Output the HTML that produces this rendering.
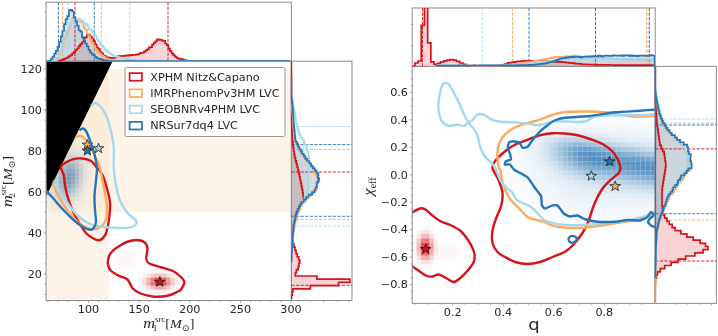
<!DOCTYPE html>
<html><head><meta charset="utf-8"><title>posterior comparison</title>
<style>
html,body{margin:0;padding:0;background:#fff;}
body{width:718px;height:336px;overflow:hidden;}
svg{display:block}
.t{font-family:"DejaVu Sans","Liberation Sans",sans-serif;fill:#262626}
.m{font-family:"Liberation Serif","DejaVu Serif",serif;fill:#262626}
</style></head><body>
<svg width="718" height="336" viewBox="0 0 718 336">
<g id="left">
<clipPath id="cl"><rect x="46.10" y="61.20" width="245.30" height="239.30"/></clipPath>
<clipPath id="clt"><rect x="46.10" y="2.20" width="245.30" height="59.10"/></clipPath>
<clipPath id="clr"><rect x="290.60" y="61.20" width="61.40" height="239.30"/></clipPath>
<g clip-path="url(#cl)">
<rect x="46.10" y="69.00" width="245.30" height="143.50" fill="#fbe3c4" fill-opacity="0.38"/>
<rect x="46.10" y="61.20" width="62.65" height="239.30" fill="#fbe3c4" fill-opacity="0.38"/>
<rect x="46.40" y="139.50" width="4.10" height="4.10" fill="#fff" fill-opacity="0.033"/>
<rect x="46.40" y="143.60" width="4.10" height="4.10" fill="#fff" fill-opacity="0.044"/>
<rect x="46.40" y="147.70" width="4.10" height="4.10" fill="#fff" fill-opacity="0.056"/>
<rect x="46.40" y="151.80" width="4.10" height="4.10" fill="#fff" fill-opacity="0.070"/>
<rect x="46.40" y="155.90" width="4.10" height="4.10" fill="#fff" fill-opacity="0.084"/>
<rect x="46.40" y="160.00" width="4.10" height="4.10" fill="#fff" fill-opacity="0.100"/>
<rect x="46.40" y="164.10" width="4.10" height="4.10" fill="#fff" fill-opacity="0.114"/>
<rect x="46.40" y="164.10" width="4.10" height="4.10" fill="#41739f" fill-opacity="0.026"/>
<rect x="46.40" y="168.20" width="4.10" height="4.10" fill="#fff" fill-opacity="0.128"/>
<rect x="46.40" y="168.20" width="4.10" height="4.10" fill="#41739f" fill-opacity="0.037"/>
<rect x="46.40" y="172.30" width="4.10" height="4.10" fill="#fff" fill-opacity="0.140"/>
<rect x="46.40" y="172.30" width="4.10" height="4.10" fill="#41739f" fill-opacity="0.049"/>
<rect x="46.40" y="176.40" width="4.10" height="4.10" fill="#fff" fill-opacity="0.148"/>
<rect x="46.40" y="176.40" width="4.10" height="4.10" fill="#41739f" fill-opacity="0.060"/>
<rect x="46.40" y="180.50" width="4.10" height="4.10" fill="#fff" fill-opacity="0.153"/>
<rect x="46.40" y="180.50" width="4.10" height="4.10" fill="#41739f" fill-opacity="0.066"/>
<rect x="46.40" y="184.60" width="4.10" height="4.10" fill="#fff" fill-opacity="0.154"/>
<rect x="46.40" y="184.60" width="4.10" height="4.10" fill="#41739f" fill-opacity="0.068"/>
<rect x="46.40" y="188.70" width="4.10" height="4.10" fill="#fff" fill-opacity="0.151"/>
<rect x="46.40" y="188.70" width="4.10" height="4.10" fill="#41739f" fill-opacity="0.063"/>
<rect x="46.40" y="192.80" width="4.10" height="4.10" fill="#fff" fill-opacity="0.144"/>
<rect x="46.40" y="192.80" width="4.10" height="4.10" fill="#41739f" fill-opacity="0.055"/>
<rect x="46.40" y="196.90" width="4.10" height="4.10" fill="#fff" fill-opacity="0.134"/>
<rect x="46.40" y="196.90" width="4.10" height="4.10" fill="#41739f" fill-opacity="0.043"/>
<rect x="46.40" y="201.00" width="4.10" height="4.10" fill="#fff" fill-opacity="0.121"/>
<rect x="46.40" y="201.00" width="4.10" height="4.10" fill="#41739f" fill-opacity="0.031"/>
<rect x="46.40" y="205.10" width="4.10" height="4.10" fill="#fff" fill-opacity="0.107"/>
<rect x="46.40" y="205.10" width="4.10" height="4.10" fill="#41739f" fill-opacity="0.021"/>
<rect x="46.40" y="209.20" width="4.10" height="4.10" fill="#fff" fill-opacity="0.092"/>
<rect x="46.40" y="213.30" width="4.10" height="4.10" fill="#fff" fill-opacity="0.077"/>
<rect x="46.40" y="217.40" width="4.10" height="4.10" fill="#fff" fill-opacity="0.062"/>
<rect x="46.40" y="221.50" width="4.10" height="4.10" fill="#fff" fill-opacity="0.049"/>
<rect x="46.40" y="225.60" width="4.10" height="4.10" fill="#fff" fill-opacity="0.038"/>
<rect x="50.50" y="135.40" width="4.10" height="4.10" fill="#fff" fill-opacity="0.036"/>
<rect x="50.50" y="139.50" width="4.10" height="4.10" fill="#fff" fill-opacity="0.048"/>
<rect x="50.50" y="143.60" width="4.10" height="4.10" fill="#fff" fill-opacity="0.063"/>
<rect x="50.50" y="147.70" width="4.10" height="4.10" fill="#fff" fill-opacity="0.080"/>
<rect x="50.50" y="151.80" width="4.10" height="4.10" fill="#fff" fill-opacity="0.098"/>
<rect x="50.50" y="155.90" width="4.10" height="4.10" fill="#fff" fill-opacity="0.118"/>
<rect x="50.50" y="155.90" width="4.10" height="4.10" fill="#41739f" fill-opacity="0.029"/>
<rect x="50.50" y="160.00" width="4.10" height="4.10" fill="#fff" fill-opacity="0.138"/>
<rect x="50.50" y="160.00" width="4.10" height="4.10" fill="#41739f" fill-opacity="0.047"/>
<rect x="50.50" y="164.10" width="4.10" height="4.10" fill="#fff" fill-opacity="0.157"/>
<rect x="50.50" y="164.10" width="4.10" height="4.10" fill="#41739f" fill-opacity="0.071"/>
<rect x="50.50" y="168.20" width="4.10" height="4.10" fill="#fff" fill-opacity="0.173"/>
<rect x="50.50" y="168.20" width="4.10" height="4.10" fill="#41739f" fill-opacity="0.099"/>
<rect x="50.50" y="172.30" width="4.10" height="4.10" fill="#fff" fill-opacity="0.187"/>
<rect x="50.50" y="172.30" width="4.10" height="4.10" fill="#41739f" fill-opacity="0.126"/>
<rect x="50.50" y="176.40" width="4.10" height="4.10" fill="#fff" fill-opacity="0.197"/>
<rect x="50.50" y="176.40" width="4.10" height="4.10" fill="#41739f" fill-opacity="0.148"/>
<rect x="50.50" y="180.50" width="4.10" height="4.10" fill="#fff" fill-opacity="0.201"/>
<rect x="50.50" y="180.50" width="4.10" height="4.10" fill="#41739f" fill-opacity="0.159"/>
<rect x="50.50" y="184.60" width="4.10" height="4.10" fill="#fff" fill-opacity="0.201"/>
<rect x="50.50" y="184.60" width="4.10" height="4.10" fill="#41739f" fill-opacity="0.157"/>
<rect x="50.50" y="188.70" width="4.10" height="4.10" fill="#fff" fill-opacity="0.195"/>
<rect x="50.50" y="188.70" width="4.10" height="4.10" fill="#41739f" fill-opacity="0.143"/>
<rect x="50.50" y="192.80" width="4.10" height="4.10" fill="#fff" fill-opacity="0.184"/>
<rect x="50.50" y="192.80" width="4.10" height="4.10" fill="#41739f" fill-opacity="0.119"/>
<rect x="50.50" y="196.90" width="4.10" height="4.10" fill="#fff" fill-opacity="0.169"/>
<rect x="50.50" y="196.90" width="4.10" height="4.10" fill="#41739f" fill-opacity="0.091"/>
<rect x="50.50" y="201.00" width="4.10" height="4.10" fill="#fff" fill-opacity="0.152"/>
<rect x="50.50" y="201.00" width="4.10" height="4.10" fill="#41739f" fill-opacity="0.064"/>
<rect x="50.50" y="205.10" width="4.10" height="4.10" fill="#fff" fill-opacity="0.132"/>
<rect x="50.50" y="205.10" width="4.10" height="4.10" fill="#41739f" fill-opacity="0.041"/>
<rect x="50.50" y="209.20" width="4.10" height="4.10" fill="#fff" fill-opacity="0.112"/>
<rect x="50.50" y="209.20" width="4.10" height="4.10" fill="#41739f" fill-opacity="0.025"/>
<rect x="50.50" y="213.30" width="4.10" height="4.10" fill="#fff" fill-opacity="0.093"/>
<rect x="50.50" y="217.40" width="4.10" height="4.10" fill="#fff" fill-opacity="0.075"/>
<rect x="50.50" y="221.50" width="4.10" height="4.10" fill="#fff" fill-opacity="0.059"/>
<rect x="50.50" y="225.60" width="4.10" height="4.10" fill="#fff" fill-opacity="0.045"/>
<rect x="50.50" y="229.70" width="4.10" height="4.10" fill="#fff" fill-opacity="0.033"/>
<rect x="54.60" y="131.30" width="4.10" height="4.10" fill="#fff" fill-opacity="0.037"/>
<rect x="54.60" y="135.40" width="4.10" height="4.10" fill="#fff" fill-opacity="0.050"/>
<rect x="54.60" y="139.50" width="4.10" height="4.10" fill="#fff" fill-opacity="0.066"/>
<rect x="54.60" y="143.60" width="4.10" height="4.10" fill="#fff" fill-opacity="0.085"/>
<rect x="54.60" y="147.70" width="4.10" height="4.10" fill="#fff" fill-opacity="0.106"/>
<rect x="54.60" y="147.70" width="4.10" height="4.10" fill="#41739f" fill-opacity="0.021"/>
<rect x="54.60" y="151.80" width="4.10" height="4.10" fill="#fff" fill-opacity="0.130"/>
<rect x="54.60" y="151.80" width="4.10" height="4.10" fill="#41739f" fill-opacity="0.039"/>
<rect x="54.60" y="155.90" width="4.10" height="4.10" fill="#fff" fill-opacity="0.154"/>
<rect x="54.60" y="155.90" width="4.10" height="4.10" fill="#41739f" fill-opacity="0.068"/>
<rect x="54.60" y="160.00" width="4.10" height="4.10" fill="#fff" fill-opacity="0.178"/>
<rect x="54.60" y="160.00" width="4.10" height="4.10" fill="#41739f" fill-opacity="0.108"/>
<rect x="54.60" y="164.10" width="4.10" height="4.10" fill="#fff" fill-opacity="0.201"/>
<rect x="54.60" y="164.10" width="4.10" height="4.10" fill="#41739f" fill-opacity="0.158"/>
<rect x="54.60" y="168.20" width="4.10" height="4.10" fill="#fff" fill-opacity="0.220"/>
<rect x="54.60" y="168.20" width="4.10" height="4.10" fill="#41739f" fill-opacity="0.212"/>
<rect x="54.60" y="172.30" width="4.10" height="4.10" fill="#fff" fill-opacity="0.235"/>
<rect x="54.60" y="172.30" width="4.10" height="4.10" fill="#41739f" fill-opacity="0.262"/>
<rect x="54.60" y="176.40" width="4.10" height="4.10" fill="#fff" fill-opacity="0.245"/>
<rect x="54.60" y="176.40" width="4.10" height="4.10" fill="#41739f" fill-opacity="0.297"/>
<rect x="54.60" y="180.50" width="4.10" height="4.10" fill="#fff" fill-opacity="0.248"/>
<rect x="54.60" y="180.50" width="4.10" height="4.10" fill="#41739f" fill-opacity="0.310"/>
<rect x="54.60" y="184.60" width="4.10" height="4.10" fill="#fff" fill-opacity="0.245"/>
<rect x="54.60" y="184.60" width="4.10" height="4.10" fill="#41739f" fill-opacity="0.296"/>
<rect x="54.60" y="188.70" width="4.10" height="4.10" fill="#fff" fill-opacity="0.235"/>
<rect x="54.60" y="188.70" width="4.10" height="4.10" fill="#41739f" fill-opacity="0.261"/>
<rect x="54.60" y="192.80" width="4.10" height="4.10" fill="#fff" fill-opacity="0.220"/>
<rect x="54.60" y="192.80" width="4.10" height="4.10" fill="#41739f" fill-opacity="0.210"/>
<rect x="54.60" y="196.90" width="4.10" height="4.10" fill="#fff" fill-opacity="0.200"/>
<rect x="54.60" y="196.90" width="4.10" height="4.10" fill="#41739f" fill-opacity="0.156"/>
<rect x="54.60" y="201.00" width="4.10" height="4.10" fill="#fff" fill-opacity="0.178"/>
<rect x="54.60" y="201.00" width="4.10" height="4.10" fill="#41739f" fill-opacity="0.106"/>
<rect x="54.60" y="205.10" width="4.10" height="4.10" fill="#fff" fill-opacity="0.153"/>
<rect x="54.60" y="205.10" width="4.10" height="4.10" fill="#41739f" fill-opacity="0.067"/>
<rect x="54.60" y="209.20" width="4.10" height="4.10" fill="#fff" fill-opacity="0.129"/>
<rect x="54.60" y="209.20" width="4.10" height="4.10" fill="#41739f" fill-opacity="0.038"/>
<rect x="54.60" y="213.30" width="4.10" height="4.10" fill="#fff" fill-opacity="0.106"/>
<rect x="54.60" y="213.30" width="4.10" height="4.10" fill="#41739f" fill-opacity="0.020"/>
<rect x="54.60" y="217.40" width="4.10" height="4.10" fill="#fff" fill-opacity="0.084"/>
<rect x="54.60" y="221.50" width="4.10" height="4.10" fill="#fff" fill-opacity="0.066"/>
<rect x="54.60" y="225.60" width="4.10" height="4.10" fill="#fff" fill-opacity="0.050"/>
<rect x="54.60" y="229.70" width="4.10" height="4.10" fill="#fff" fill-opacity="0.037"/>
<rect x="58.70" y="127.20" width="4.10" height="4.10" fill="#fff" fill-opacity="0.035"/>
<rect x="58.70" y="131.30" width="4.10" height="4.10" fill="#fff" fill-opacity="0.048"/>
<rect x="58.70" y="135.40" width="4.10" height="4.10" fill="#fff" fill-opacity="0.064"/>
<rect x="58.70" y="139.50" width="4.10" height="4.10" fill="#fff" fill-opacity="0.084"/>
<rect x="58.70" y="143.60" width="4.10" height="4.10" fill="#fff" fill-opacity="0.107"/>
<rect x="58.70" y="143.60" width="4.10" height="4.10" fill="#41739f" fill-opacity="0.021"/>
<rect x="58.70" y="147.70" width="4.10" height="4.10" fill="#fff" fill-opacity="0.133"/>
<rect x="58.70" y="147.70" width="4.10" height="4.10" fill="#41739f" fill-opacity="0.042"/>
<rect x="58.70" y="151.80" width="4.10" height="4.10" fill="#fff" fill-opacity="0.161"/>
<rect x="58.70" y="151.80" width="4.10" height="4.10" fill="#41739f" fill-opacity="0.077"/>
<rect x="58.70" y="155.90" width="4.10" height="4.10" fill="#fff" fill-opacity="0.189"/>
<rect x="58.70" y="155.90" width="4.10" height="4.10" fill="#41739f" fill-opacity="0.130"/>
<rect x="58.70" y="160.00" width="4.10" height="4.10" fill="#fff" fill-opacity="0.216"/>
<rect x="58.70" y="160.00" width="4.10" height="4.10" fill="#41739f" fill-opacity="0.200"/>
<rect x="58.70" y="164.10" width="4.10" height="4.10" fill="#fff" fill-opacity="0.241"/>
<rect x="58.70" y="164.10" width="4.10" height="4.10" fill="#41739f" fill-opacity="0.284"/>
<rect x="58.70" y="168.20" width="4.10" height="4.10" fill="#fff" fill-opacity="0.262"/>
<rect x="58.70" y="168.20" width="4.10" height="4.10" fill="#41739f" fill-opacity="0.370"/>
<rect x="58.70" y="172.30" width="4.10" height="4.10" fill="#fff" fill-opacity="0.277"/>
<rect x="58.70" y="172.30" width="4.10" height="4.10" fill="#41739f" fill-opacity="0.443"/>
<rect x="58.70" y="176.40" width="4.10" height="4.10" fill="#fff" fill-opacity="0.286"/>
<rect x="58.70" y="176.40" width="4.10" height="4.10" fill="#41739f" fill-opacity="0.486"/>
<rect x="58.70" y="180.50" width="4.10" height="4.10" fill="#fff" fill-opacity="0.286"/>
<rect x="58.70" y="180.50" width="4.10" height="4.10" fill="#41739f" fill-opacity="0.491"/>
<rect x="58.70" y="184.60" width="4.10" height="4.10" fill="#fff" fill-opacity="0.280"/>
<rect x="58.70" y="184.60" width="4.10" height="4.10" fill="#41739f" fill-opacity="0.455"/>
<rect x="58.70" y="188.70" width="4.10" height="4.10" fill="#fff" fill-opacity="0.266"/>
<rect x="58.70" y="188.70" width="4.10" height="4.10" fill="#41739f" fill-opacity="0.387"/>
<rect x="58.70" y="192.80" width="4.10" height="4.10" fill="#fff" fill-opacity="0.246"/>
<rect x="58.70" y="192.80" width="4.10" height="4.10" fill="#41739f" fill-opacity="0.303"/>
<rect x="58.70" y="196.90" width="4.10" height="4.10" fill="#fff" fill-opacity="0.222"/>
<rect x="58.70" y="196.90" width="4.10" height="4.10" fill="#41739f" fill-opacity="0.218"/>
<rect x="58.70" y="201.00" width="4.10" height="4.10" fill="#fff" fill-opacity="0.195"/>
<rect x="58.70" y="201.00" width="4.10" height="4.10" fill="#41739f" fill-opacity="0.144"/>
<rect x="58.70" y="205.10" width="4.10" height="4.10" fill="#fff" fill-opacity="0.167"/>
<rect x="58.70" y="205.10" width="4.10" height="4.10" fill="#41739f" fill-opacity="0.087"/>
<rect x="58.70" y="209.20" width="4.10" height="4.10" fill="#fff" fill-opacity="0.139"/>
<rect x="58.70" y="209.20" width="4.10" height="4.10" fill="#41739f" fill-opacity="0.048"/>
<rect x="58.70" y="213.30" width="4.10" height="4.10" fill="#fff" fill-opacity="0.113"/>
<rect x="58.70" y="213.30" width="4.10" height="4.10" fill="#41739f" fill-opacity="0.025"/>
<rect x="58.70" y="217.40" width="4.10" height="4.10" fill="#fff" fill-opacity="0.089"/>
<rect x="58.70" y="221.50" width="4.10" height="4.10" fill="#fff" fill-opacity="0.068"/>
<rect x="58.70" y="225.60" width="4.10" height="4.10" fill="#fff" fill-opacity="0.051"/>
<rect x="58.70" y="229.70" width="4.10" height="4.10" fill="#fff" fill-opacity="0.037"/>
<rect x="62.80" y="127.20" width="4.10" height="4.10" fill="#fff" fill-opacity="0.043"/>
<rect x="62.80" y="131.30" width="4.10" height="4.10" fill="#fff" fill-opacity="0.059"/>
<rect x="62.80" y="135.40" width="4.10" height="4.10" fill="#fff" fill-opacity="0.078"/>
<rect x="62.80" y="139.50" width="4.10" height="4.10" fill="#fff" fill-opacity="0.101"/>
<rect x="62.80" y="143.60" width="4.10" height="4.10" fill="#fff" fill-opacity="0.127"/>
<rect x="62.80" y="143.60" width="4.10" height="4.10" fill="#41739f" fill-opacity="0.037"/>
<rect x="62.80" y="147.70" width="4.10" height="4.10" fill="#fff" fill-opacity="0.156"/>
<rect x="62.80" y="147.70" width="4.10" height="4.10" fill="#41739f" fill-opacity="0.070"/>
<rect x="62.80" y="151.80" width="4.10" height="4.10" fill="#fff" fill-opacity="0.187"/>
<rect x="62.80" y="151.80" width="4.10" height="4.10" fill="#41739f" fill-opacity="0.125"/>
<rect x="62.80" y="155.90" width="4.10" height="4.10" fill="#fff" fill-opacity="0.217"/>
<rect x="62.80" y="155.90" width="4.10" height="4.10" fill="#41739f" fill-opacity="0.203"/>
<rect x="62.80" y="160.00" width="4.10" height="4.10" fill="#fff" fill-opacity="0.246"/>
<rect x="62.80" y="160.00" width="4.10" height="4.10" fill="#41739f" fill-opacity="0.303"/>
<rect x="62.80" y="164.10" width="4.10" height="4.10" fill="#fff" fill-opacity="0.272"/>
<rect x="62.80" y="164.10" width="4.10" height="4.10" fill="#41739f" fill-opacity="0.416"/>
<rect x="62.80" y="168.20" width="4.10" height="4.10" fill="#fff" fill-opacity="0.292"/>
<rect x="62.80" y="168.20" width="4.10" height="4.10" fill="#41739f" fill-opacity="0.525"/>
<rect x="62.80" y="172.30" width="4.10" height="4.10" fill="#fff" fill-opacity="0.306"/>
<rect x="62.80" y="172.30" width="4.10" height="4.10" fill="#41739f" fill-opacity="0.608"/>
<rect x="62.80" y="176.40" width="4.10" height="4.10" fill="#fff" fill-opacity="0.312"/>
<rect x="62.80" y="176.40" width="4.10" height="4.10" fill="#41739f" fill-opacity="0.646"/>
<rect x="62.80" y="180.50" width="4.10" height="4.10" fill="#fff" fill-opacity="0.310"/>
<rect x="62.80" y="180.50" width="4.10" height="4.10" fill="#41739f" fill-opacity="0.632"/>
<rect x="62.80" y="184.60" width="4.10" height="4.10" fill="#fff" fill-opacity="0.300"/>
<rect x="62.80" y="184.60" width="4.10" height="4.10" fill="#41739f" fill-opacity="0.567"/>
<rect x="62.80" y="188.70" width="4.10" height="4.10" fill="#fff" fill-opacity="0.282"/>
<rect x="62.80" y="188.70" width="4.10" height="4.10" fill="#41739f" fill-opacity="0.467"/>
<rect x="62.80" y="192.80" width="4.10" height="4.10" fill="#fff" fill-opacity="0.259"/>
<rect x="62.80" y="192.80" width="4.10" height="4.10" fill="#41739f" fill-opacity="0.354"/>
<rect x="62.80" y="196.90" width="4.10" height="4.10" fill="#fff" fill-opacity="0.231"/>
<rect x="62.80" y="196.90" width="4.10" height="4.10" fill="#41739f" fill-opacity="0.246"/>
<rect x="62.80" y="201.00" width="4.10" height="4.10" fill="#fff" fill-opacity="0.201"/>
<rect x="62.80" y="201.00" width="4.10" height="4.10" fill="#41739f" fill-opacity="0.157"/>
<rect x="62.80" y="205.10" width="4.10" height="4.10" fill="#fff" fill-opacity="0.170"/>
<rect x="62.80" y="205.10" width="4.10" height="4.10" fill="#41739f" fill-opacity="0.092"/>
<rect x="62.80" y="209.20" width="4.10" height="4.10" fill="#fff" fill-opacity="0.140"/>
<rect x="62.80" y="209.20" width="4.10" height="4.10" fill="#41739f" fill-opacity="0.050"/>
<rect x="62.80" y="213.30" width="4.10" height="4.10" fill="#fff" fill-opacity="0.112"/>
<rect x="62.80" y="213.30" width="4.10" height="4.10" fill="#41739f" fill-opacity="0.025"/>
<rect x="62.80" y="217.40" width="4.10" height="4.10" fill="#fff" fill-opacity="0.088"/>
<rect x="62.80" y="221.50" width="4.10" height="4.10" fill="#fff" fill-opacity="0.067"/>
<rect x="62.80" y="225.60" width="4.10" height="4.10" fill="#fff" fill-opacity="0.050"/>
<rect x="62.80" y="229.70" width="4.10" height="4.10" fill="#fff" fill-opacity="0.036"/>
<rect x="66.90" y="127.20" width="4.10" height="4.10" fill="#fff" fill-opacity="0.050"/>
<rect x="66.90" y="131.30" width="4.10" height="4.10" fill="#fff" fill-opacity="0.067"/>
<rect x="66.90" y="135.40" width="4.10" height="4.10" fill="#fff" fill-opacity="0.088"/>
<rect x="66.90" y="139.50" width="4.10" height="4.10" fill="#fff" fill-opacity="0.113"/>
<rect x="66.90" y="139.50" width="4.10" height="4.10" fill="#41739f" fill-opacity="0.025"/>
<rect x="66.90" y="143.60" width="4.10" height="4.10" fill="#fff" fill-opacity="0.141"/>
<rect x="66.90" y="143.60" width="4.10" height="4.10" fill="#41739f" fill-opacity="0.051"/>
<rect x="66.90" y="147.70" width="4.10" height="4.10" fill="#fff" fill-opacity="0.172"/>
<rect x="66.90" y="147.70" width="4.10" height="4.10" fill="#41739f" fill-opacity="0.095"/>
<rect x="66.90" y="151.80" width="4.10" height="4.10" fill="#fff" fill-opacity="0.203"/>
<rect x="66.90" y="151.80" width="4.10" height="4.10" fill="#41739f" fill-opacity="0.164"/>
<rect x="66.90" y="155.90" width="4.10" height="4.10" fill="#fff" fill-opacity="0.234"/>
<rect x="66.90" y="155.90" width="4.10" height="4.10" fill="#41739f" fill-opacity="0.258"/>
<rect x="66.90" y="160.00" width="4.10" height="4.10" fill="#fff" fill-opacity="0.263"/>
<rect x="66.90" y="160.00" width="4.10" height="4.10" fill="#41739f" fill-opacity="0.373"/>
<rect x="66.90" y="164.10" width="4.10" height="4.10" fill="#fff" fill-opacity="0.287"/>
<rect x="66.90" y="164.10" width="4.10" height="4.10" fill="#41739f" fill-opacity="0.495"/>
<rect x="66.90" y="168.20" width="4.10" height="4.10" fill="#fff" fill-opacity="0.306"/>
<rect x="66.90" y="168.20" width="4.10" height="4.10" fill="#41739f" fill-opacity="0.605"/>
<rect x="66.90" y="172.30" width="4.10" height="4.10" fill="#fff" fill-opacity="0.317"/>
<rect x="66.90" y="172.30" width="4.10" height="4.10" fill="#41739f" fill-opacity="0.678"/>
<rect x="66.90" y="176.40" width="4.10" height="4.10" fill="#fff" fill-opacity="0.320"/>
<rect x="66.90" y="176.40" width="4.10" height="4.10" fill="#41739f" fill-opacity="0.698"/>
<rect x="66.90" y="180.50" width="4.10" height="4.10" fill="#fff" fill-opacity="0.314"/>
<rect x="66.90" y="180.50" width="4.10" height="4.10" fill="#41739f" fill-opacity="0.661"/>
<rect x="66.90" y="184.60" width="4.10" height="4.10" fill="#fff" fill-opacity="0.301"/>
<rect x="66.90" y="184.60" width="4.10" height="4.10" fill="#41739f" fill-opacity="0.574"/>
<rect x="66.90" y="188.70" width="4.10" height="4.10" fill="#fff" fill-opacity="0.280"/>
<rect x="66.90" y="188.70" width="4.10" height="4.10" fill="#41739f" fill-opacity="0.459"/>
<rect x="66.90" y="192.80" width="4.10" height="4.10" fill="#fff" fill-opacity="0.254"/>
<rect x="66.90" y="192.80" width="4.10" height="4.10" fill="#41739f" fill-opacity="0.336"/>
<rect x="66.90" y="196.90" width="4.10" height="4.10" fill="#fff" fill-opacity="0.225"/>
<rect x="66.90" y="196.90" width="4.10" height="4.10" fill="#41739f" fill-opacity="0.227"/>
<rect x="66.90" y="201.00" width="4.10" height="4.10" fill="#fff" fill-opacity="0.194"/>
<rect x="66.90" y="201.00" width="4.10" height="4.10" fill="#41739f" fill-opacity="0.140"/>
<rect x="66.90" y="205.10" width="4.10" height="4.10" fill="#fff" fill-opacity="0.162"/>
<rect x="66.90" y="205.10" width="4.10" height="4.10" fill="#41739f" fill-opacity="0.080"/>
<rect x="66.90" y="209.20" width="4.10" height="4.10" fill="#fff" fill-opacity="0.132"/>
<rect x="66.90" y="209.20" width="4.10" height="4.10" fill="#41739f" fill-opacity="0.042"/>
<rect x="66.90" y="213.30" width="4.10" height="4.10" fill="#fff" fill-opacity="0.105"/>
<rect x="66.90" y="217.40" width="4.10" height="4.10" fill="#fff" fill-opacity="0.081"/>
<rect x="66.90" y="221.50" width="4.10" height="4.10" fill="#fff" fill-opacity="0.061"/>
<rect x="66.90" y="225.60" width="4.10" height="4.10" fill="#fff" fill-opacity="0.045"/>
<rect x="66.90" y="229.70" width="4.10" height="4.10" fill="#fff" fill-opacity="0.032"/>
<rect x="71.00" y="127.20" width="4.10" height="4.10" fill="#fff" fill-opacity="0.054"/>
<rect x="71.00" y="131.30" width="4.10" height="4.10" fill="#fff" fill-opacity="0.072"/>
<rect x="71.00" y="135.40" width="4.10" height="4.10" fill="#fff" fill-opacity="0.094"/>
<rect x="71.00" y="139.50" width="4.10" height="4.10" fill="#fff" fill-opacity="0.119"/>
<rect x="71.00" y="139.50" width="4.10" height="4.10" fill="#41739f" fill-opacity="0.029"/>
<rect x="71.00" y="143.60" width="4.10" height="4.10" fill="#fff" fill-opacity="0.147"/>
<rect x="71.00" y="143.60" width="4.10" height="4.10" fill="#41739f" fill-opacity="0.058"/>
<rect x="71.00" y="147.70" width="4.10" height="4.10" fill="#fff" fill-opacity="0.177"/>
<rect x="71.00" y="147.70" width="4.10" height="4.10" fill="#41739f" fill-opacity="0.105"/>
<rect x="71.00" y="151.80" width="4.10" height="4.10" fill="#fff" fill-opacity="0.207"/>
<rect x="71.00" y="151.80" width="4.10" height="4.10" fill="#41739f" fill-opacity="0.174"/>
<rect x="71.00" y="155.90" width="4.10" height="4.10" fill="#fff" fill-opacity="0.236"/>
<rect x="71.00" y="155.90" width="4.10" height="4.10" fill="#41739f" fill-opacity="0.266"/>
<rect x="71.00" y="160.00" width="4.10" height="4.10" fill="#fff" fill-opacity="0.263"/>
<rect x="71.00" y="160.00" width="4.10" height="4.10" fill="#41739f" fill-opacity="0.372"/>
<rect x="71.00" y="164.10" width="4.10" height="4.10" fill="#fff" fill-opacity="0.284"/>
<rect x="71.00" y="164.10" width="4.10" height="4.10" fill="#41739f" fill-opacity="0.479"/>
<rect x="71.00" y="168.20" width="4.10" height="4.10" fill="#fff" fill-opacity="0.299"/>
<rect x="71.00" y="168.20" width="4.10" height="4.10" fill="#41739f" fill-opacity="0.566"/>
<rect x="71.00" y="172.30" width="4.10" height="4.10" fill="#fff" fill-opacity="0.307"/>
<rect x="71.00" y="172.30" width="4.10" height="4.10" fill="#41739f" fill-opacity="0.615"/>
<rect x="71.00" y="176.40" width="4.10" height="4.10" fill="#fff" fill-opacity="0.307"/>
<rect x="71.00" y="176.40" width="4.10" height="4.10" fill="#41739f" fill-opacity="0.613"/>
<rect x="71.00" y="180.50" width="4.10" height="4.10" fill="#fff" fill-opacity="0.299"/>
<rect x="71.00" y="180.50" width="4.10" height="4.10" fill="#41739f" fill-opacity="0.562"/>
<rect x="71.00" y="184.60" width="4.10" height="4.10" fill="#fff" fill-opacity="0.283"/>
<rect x="71.00" y="184.60" width="4.10" height="4.10" fill="#41739f" fill-opacity="0.473"/>
<rect x="71.00" y="188.70" width="4.10" height="4.10" fill="#fff" fill-opacity="0.261"/>
<rect x="71.00" y="188.70" width="4.10" height="4.10" fill="#41739f" fill-opacity="0.366"/>
<rect x="71.00" y="192.80" width="4.10" height="4.10" fill="#fff" fill-opacity="0.235"/>
<rect x="71.00" y="192.80" width="4.10" height="4.10" fill="#41739f" fill-opacity="0.260"/>
<rect x="71.00" y="196.90" width="4.10" height="4.10" fill="#fff" fill-opacity="0.205"/>
<rect x="71.00" y="196.90" width="4.10" height="4.10" fill="#41739f" fill-opacity="0.169"/>
<rect x="71.00" y="201.00" width="4.10" height="4.10" fill="#fff" fill-opacity="0.175"/>
<rect x="71.00" y="201.00" width="4.10" height="4.10" fill="#41739f" fill-opacity="0.101"/>
<rect x="71.00" y="205.10" width="4.10" height="4.10" fill="#fff" fill-opacity="0.145"/>
<rect x="71.00" y="205.10" width="4.10" height="4.10" fill="#41739f" fill-opacity="0.056"/>
<rect x="71.00" y="209.20" width="4.10" height="4.10" fill="#fff" fill-opacity="0.117"/>
<rect x="71.00" y="209.20" width="4.10" height="4.10" fill="#41739f" fill-opacity="0.028"/>
<rect x="71.00" y="213.30" width="4.10" height="4.10" fill="#fff" fill-opacity="0.092"/>
<rect x="71.00" y="217.40" width="4.10" height="4.10" fill="#fff" fill-opacity="0.071"/>
<rect x="71.00" y="221.50" width="4.10" height="4.10" fill="#fff" fill-opacity="0.053"/>
<rect x="71.00" y="225.60" width="4.10" height="4.10" fill="#fff" fill-opacity="0.038"/>
<rect x="75.10" y="127.20" width="4.10" height="4.10" fill="#fff" fill-opacity="0.055"/>
<rect x="75.10" y="131.30" width="4.10" height="4.10" fill="#fff" fill-opacity="0.072"/>
<rect x="75.10" y="135.40" width="4.10" height="4.10" fill="#fff" fill-opacity="0.093"/>
<rect x="75.10" y="139.50" width="4.10" height="4.10" fill="#fff" fill-opacity="0.117"/>
<rect x="75.10" y="139.50" width="4.10" height="4.10" fill="#41739f" fill-opacity="0.028"/>
<rect x="75.10" y="143.60" width="4.10" height="4.10" fill="#fff" fill-opacity="0.143"/>
<rect x="75.10" y="143.60" width="4.10" height="4.10" fill="#41739f" fill-opacity="0.054"/>
<rect x="75.10" y="147.70" width="4.10" height="4.10" fill="#fff" fill-opacity="0.171"/>
<rect x="75.10" y="147.70" width="4.10" height="4.10" fill="#41739f" fill-opacity="0.094"/>
<rect x="75.10" y="151.80" width="4.10" height="4.10" fill="#fff" fill-opacity="0.198"/>
<rect x="75.10" y="151.80" width="4.10" height="4.10" fill="#41739f" fill-opacity="0.151"/>
<rect x="75.10" y="155.90" width="4.10" height="4.10" fill="#fff" fill-opacity="0.224"/>
<rect x="75.10" y="155.90" width="4.10" height="4.10" fill="#41739f" fill-opacity="0.223"/>
<rect x="75.10" y="160.00" width="4.10" height="4.10" fill="#fff" fill-opacity="0.246"/>
<rect x="75.10" y="160.00" width="4.10" height="4.10" fill="#41739f" fill-opacity="0.302"/>
<rect x="75.10" y="164.10" width="4.10" height="4.10" fill="#fff" fill-opacity="0.264"/>
<rect x="75.10" y="164.10" width="4.10" height="4.10" fill="#41739f" fill-opacity="0.376"/>
<rect x="75.10" y="168.20" width="4.10" height="4.10" fill="#fff" fill-opacity="0.275"/>
<rect x="75.10" y="168.20" width="4.10" height="4.10" fill="#41739f" fill-opacity="0.431"/>
<rect x="75.10" y="172.30" width="4.10" height="4.10" fill="#fff" fill-opacity="0.279"/>
<rect x="75.10" y="172.30" width="4.10" height="4.10" fill="#41739f" fill-opacity="0.453"/>
<rect x="75.10" y="176.40" width="4.10" height="4.10" fill="#fff" fill-opacity="0.276"/>
<rect x="75.10" y="176.40" width="4.10" height="4.10" fill="#41739f" fill-opacity="0.438"/>
<rect x="75.10" y="180.50" width="4.10" height="4.10" fill="#fff" fill-opacity="0.266"/>
<rect x="75.10" y="180.50" width="4.10" height="4.10" fill="#41739f" fill-opacity="0.388"/>
<rect x="75.10" y="184.60" width="4.10" height="4.10" fill="#fff" fill-opacity="0.250"/>
<rect x="75.10" y="184.60" width="4.10" height="4.10" fill="#41739f" fill-opacity="0.316"/>
<rect x="75.10" y="188.70" width="4.10" height="4.10" fill="#fff" fill-opacity="0.228"/>
<rect x="75.10" y="188.70" width="4.10" height="4.10" fill="#41739f" fill-opacity="0.237"/>
<rect x="75.10" y="192.80" width="4.10" height="4.10" fill="#fff" fill-opacity="0.203"/>
<rect x="75.10" y="192.80" width="4.10" height="4.10" fill="#41739f" fill-opacity="0.163"/>
<rect x="75.10" y="196.90" width="4.10" height="4.10" fill="#fff" fill-opacity="0.176"/>
<rect x="75.10" y="196.90" width="4.10" height="4.10" fill="#41739f" fill-opacity="0.103"/>
<rect x="75.10" y="201.00" width="4.10" height="4.10" fill="#fff" fill-opacity="0.148"/>
<rect x="75.10" y="201.00" width="4.10" height="4.10" fill="#41739f" fill-opacity="0.060"/>
<rect x="75.10" y="205.10" width="4.10" height="4.10" fill="#fff" fill-opacity="0.122"/>
<rect x="75.10" y="205.10" width="4.10" height="4.10" fill="#41739f" fill-opacity="0.032"/>
<rect x="75.10" y="209.20" width="4.10" height="4.10" fill="#fff" fill-opacity="0.097"/>
<rect x="75.10" y="213.30" width="4.10" height="4.10" fill="#fff" fill-opacity="0.076"/>
<rect x="75.10" y="217.40" width="4.10" height="4.10" fill="#fff" fill-opacity="0.058"/>
<rect x="75.10" y="221.50" width="4.10" height="4.10" fill="#fff" fill-opacity="0.043"/>
<rect x="75.10" y="225.60" width="4.10" height="4.10" fill="#fff" fill-opacity="0.031"/>
<rect x="79.20" y="127.20" width="4.10" height="4.10" fill="#fff" fill-opacity="0.052"/>
<rect x="79.20" y="131.30" width="4.10" height="4.10" fill="#fff" fill-opacity="0.068"/>
<rect x="79.20" y="135.40" width="4.10" height="4.10" fill="#fff" fill-opacity="0.087"/>
<rect x="79.20" y="139.50" width="4.10" height="4.10" fill="#fff" fill-opacity="0.108"/>
<rect x="79.20" y="139.50" width="4.10" height="4.10" fill="#41739f" fill-opacity="0.022"/>
<rect x="79.20" y="143.60" width="4.10" height="4.10" fill="#fff" fill-opacity="0.131"/>
<rect x="79.20" y="143.60" width="4.10" height="4.10" fill="#41739f" fill-opacity="0.040"/>
<rect x="79.20" y="147.70" width="4.10" height="4.10" fill="#fff" fill-opacity="0.155"/>
<rect x="79.20" y="147.70" width="4.10" height="4.10" fill="#41739f" fill-opacity="0.068"/>
<rect x="79.20" y="151.80" width="4.10" height="4.10" fill="#fff" fill-opacity="0.177"/>
<rect x="79.20" y="151.80" width="4.10" height="4.10" fill="#41739f" fill-opacity="0.106"/>
<rect x="79.20" y="155.90" width="4.10" height="4.10" fill="#fff" fill-opacity="0.198"/>
<rect x="79.20" y="155.90" width="4.10" height="4.10" fill="#41739f" fill-opacity="0.152"/>
<rect x="79.20" y="160.00" width="4.10" height="4.10" fill="#fff" fill-opacity="0.216"/>
<rect x="79.20" y="160.00" width="4.10" height="4.10" fill="#41739f" fill-opacity="0.199"/>
<rect x="79.20" y="164.10" width="4.10" height="4.10" fill="#fff" fill-opacity="0.229"/>
<rect x="79.20" y="164.10" width="4.10" height="4.10" fill="#41739f" fill-opacity="0.240"/>
<rect x="79.20" y="168.20" width="4.10" height="4.10" fill="#fff" fill-opacity="0.237"/>
<rect x="79.20" y="168.20" width="4.10" height="4.10" fill="#41739f" fill-opacity="0.266"/>
<rect x="79.20" y="172.30" width="4.10" height="4.10" fill="#fff" fill-opacity="0.238"/>
<rect x="79.20" y="172.30" width="4.10" height="4.10" fill="#41739f" fill-opacity="0.271"/>
<rect x="79.20" y="176.40" width="4.10" height="4.10" fill="#fff" fill-opacity="0.233"/>
<rect x="79.20" y="176.40" width="4.10" height="4.10" fill="#41739f" fill-opacity="0.254"/>
<rect x="79.20" y="180.50" width="4.10" height="4.10" fill="#fff" fill-opacity="0.222"/>
<rect x="79.20" y="180.50" width="4.10" height="4.10" fill="#41739f" fill-opacity="0.218"/>
<rect x="79.20" y="184.60" width="4.10" height="4.10" fill="#fff" fill-opacity="0.206"/>
<rect x="79.20" y="184.60" width="4.10" height="4.10" fill="#41739f" fill-opacity="0.172"/>
<rect x="79.20" y="188.70" width="4.10" height="4.10" fill="#fff" fill-opacity="0.187"/>
<rect x="79.20" y="188.70" width="4.10" height="4.10" fill="#41739f" fill-opacity="0.125"/>
<rect x="79.20" y="192.80" width="4.10" height="4.10" fill="#fff" fill-opacity="0.164"/>
<rect x="79.20" y="192.80" width="4.10" height="4.10" fill="#41739f" fill-opacity="0.083"/>
<rect x="79.20" y="196.90" width="4.10" height="4.10" fill="#fff" fill-opacity="0.141"/>
<rect x="79.20" y="196.90" width="4.10" height="4.10" fill="#41739f" fill-opacity="0.051"/>
<rect x="79.20" y="201.00" width="4.10" height="4.10" fill="#fff" fill-opacity="0.118"/>
<rect x="79.20" y="201.00" width="4.10" height="4.10" fill="#41739f" fill-opacity="0.029"/>
<rect x="79.20" y="205.10" width="4.10" height="4.10" fill="#fff" fill-opacity="0.096"/>
<rect x="79.20" y="209.20" width="4.10" height="4.10" fill="#fff" fill-opacity="0.076"/>
<rect x="79.20" y="213.30" width="4.10" height="4.10" fill="#fff" fill-opacity="0.058"/>
<rect x="79.20" y="217.40" width="4.10" height="4.10" fill="#fff" fill-opacity="0.044"/>
<rect x="79.20" y="221.50" width="4.10" height="4.10" fill="#fff" fill-opacity="0.032"/>
<rect x="83.30" y="127.20" width="4.10" height="4.10" fill="#fff" fill-opacity="0.046"/>
<rect x="83.30" y="131.30" width="4.10" height="4.10" fill="#fff" fill-opacity="0.060"/>
<rect x="83.30" y="135.40" width="4.10" height="4.10" fill="#fff" fill-opacity="0.076"/>
<rect x="83.30" y="139.50" width="4.10" height="4.10" fill="#fff" fill-opacity="0.094"/>
<rect x="83.30" y="143.60" width="4.10" height="4.10" fill="#fff" fill-opacity="0.112"/>
<rect x="83.30" y="143.60" width="4.10" height="4.10" fill="#41739f" fill-opacity="0.024"/>
<rect x="83.30" y="147.70" width="4.10" height="4.10" fill="#fff" fill-opacity="0.131"/>
<rect x="83.30" y="147.70" width="4.10" height="4.10" fill="#41739f" fill-opacity="0.040"/>
<rect x="83.30" y="151.80" width="4.10" height="4.10" fill="#fff" fill-opacity="0.149"/>
<rect x="83.30" y="151.80" width="4.10" height="4.10" fill="#41739f" fill-opacity="0.061"/>
<rect x="83.30" y="155.90" width="4.10" height="4.10" fill="#fff" fill-opacity="0.165"/>
<rect x="83.30" y="155.90" width="4.10" height="4.10" fill="#41739f" fill-opacity="0.084"/>
<rect x="83.30" y="160.00" width="4.10" height="4.10" fill="#fff" fill-opacity="0.178"/>
<rect x="83.30" y="160.00" width="4.10" height="4.10" fill="#41739f" fill-opacity="0.107"/>
<rect x="83.30" y="164.10" width="4.10" height="4.10" fill="#fff" fill-opacity="0.187"/>
<rect x="83.30" y="164.10" width="4.10" height="4.10" fill="#41739f" fill-opacity="0.125"/>
<rect x="83.30" y="168.20" width="4.10" height="4.10" fill="#fff" fill-opacity="0.191"/>
<rect x="83.30" y="168.20" width="4.10" height="4.10" fill="#41739f" fill-opacity="0.134"/>
<rect x="83.30" y="172.30" width="4.10" height="4.10" fill="#fff" fill-opacity="0.190"/>
<rect x="83.30" y="172.30" width="4.10" height="4.10" fill="#41739f" fill-opacity="0.132"/>
<rect x="83.30" y="176.40" width="4.10" height="4.10" fill="#fff" fill-opacity="0.184"/>
<rect x="83.30" y="176.40" width="4.10" height="4.10" fill="#41739f" fill-opacity="0.120"/>
<rect x="83.30" y="180.50" width="4.10" height="4.10" fill="#fff" fill-opacity="0.174"/>
<rect x="83.30" y="180.50" width="4.10" height="4.10" fill="#41739f" fill-opacity="0.099"/>
<rect x="83.30" y="184.60" width="4.10" height="4.10" fill="#fff" fill-opacity="0.160"/>
<rect x="83.30" y="184.60" width="4.10" height="4.10" fill="#41739f" fill-opacity="0.076"/>
<rect x="83.30" y="188.70" width="4.10" height="4.10" fill="#fff" fill-opacity="0.143"/>
<rect x="83.30" y="188.70" width="4.10" height="4.10" fill="#41739f" fill-opacity="0.053"/>
<rect x="83.30" y="192.80" width="4.10" height="4.10" fill="#fff" fill-opacity="0.125"/>
<rect x="83.30" y="192.80" width="4.10" height="4.10" fill="#41739f" fill-opacity="0.034"/>
<rect x="83.30" y="196.90" width="4.10" height="4.10" fill="#fff" fill-opacity="0.106"/>
<rect x="83.30" y="196.90" width="4.10" height="4.10" fill="#41739f" fill-opacity="0.020"/>
<rect x="83.30" y="201.00" width="4.10" height="4.10" fill="#fff" fill-opacity="0.088"/>
<rect x="83.30" y="205.10" width="4.10" height="4.10" fill="#fff" fill-opacity="0.071"/>
<rect x="83.30" y="209.20" width="4.10" height="4.10" fill="#fff" fill-opacity="0.055"/>
<rect x="83.30" y="213.30" width="4.10" height="4.10" fill="#fff" fill-opacity="0.042"/>
<rect x="83.30" y="217.40" width="4.10" height="4.10" fill="#fff" fill-opacity="0.031"/>
<rect x="87.40" y="127.20" width="4.10" height="4.10" fill="#fff" fill-opacity="0.039"/>
<rect x="87.40" y="131.30" width="4.10" height="4.10" fill="#fff" fill-opacity="0.050"/>
<rect x="87.40" y="135.40" width="4.10" height="4.10" fill="#fff" fill-opacity="0.062"/>
<rect x="87.40" y="139.50" width="4.10" height="4.10" fill="#fff" fill-opacity="0.076"/>
<rect x="87.40" y="143.60" width="4.10" height="4.10" fill="#fff" fill-opacity="0.090"/>
<rect x="87.40" y="147.70" width="4.10" height="4.10" fill="#fff" fill-opacity="0.104"/>
<rect x="87.40" y="151.80" width="4.10" height="4.10" fill="#fff" fill-opacity="0.117"/>
<rect x="87.40" y="151.80" width="4.10" height="4.10" fill="#41739f" fill-opacity="0.028"/>
<rect x="87.40" y="155.90" width="4.10" height="4.10" fill="#fff" fill-opacity="0.128"/>
<rect x="87.40" y="155.90" width="4.10" height="4.10" fill="#41739f" fill-opacity="0.038"/>
<rect x="87.40" y="160.00" width="4.10" height="4.10" fill="#fff" fill-opacity="0.137"/>
<rect x="87.40" y="160.00" width="4.10" height="4.10" fill="#41739f" fill-opacity="0.046"/>
<rect x="87.40" y="164.10" width="4.10" height="4.10" fill="#fff" fill-opacity="0.143"/>
<rect x="87.40" y="164.10" width="4.10" height="4.10" fill="#41739f" fill-opacity="0.053"/>
<rect x="87.40" y="168.20" width="4.10" height="4.10" fill="#fff" fill-opacity="0.144"/>
<rect x="87.40" y="168.20" width="4.10" height="4.10" fill="#41739f" fill-opacity="0.055"/>
<rect x="87.40" y="172.30" width="4.10" height="4.10" fill="#fff" fill-opacity="0.142"/>
<rect x="87.40" y="172.30" width="4.10" height="4.10" fill="#41739f" fill-opacity="0.052"/>
<rect x="87.40" y="176.40" width="4.10" height="4.10" fill="#fff" fill-opacity="0.136"/>
<rect x="87.40" y="176.40" width="4.10" height="4.10" fill="#41739f" fill-opacity="0.046"/>
<rect x="87.40" y="180.50" width="4.10" height="4.10" fill="#fff" fill-opacity="0.128"/>
<rect x="87.40" y="180.50" width="4.10" height="4.10" fill="#41739f" fill-opacity="0.037"/>
<rect x="87.40" y="184.60" width="4.10" height="4.10" fill="#fff" fill-opacity="0.116"/>
<rect x="87.40" y="184.60" width="4.10" height="4.10" fill="#41739f" fill-opacity="0.027"/>
<rect x="87.40" y="188.70" width="4.10" height="4.10" fill="#fff" fill-opacity="0.103"/>
<rect x="87.40" y="192.80" width="4.10" height="4.10" fill="#fff" fill-opacity="0.089"/>
<rect x="87.40" y="196.90" width="4.10" height="4.10" fill="#fff" fill-opacity="0.075"/>
<rect x="87.40" y="201.00" width="4.10" height="4.10" fill="#fff" fill-opacity="0.061"/>
<rect x="87.40" y="205.10" width="4.10" height="4.10" fill="#fff" fill-opacity="0.049"/>
<rect x="87.40" y="209.20" width="4.10" height="4.10" fill="#fff" fill-opacity="0.038"/>
<rect x="91.50" y="127.20" width="4.10" height="4.10" fill="#fff" fill-opacity="0.030"/>
<rect x="91.50" y="131.30" width="4.10" height="4.10" fill="#fff" fill-opacity="0.039"/>
<rect x="91.50" y="135.40" width="4.10" height="4.10" fill="#fff" fill-opacity="0.048"/>
<rect x="91.50" y="139.50" width="4.10" height="4.10" fill="#fff" fill-opacity="0.058"/>
<rect x="91.50" y="143.60" width="4.10" height="4.10" fill="#fff" fill-opacity="0.068"/>
<rect x="91.50" y="147.70" width="4.10" height="4.10" fill="#fff" fill-opacity="0.078"/>
<rect x="91.50" y="151.80" width="4.10" height="4.10" fill="#fff" fill-opacity="0.086"/>
<rect x="91.50" y="155.90" width="4.10" height="4.10" fill="#fff" fill-opacity="0.094"/>
<rect x="91.50" y="160.00" width="4.10" height="4.10" fill="#fff" fill-opacity="0.099"/>
<rect x="91.50" y="164.10" width="4.10" height="4.10" fill="#fff" fill-opacity="0.102"/>
<rect x="91.50" y="168.20" width="4.10" height="4.10" fill="#fff" fill-opacity="0.102"/>
<rect x="91.50" y="172.30" width="4.10" height="4.10" fill="#fff" fill-opacity="0.100"/>
<rect x="91.50" y="176.40" width="4.10" height="4.10" fill="#fff" fill-opacity="0.095"/>
<rect x="91.50" y="180.50" width="4.10" height="4.10" fill="#fff" fill-opacity="0.088"/>
<rect x="91.50" y="184.60" width="4.10" height="4.10" fill="#fff" fill-opacity="0.079"/>
<rect x="91.50" y="188.70" width="4.10" height="4.10" fill="#fff" fill-opacity="0.069"/>
<rect x="91.50" y="192.80" width="4.10" height="4.10" fill="#fff" fill-opacity="0.059"/>
<rect x="91.50" y="196.90" width="4.10" height="4.10" fill="#fff" fill-opacity="0.049"/>
<rect x="91.50" y="201.00" width="4.10" height="4.10" fill="#fff" fill-opacity="0.040"/>
<rect x="91.50" y="205.10" width="4.10" height="4.10" fill="#fff" fill-opacity="0.031"/>
<rect x="95.60" y="135.40" width="4.10" height="4.10" fill="#fff" fill-opacity="0.034"/>
<rect x="95.60" y="139.50" width="4.10" height="4.10" fill="#fff" fill-opacity="0.041"/>
<rect x="95.60" y="143.60" width="4.10" height="4.10" fill="#fff" fill-opacity="0.048"/>
<rect x="95.60" y="147.70" width="4.10" height="4.10" fill="#fff" fill-opacity="0.054"/>
<rect x="95.60" y="151.80" width="4.10" height="4.10" fill="#fff" fill-opacity="0.060"/>
<rect x="95.60" y="155.90" width="4.10" height="4.10" fill="#fff" fill-opacity="0.064"/>
<rect x="95.60" y="160.00" width="4.10" height="4.10" fill="#fff" fill-opacity="0.067"/>
<rect x="95.60" y="164.10" width="4.10" height="4.10" fill="#fff" fill-opacity="0.068"/>
<rect x="95.60" y="168.20" width="4.10" height="4.10" fill="#fff" fill-opacity="0.068"/>
<rect x="95.60" y="172.30" width="4.10" height="4.10" fill="#fff" fill-opacity="0.066"/>
<rect x="95.60" y="176.40" width="4.10" height="4.10" fill="#fff" fill-opacity="0.062"/>
<rect x="95.60" y="180.50" width="4.10" height="4.10" fill="#fff" fill-opacity="0.056"/>
<rect x="95.60" y="184.60" width="4.10" height="4.10" fill="#fff" fill-opacity="0.050"/>
<rect x="95.60" y="188.70" width="4.10" height="4.10" fill="#fff" fill-opacity="0.044"/>
<rect x="95.60" y="192.80" width="4.10" height="4.10" fill="#fff" fill-opacity="0.037"/>
<rect x="95.60" y="196.90" width="4.10" height="4.10" fill="#fff" fill-opacity="0.030"/>
<rect x="99.70" y="143.60" width="4.10" height="4.10" fill="#fff" fill-opacity="0.032"/>
<rect x="99.70" y="147.70" width="4.10" height="4.10" fill="#fff" fill-opacity="0.035"/>
<rect x="99.70" y="151.80" width="4.10" height="4.10" fill="#fff" fill-opacity="0.039"/>
<rect x="99.70" y="155.90" width="4.10" height="4.10" fill="#fff" fill-opacity="0.041"/>
<rect x="99.70" y="160.00" width="4.10" height="4.10" fill="#fff" fill-opacity="0.043"/>
<rect x="99.70" y="164.10" width="4.10" height="4.10" fill="#fff" fill-opacity="0.043"/>
<rect x="99.70" y="168.20" width="4.10" height="4.10" fill="#fff" fill-opacity="0.042"/>
<rect x="99.70" y="172.30" width="4.10" height="4.10" fill="#fff" fill-opacity="0.040"/>
<rect x="99.70" y="176.40" width="4.10" height="4.10" fill="#fff" fill-opacity="0.038"/>
<rect x="99.70" y="180.50" width="4.10" height="4.10" fill="#fff" fill-opacity="0.034"/>
<rect x="99.70" y="184.60" width="4.10" height="4.10" fill="#fff" fill-opacity="0.030"/>
<rect x="114.40" y="253.60" width="4.00" height="4.00" fill="#d7191c" fill-opacity="0.019"/>
<rect x="114.40" y="257.60" width="4.00" height="4.00" fill="#d7191c" fill-opacity="0.025"/>
<rect x="114.40" y="261.60" width="4.00" height="4.00" fill="#d7191c" fill-opacity="0.021"/>
<rect x="118.40" y="253.60" width="4.00" height="4.00" fill="#d7191c" fill-opacity="0.029"/>
<rect x="118.40" y="257.60" width="4.00" height="4.00" fill="#d7191c" fill-opacity="0.038"/>
<rect x="118.40" y="261.60" width="4.00" height="4.00" fill="#d7191c" fill-opacity="0.032"/>
<rect x="118.40" y="265.60" width="4.00" height="4.00" fill="#d7191c" fill-opacity="0.017"/>
<rect x="122.40" y="249.60" width="4.00" height="4.00" fill="#d7191c" fill-opacity="0.018"/>
<rect x="122.40" y="253.60" width="4.00" height="4.00" fill="#d7191c" fill-opacity="0.037"/>
<rect x="122.40" y="257.60" width="4.00" height="4.00" fill="#d7191c" fill-opacity="0.048"/>
<rect x="122.40" y="261.60" width="4.00" height="4.00" fill="#d7191c" fill-opacity="0.040"/>
<rect x="122.40" y="265.60" width="4.00" height="4.00" fill="#d7191c" fill-opacity="0.022"/>
<rect x="126.40" y="249.60" width="4.00" height="4.00" fill="#d7191c" fill-opacity="0.019"/>
<rect x="126.40" y="253.60" width="4.00" height="4.00" fill="#d7191c" fill-opacity="0.038"/>
<rect x="126.40" y="257.60" width="4.00" height="4.00" fill="#d7191c" fill-opacity="0.049"/>
<rect x="126.40" y="261.60" width="4.00" height="4.00" fill="#d7191c" fill-opacity="0.041"/>
<rect x="126.40" y="265.60" width="4.00" height="4.00" fill="#d7191c" fill-opacity="0.022"/>
<rect x="130.40" y="249.60" width="4.00" height="4.00" fill="#d7191c" fill-opacity="0.016"/>
<rect x="130.40" y="253.60" width="4.00" height="4.00" fill="#d7191c" fill-opacity="0.032"/>
<rect x="130.40" y="257.60" width="4.00" height="4.00" fill="#d7191c" fill-opacity="0.042"/>
<rect x="130.40" y="261.60" width="4.00" height="4.00" fill="#d7191c" fill-opacity="0.035"/>
<rect x="130.40" y="265.60" width="4.00" height="4.00" fill="#d7191c" fill-opacity="0.019"/>
<rect x="134.40" y="253.60" width="4.00" height="4.00" fill="#d7191c" fill-opacity="0.022"/>
<rect x="134.40" y="257.60" width="4.00" height="4.00" fill="#d7191c" fill-opacity="0.029"/>
<rect x="134.40" y="261.60" width="4.00" height="4.00" fill="#d7191c" fill-opacity="0.024"/>
<rect x="138.40" y="257.60" width="4.00" height="4.00" fill="#d7191c" fill-opacity="0.016"/>
<rect x="138.40" y="273.60" width="4.00" height="4.00" fill="#d7191c" fill-opacity="0.018"/>
<rect x="138.40" y="277.60" width="4.00" height="4.00" fill="#d7191c" fill-opacity="0.047"/>
<rect x="138.40" y="281.60" width="4.00" height="4.00" fill="#d7191c" fill-opacity="0.051"/>
<rect x="138.40" y="285.60" width="4.00" height="4.00" fill="#d7191c" fill-opacity="0.023"/>
<rect x="142.40" y="273.60" width="4.00" height="4.00" fill="#d7191c" fill-opacity="0.050"/>
<rect x="142.40" y="277.60" width="4.00" height="4.00" fill="#d7191c" fill-opacity="0.136"/>
<rect x="142.40" y="281.60" width="4.00" height="4.00" fill="#d7191c" fill-opacity="0.149"/>
<rect x="142.40" y="285.60" width="4.00" height="4.00" fill="#d7191c" fill-opacity="0.066"/>
<rect x="146.40" y="269.60" width="4.00" height="4.00" fill="#d7191c" fill-opacity="0.017"/>
<rect x="146.40" y="273.60" width="4.00" height="4.00" fill="#d7191c" fill-opacity="0.114"/>
<rect x="146.40" y="277.60" width="4.00" height="4.00" fill="#d7191c" fill-opacity="0.308"/>
<rect x="146.40" y="281.60" width="4.00" height="4.00" fill="#d7191c" fill-opacity="0.337"/>
<rect x="146.40" y="285.60" width="4.00" height="4.00" fill="#d7191c" fill-opacity="0.149"/>
<rect x="146.40" y="289.60" width="4.00" height="4.00" fill="#d7191c" fill-opacity="0.027"/>
<rect x="150.40" y="269.60" width="4.00" height="4.00" fill="#d7191c" fill-opacity="0.030"/>
<rect x="150.40" y="273.60" width="4.00" height="4.00" fill="#d7191c" fill-opacity="0.201"/>
<rect x="150.40" y="277.60" width="4.00" height="4.00" fill="#d7191c" fill-opacity="0.544"/>
<rect x="150.40" y="281.60" width="4.00" height="4.00" fill="#d7191c" fill-opacity="0.596"/>
<rect x="150.40" y="285.60" width="4.00" height="4.00" fill="#d7191c" fill-opacity="0.263"/>
<rect x="150.40" y="289.60" width="4.00" height="4.00" fill="#d7191c" fill-opacity="0.047"/>
<rect x="154.40" y="269.60" width="4.00" height="4.00" fill="#d7191c" fill-opacity="0.041"/>
<rect x="154.40" y="273.60" width="4.00" height="4.00" fill="#d7191c" fill-opacity="0.276"/>
<rect x="154.40" y="277.60" width="4.00" height="4.00" fill="#d7191c" fill-opacity="0.749"/>
<rect x="154.40" y="281.60" width="4.00" height="4.00" fill="#d7191c" fill-opacity="0.820"/>
<rect x="154.40" y="285.60" width="4.00" height="4.00" fill="#d7191c" fill-opacity="0.362"/>
<rect x="154.40" y="289.60" width="4.00" height="4.00" fill="#d7191c" fill-opacity="0.065"/>
<rect x="158.40" y="269.60" width="4.00" height="4.00" fill="#d7191c" fill-opacity="0.044"/>
<rect x="158.40" y="273.60" width="4.00" height="4.00" fill="#d7191c" fill-opacity="0.296"/>
<rect x="158.40" y="277.60" width="4.00" height="4.00" fill="#d7191c" fill-opacity="0.802"/>
<rect x="158.40" y="281.60" width="4.00" height="4.00" fill="#d7191c" fill-opacity="0.878"/>
<rect x="158.40" y="285.60" width="4.00" height="4.00" fill="#d7191c" fill-opacity="0.388"/>
<rect x="158.40" y="289.60" width="4.00" height="4.00" fill="#d7191c" fill-opacity="0.069"/>
<rect x="162.40" y="269.60" width="4.00" height="4.00" fill="#d7191c" fill-opacity="0.037"/>
<rect x="162.40" y="273.60" width="4.00" height="4.00" fill="#d7191c" fill-opacity="0.247"/>
<rect x="162.40" y="277.60" width="4.00" height="4.00" fill="#d7191c" fill-opacity="0.669"/>
<rect x="162.40" y="281.60" width="4.00" height="4.00" fill="#d7191c" fill-opacity="0.732"/>
<rect x="162.40" y="285.60" width="4.00" height="4.00" fill="#d7191c" fill-opacity="0.324"/>
<rect x="162.40" y="289.60" width="4.00" height="4.00" fill="#d7191c" fill-opacity="0.058"/>
<rect x="166.40" y="269.60" width="4.00" height="4.00" fill="#d7191c" fill-opacity="0.024"/>
<rect x="166.40" y="273.60" width="4.00" height="4.00" fill="#d7191c" fill-opacity="0.160"/>
<rect x="166.40" y="277.60" width="4.00" height="4.00" fill="#d7191c" fill-opacity="0.435"/>
<rect x="166.40" y="281.60" width="4.00" height="4.00" fill="#d7191c" fill-opacity="0.476"/>
<rect x="166.40" y="285.60" width="4.00" height="4.00" fill="#d7191c" fill-opacity="0.210"/>
<rect x="166.40" y="289.60" width="4.00" height="4.00" fill="#d7191c" fill-opacity="0.038"/>
<rect x="170.40" y="273.60" width="4.00" height="4.00" fill="#d7191c" fill-opacity="0.081"/>
<rect x="170.40" y="277.60" width="4.00" height="4.00" fill="#d7191c" fill-opacity="0.220"/>
<rect x="170.40" y="281.60" width="4.00" height="4.00" fill="#d7191c" fill-opacity="0.241"/>
<rect x="170.40" y="285.60" width="4.00" height="4.00" fill="#d7191c" fill-opacity="0.106"/>
<rect x="170.40" y="289.60" width="4.00" height="4.00" fill="#d7191c" fill-opacity="0.019"/>
<rect x="174.40" y="273.60" width="4.00" height="4.00" fill="#d7191c" fill-opacity="0.032"/>
<rect x="174.40" y="277.60" width="4.00" height="4.00" fill="#d7191c" fill-opacity="0.087"/>
<rect x="174.40" y="281.60" width="4.00" height="4.00" fill="#d7191c" fill-opacity="0.095"/>
<rect x="174.40" y="285.60" width="4.00" height="4.00" fill="#d7191c" fill-opacity="0.042"/>
<rect x="178.40" y="277.60" width="4.00" height="4.00" fill="#d7191c" fill-opacity="0.027"/>
<rect x="178.40" y="281.60" width="4.00" height="4.00" fill="#d7191c" fill-opacity="0.029"/>
<polygon points="46.10,61.20 112.60,61.20 46.10,196.60" fill="#000"/>
<path d="M61.00 167.00 C61.38 164.83 64.08 163.78 66.00 162.50 C67.92 161.22 69.75 159.97 72.50 159.30 C75.25 158.63 79.42 158.22 82.50 158.50 C85.58 158.78 88.75 159.67 91.00 161.00 C93.25 162.33 94.50 164.83 96.00 166.50 C97.50 168.17 98.71 169.08 100.00 171.00 C101.29 172.92 102.50 174.75 103.75 178.00 C105.00 181.25 106.46 186.33 107.50 190.50 C108.54 194.67 109.67 198.83 110.00 203.00 C110.33 207.17 109.92 211.33 109.50 215.50 C109.08 219.67 108.25 224.67 107.50 228.00 C106.75 231.33 106.25 233.50 105.00 235.50 C103.75 237.50 101.88 239.46 100.00 240.00 C98.12 240.54 96.08 239.92 93.75 238.75 C91.42 237.58 88.29 235.46 86.00 233.00 C83.71 230.54 82.04 227.33 80.00 224.00 C77.96 220.67 75.62 216.92 73.75 213.00 C71.88 209.08 70.12 204.67 68.75 200.50 C67.38 196.33 66.33 192.17 65.50 188.00 C64.67 183.83 64.50 179.00 63.75 175.50 C63.00 172.00 60.62 169.17 61.00 167.00Z" fill="none" stroke="#d6121a" stroke-width="2.40" stroke-linejoin="round" stroke-linecap="butt"/>
<path d="M112.50 251.00 C114.38 249.08 117.50 247.04 120.00 245.50 C122.50 243.96 124.83 242.67 127.50 241.75 C130.17 240.83 133.29 240.00 136.00 240.00 C138.71 240.00 141.83 240.42 143.75 241.75 C145.67 243.08 147.08 245.25 147.50 248.00 C147.92 250.75 146.04 255.71 146.25 258.25 C146.46 260.79 146.46 261.79 148.75 263.25 C151.04 264.71 156.04 265.75 160.00 267.00 C163.96 268.25 169.25 269.29 172.50 270.75 C175.75 272.21 177.53 273.88 179.50 275.75 C181.47 277.62 184.05 279.71 184.30 282.00 C184.55 284.29 182.05 287.92 181.00 289.50 C179.95 291.08 180.25 290.46 178.00 291.50 C175.75 292.54 171.75 294.92 167.50 295.75 C163.25 296.58 157.08 296.92 152.50 296.50 C147.92 296.08 143.33 294.62 140.00 293.25 C136.67 291.88 134.58 290.54 132.50 288.25 C130.42 285.96 129.79 281.58 127.50 279.50 C125.21 277.42 121.50 277.21 118.75 275.75 C116.00 274.29 112.79 272.62 111.00 270.75 C109.21 268.88 108.38 266.79 108.00 264.50 C107.62 262.21 108.00 259.25 108.75 257.00 C109.50 254.75 110.62 252.92 112.50 251.00Z" fill="none" stroke="#d6121a" stroke-width="2.40" stroke-linejoin="round" stroke-linecap="butt"/>
<polygon points="159.80,276.70 161.12,280.28 165.13,280.36 161.93,282.66 163.09,286.29 159.80,284.12 156.51,286.29 157.67,282.66 154.47,280.36 158.48,280.28" fill="#d6121a" stroke="#1a1a1a" stroke-width="0.80" stroke-linejoin="miter"/>
<path d="M52.50 183.00 C53.54 185.29 56.25 192.17 58.75 196.75 C61.25 201.33 64.38 206.33 67.50 210.50 C70.62 214.67 74.17 218.83 77.50 221.75 C80.83 224.67 84.42 226.83 87.50 228.00 C90.58 229.17 93.50 229.17 96.00 228.75 C98.50 228.33 100.83 227.12 102.50 225.50 C104.17 223.88 105.25 221.92 106.00 219.00 C106.75 216.08 107.17 212.33 107.00 208.00 C106.83 203.67 105.75 197.58 105.00 193.00 C104.25 188.42 103.33 184.67 102.50 180.50 C101.67 176.33 101.04 171.58 100.00 168.00 C98.96 164.42 97.58 162.00 96.25 159.00 C94.92 156.00 93.25 152.33 92.00 150.00 C90.75 147.67 89.92 146.83 88.75 145.00 C87.58 143.17 86.46 140.54 85.00 139.00 C83.54 137.46 81.58 136.08 80.00 135.75 C78.42 135.42 76.25 136.79 75.50 137.00" fill="none" stroke="#fcaa5c" stroke-width="2.40" stroke-linejoin="round" stroke-linecap="butt"/>
<polygon points="87.40,139.50 88.72,143.08 92.73,143.16 89.53,145.46 90.69,149.09 87.40,146.92 84.11,149.09 85.27,145.46 82.07,143.16 86.08,143.08" fill="#fcaa5c" stroke="#1a1a1a" stroke-width="0.80" stroke-linejoin="miter"/>
<path d="M53.50 180.50 C54.38 182.17 56.42 186.75 58.75 190.50 C61.08 194.25 64.38 198.83 67.50 203.00 C70.62 207.17 73.75 212.00 77.50 215.50 C81.25 219.00 85.42 222.08 90.00 224.00 C94.58 225.92 100.00 226.33 105.00 227.00 C110.00 227.67 115.42 228.04 120.00 228.00 C124.58 227.96 129.78 227.92 132.50 226.75 C135.22 225.58 137.13 223.29 136.30 221.00 C135.47 218.71 130.22 216.42 127.50 213.00 C124.78 209.58 121.92 205.08 120.00 200.50 C118.08 195.92 117.04 190.96 116.00 185.50 C114.96 180.04 114.12 174.25 113.75 167.75 C113.38 161.25 114.21 152.54 113.75 146.50 C113.29 140.46 112.04 136.08 111.00 131.50 C109.96 126.92 108.92 122.75 107.50 119.00 C106.08 115.25 104.17 111.50 102.50 109.00 C100.83 106.50 98.92 104.95 97.50 104.00 C96.08 103.05 95.08 102.97 94.00 103.30 C92.92 103.63 91.50 105.55 91.00 106.00" fill="none" stroke="#a6d8ec" stroke-width="2.40" stroke-linejoin="round" stroke-linecap="butt"/>
<polygon points="98.50,143.10 99.82,146.68 103.83,146.76 100.63,149.06 101.79,152.69 98.50,150.52 95.21,152.69 96.37,149.06 93.17,146.76 97.18,146.68" fill="#a6d8ec" stroke="#1a1a1a" stroke-width="0.80" stroke-linejoin="miter"/>
<path d="M45.50 190.00 C46.88 191.50 50.92 195.83 53.75 199.00 C56.58 202.17 59.38 205.67 62.50 209.00 C65.62 212.33 69.17 216.04 72.50 219.00 C75.83 221.96 79.58 224.96 82.50 226.75 C85.42 228.54 88.12 229.54 90.00 229.75 C91.88 229.96 92.75 229.33 93.75 228.00 C94.75 226.67 95.79 224.67 96.00 221.75 C96.21 218.83 95.25 214.88 95.00 210.50 C94.75 206.12 94.33 200.50 94.50 195.50 C94.67 190.50 95.58 185.08 96.00 180.50 C96.42 175.92 97.17 172.00 97.00 168.00 C96.83 164.00 95.62 159.50 95.00 156.50 C94.38 153.50 93.90 151.92 93.30 150.00 C92.70 148.08 91.95 146.58 91.40 145.00 C90.85 143.42 90.90 142.83 90.00 140.50 C89.10 138.17 87.25 133.00 86.00 131.00 C84.75 129.00 83.58 128.58 82.50 128.50 C81.42 128.42 80.00 130.17 79.50 130.50" fill="none" stroke="#2575b7" stroke-width="2.40" stroke-linejoin="round" stroke-linecap="butt"/>
<polygon points="87.40,145.50 88.72,149.08 92.73,149.16 89.53,151.46 90.69,155.09 87.40,152.92 84.11,155.09 85.27,151.46 82.07,149.16 86.08,149.08" fill="#2575b7" stroke="#1a1a1a" stroke-width="0.80" stroke-linejoin="miter"/>
</g>
<rect x="46.10" y="2.20" width="245.30" height="59.00" fill="none" stroke="#8c8c8c" stroke-width="1.00"/>
<rect x="291.40" y="61.20" width="60.60" height="239.30" fill="none" stroke="#8c8c8c" stroke-width="1.00"/>
<rect x="46.10" y="61.20" width="245.30" height="239.30" fill="none" stroke="#8c8c8c" stroke-width="1.00"/>
<g clip-path="url(#clt)">
<path d="M46.10 61.20 L46.10 61.20 L47.73 61.20 L47.73 61.20 L49.36 61.20 L49.36 61.20 L50.99 61.20 L50.99 61.20 L52.62 61.20 L52.62 61.20 L54.25 61.20 L54.25 61.20 L55.88 61.20 L55.88 61.20 L57.51 61.20 L57.51 61.20 L59.14 61.20 L59.14 60.77 L60.77 60.77 L60.77 60.16 L62.40 60.16 L62.40 59.64 L64.03 59.64 L64.03 58.96 L65.66 58.96 L65.66 58.10 L67.29 58.10 L67.29 57.28 L68.92 57.28 L68.92 56.21 L70.55 56.21 L70.55 54.98 L72.18 54.98 L72.18 53.38 L73.81 53.38 L73.81 52.15 L75.44 52.15 L75.44 49.99 L77.07 49.99 L77.07 48.27 L78.70 48.27 L78.70 46.09 L80.33 46.09 L80.33 44.16 L81.96 44.16 L81.96 42.24 L83.59 42.24 L83.59 38.49 L85.22 38.49 L85.22 37.45 L86.85 37.45 L86.85 34.75 L88.48 34.75 L88.48 35.01 L90.11 35.01 L90.11 36.62 L91.74 36.62 L91.74 38.50 L93.37 38.50 L93.37 41.04 L95.00 41.04 L95.00 44.25 L96.63 44.25 L96.63 47.70 L98.26 47.70 L98.26 49.16 L99.89 49.16 L99.89 52.05 L101.52 52.05 L101.52 53.41 L103.15 53.41 L103.15 55.61 L104.78 55.61 L104.78 56.40 L106.41 56.40 L106.41 57.27 L108.04 57.27 L108.04 57.65 L109.67 57.65 L109.67 58.00 L111.30 58.00 L111.30 57.94 L112.93 57.94 L112.93 57.84 L114.56 57.84 L114.56 57.34 L116.19 57.34 L116.19 56.73 L117.82 56.73 L117.82 56.18 L119.45 56.18 L119.45 56.15 L121.08 56.15 L121.08 56.14 L122.71 56.14 L122.71 55.79 L124.34 55.79 L124.34 55.93 L125.97 55.93 L125.97 55.47 L127.60 55.47 L127.60 55.61 L129.23 55.61 L129.23 55.20 L130.86 55.20 L130.86 55.11 L132.49 55.11 L132.49 54.83 L134.12 54.83 L134.12 54.93 L135.75 54.93 L135.75 54.53 L137.38 54.53 L137.38 54.44 L139.01 54.44 L139.01 53.50 L140.64 53.50 L140.64 52.79 L142.27 52.79 L142.27 52.77 L143.90 52.77 L143.90 51.56 L145.53 51.56 L145.53 50.36 L147.16 50.36 L147.16 49.35 L148.79 49.35 L148.79 47.69 L150.42 47.69 L150.42 47.11 L152.05 47.11 L152.05 44.56 L153.68 44.56 L153.68 42.93 L155.31 42.93 L155.31 41.40 L156.94 41.40 L156.94 39.34 L158.57 39.34 L158.57 39.97 L160.20 39.97 L160.20 39.50 L161.83 39.50 L161.83 40.66 L163.46 40.66 L163.46 40.88 L165.09 40.88 L165.09 43.48 L166.72 43.48 L166.72 45.08 L168.35 45.08 L168.35 48.64 L169.98 48.64 L169.98 51.06 L171.61 51.06 L171.61 53.38 L173.24 53.38 L173.24 55.06 L174.87 55.06 L174.87 56.62 L176.50 56.62 L176.50 57.91 L178.13 57.91 L178.13 58.59 L179.76 58.59 L179.76 58.97 L181.39 58.97 L181.39 59.45 L183.02 59.45 L183.02 59.92 L184.65 59.92 L184.65 60.25 L186.28 60.25 L186.28 60.48 L187.91 60.48 L187.91 60.74 L189.54 60.74 L189.54 60.97 L191.17 60.97 L191.17 61.20 L192.80 61.20 L192.80 61.20 L194.43 61.20 L194.43 61.20 L196.06 61.20 L196.06 61.20 L197.69 61.20 L197.69 61.20 L199.32 61.20 L199.32 61.20 L200.95 61.20 L200.95 61.20 L202.58 61.20 L202.58 61.20 L204.21 61.20 L204.21 61.20 L205.84 61.20 L205.84 61.20 L207.47 61.20 L207.47 61.20 L209.10 61.20 L209.10 61.20 L210.73 61.20 L210.73 61.20 L212.36 61.20 L212.36 61.20 L213.99 61.20 L213.99 61.20 L215.62 61.20 L215.62 61.20 L217.25 61.20 L217.25 61.20 L218.88 61.20 L218.88 61.20 L220.51 61.20 L220.51 61.20 L222.14 61.20 L222.14 61.20 L223.77 61.20 L223.77 61.20 L225.40 61.20 L225.40 61.20 L227.03 61.20 L227.03 61.20 L228.66 61.20 L228.66 61.20 L230.29 61.20 L230.29 61.20 L231.92 61.20 L231.92 61.20 L233.55 61.20 L233.55 61.20 L235.18 61.20 L235.18 61.20 L236.81 61.20 L236.81 61.20 L238.44 61.20 L238.44 61.20 L240.07 61.20 L240.07 61.20 L241.70 61.20 L241.70 61.20 L243.33 61.20 L243.33 61.20 L244.96 61.20 L244.96 61.20 L246.59 61.20 L246.59 61.20 L248.22 61.20 L248.22 61.20 L249.85 61.20 L249.85 61.20 L251.48 61.20 L251.48 61.20 L253.11 61.20 L253.11 61.20 L254.74 61.20 L254.74 61.20 L256.37 61.20 L256.37 61.20 L258.00 61.20 L258.00 61.20 L259.63 61.20 L259.63 61.20 L261.26 61.20 L261.26 61.20 L262.89 61.20 L262.89 61.20 L264.52 61.20 L264.52 61.20 L266.15 61.20 L266.15 61.20 L267.78 61.20 L267.78 61.20 L269.41 61.20 L269.41 61.20 L271.04 61.20 L271.04 61.20 L272.67 61.20 L272.67 61.20 L274.30 61.20 L274.30 61.20 L275.93 61.20 L275.93 61.20 L277.56 61.20 L277.56 61.20 L279.19 61.20 L279.19 61.20 L280.82 61.20 L280.82 61.20 L282.45 61.20 L282.45 61.20 L284.08 61.20 L284.08 61.20 L285.71 61.20 L285.71 61.20 L287.34 61.20 L287.34 61.20 L288.97 61.20 L288.97 61.20 L290.60 61.20 L290.60 61.20Z" fill="#d6121a" fill-opacity="0.18" stroke="none"/>
<path d="M46.10 61.20 L46.10 61.20 L47.73 61.20 L47.73 61.20 L49.36 61.20 L49.36 61.20 L50.99 61.20 L50.99 61.20 L52.62 61.20 L52.62 61.20 L54.25 61.20 L54.25 60.28 L55.88 60.28 L55.88 59.12 L57.51 59.12 L57.51 57.64 L59.14 57.64 L59.14 53.00 L60.77 53.00 L60.77 49.74 L62.40 49.74 L62.40 44.09 L64.03 44.09 L64.03 37.87 L65.66 37.87 L65.66 34.79 L67.29 34.79 L67.29 30.43 L68.92 30.43 L68.92 26.95 L70.55 26.95 L70.55 22.54 L72.18 22.54 L72.18 18.13 L73.81 18.13 L73.81 19.87 L75.44 19.87 L75.44 21.21 L77.07 21.21 L77.07 19.32 L78.70 19.32 L78.70 20.89 L80.33 20.89 L80.33 21.75 L81.96 21.75 L81.96 22.59 L83.59 22.59 L83.59 27.29 L85.22 27.29 L85.22 29.76 L86.85 29.76 L86.85 33.77 L88.48 33.77 L88.48 36.41 L90.11 36.41 L90.11 39.38 L91.74 39.38 L91.74 43.10 L93.37 43.10 L93.37 45.64 L95.00 45.64 L95.00 48.51 L96.63 48.51 L96.63 50.72 L98.26 50.72 L98.26 52.62 L99.89 52.62 L99.89 54.40 L101.52 54.40 L101.52 55.51 L103.15 55.51 L103.15 56.69 L104.78 56.69 L104.78 57.60 L106.41 57.60 L106.41 59.16 L108.04 59.16 L108.04 59.47 L109.67 59.47 L109.67 59.78 L111.30 59.78 L111.30 60.08 L112.93 60.08 L112.93 60.44 L114.56 60.44 L114.56 60.74 L116.19 60.74 L116.19 60.84 L117.82 60.84 L117.82 60.96 L119.45 60.96 L119.45 61.08 L121.08 61.08 L121.08 61.19 L122.71 61.19 L122.71 61.20 L124.34 61.20 L124.34 61.20 L125.97 61.20 L125.97 61.20 L127.60 61.20 L127.60 61.20 L129.23 61.20 L129.23 61.20 L130.86 61.20 L130.86 61.20 L132.49 61.20 L132.49 61.20 L134.12 61.20 L134.12 61.20 L135.75 61.20 L135.75 61.20 L137.38 61.20 L137.38 61.20 L139.01 61.20 L139.01 61.20 L140.64 61.20 L140.64 61.20 L142.27 61.20 L142.27 61.20 L143.90 61.20 L143.90 61.20 L145.53 61.20 L145.53 61.20 L147.16 61.20 L147.16 61.20 L148.79 61.20 L148.79 61.20 L150.42 61.20 L150.42 61.20 L152.05 61.20 L152.05 61.20 L153.68 61.20 L153.68 61.20 L155.31 61.20 L155.31 61.20 L156.94 61.20 L156.94 61.20 L158.57 61.20 L158.57 61.20 L160.20 61.20 L160.20 61.20 L161.83 61.20 L161.83 61.20 L163.46 61.20 L163.46 61.20 L165.09 61.20 L165.09 61.20 L166.72 61.20 L166.72 61.20 L168.35 61.20 L168.35 61.20 L169.98 61.20 L169.98 61.20 L171.61 61.20 L171.61 61.20 L173.24 61.20 L173.24 61.20 L174.87 61.20 L174.87 61.20 L176.50 61.20 L176.50 61.20 L178.13 61.20 L178.13 61.20 L179.76 61.20 L179.76 61.20 L181.39 61.20 L181.39 61.20 L183.02 61.20 L183.02 61.20 L184.65 61.20 L184.65 61.20 L186.28 61.20 L186.28 61.20 L187.91 61.20 L187.91 61.20 L189.54 61.20 L189.54 61.20 L191.17 61.20 L191.17 61.20 L192.80 61.20 L192.80 61.20 L194.43 61.20 L194.43 61.20 L196.06 61.20 L196.06 61.20 L197.69 61.20 L197.69 61.20 L199.32 61.20 L199.32 61.20 L200.95 61.20 L200.95 61.20 L202.58 61.20 L202.58 61.20 L204.21 61.20 L204.21 61.20 L205.84 61.20 L205.84 61.20 L207.47 61.20 L207.47 61.20 L209.10 61.20 L209.10 61.20 L210.73 61.20 L210.73 61.20 L212.36 61.20 L212.36 61.20 L213.99 61.20 L213.99 61.20 L215.62 61.20 L215.62 61.20 L217.25 61.20 L217.25 61.20 L218.88 61.20 L218.88 61.20 L220.51 61.20 L220.51 61.20 L222.14 61.20 L222.14 61.20 L223.77 61.20 L223.77 61.20 L225.40 61.20 L225.40 61.20 L227.03 61.20 L227.03 61.20 L228.66 61.20 L228.66 61.20 L230.29 61.20 L230.29 61.20 L231.92 61.20 L231.92 61.20 L233.55 61.20 L233.55 61.20 L235.18 61.20 L235.18 61.20 L236.81 61.20 L236.81 61.20 L238.44 61.20 L238.44 61.20 L240.07 61.20 L240.07 61.20 L241.70 61.20 L241.70 61.20 L243.33 61.20 L243.33 61.20 L244.96 61.20 L244.96 61.20 L246.59 61.20 L246.59 61.20 L248.22 61.20 L248.22 61.20 L249.85 61.20 L249.85 61.20 L251.48 61.20 L251.48 61.20 L253.11 61.20 L253.11 61.20 L254.74 61.20 L254.74 61.20 L256.37 61.20 L256.37 61.20 L258.00 61.20 L258.00 61.20 L259.63 61.20 L259.63 61.20 L261.26 61.20 L261.26 61.20 L262.89 61.20 L262.89 61.20 L264.52 61.20 L264.52 61.20 L266.15 61.20 L266.15 61.20 L267.78 61.20 L267.78 61.20 L269.41 61.20 L269.41 61.20 L271.04 61.20 L271.04 61.20 L272.67 61.20 L272.67 61.20 L274.30 61.20 L274.30 61.20 L275.93 61.20 L275.93 61.20 L277.56 61.20 L277.56 61.20 L279.19 61.20 L279.19 61.20 L280.82 61.20 L280.82 61.20 L282.45 61.20 L282.45 61.20 L284.08 61.20 L284.08 61.20 L285.71 61.20 L285.71 61.20 L287.34 61.20 L287.34 61.20 L288.97 61.20 L288.97 61.20 L290.60 61.20 L290.60 61.20Z" fill="#fcaa5c" fill-opacity="0.18" stroke="none"/>
<path d="M46.10 61.20 L46.10 61.20 L47.73 61.20 L47.73 61.20 L49.36 61.20 L49.36 61.20 L50.99 61.20 L50.99 61.20 L52.62 61.20 L52.62 61.20 L54.25 61.20 L54.25 61.20 L55.88 61.20 L55.88 59.92 L57.51 59.92 L57.51 57.21 L59.14 57.21 L59.14 54.39 L60.77 54.39 L60.77 49.11 L62.40 49.11 L62.40 42.58 L64.03 42.58 L64.03 39.59 L65.66 39.59 L65.66 31.74 L67.29 31.74 L67.29 29.73 L68.92 29.73 L68.92 25.39 L70.55 25.39 L70.55 22.90 L72.18 22.90 L72.18 19.55 L73.81 19.55 L73.81 22.55 L75.44 22.55 L75.44 20.18 L77.07 20.18 L77.07 20.37 L78.70 20.37 L78.70 18.60 L80.33 18.60 L80.33 21.47 L81.96 21.47 L81.96 20.70 L83.59 20.70 L83.59 23.26 L85.22 23.26 L85.22 23.92 L86.85 23.92 L86.85 25.47 L88.48 25.47 L88.48 29.35 L90.11 29.35 L90.11 29.25 L91.74 29.25 L91.74 31.48 L93.37 31.48 L93.37 33.82 L95.00 33.82 L95.00 35.75 L96.63 35.75 L96.63 39.33 L98.26 39.33 L98.26 41.39 L99.89 41.39 L99.89 44.11 L101.52 44.11 L101.52 45.86 L103.15 45.86 L103.15 47.64 L104.78 47.64 L104.78 49.92 L106.41 49.92 L106.41 51.10 L108.04 51.10 L108.04 52.47 L109.67 52.47 L109.67 53.66 L111.30 53.66 L111.30 54.48 L112.93 54.48 L112.93 55.23 L114.56 55.23 L114.56 56.28 L116.19 56.28 L116.19 56.70 L117.82 56.70 L117.82 56.98 L119.45 56.98 L119.45 57.56 L121.08 57.56 L121.08 58.11 L122.71 58.11 L122.71 58.61 L124.34 58.61 L124.34 59.02 L125.97 59.02 L125.97 59.07 L127.60 59.07 L127.60 59.37 L129.23 59.37 L129.23 59.61 L130.86 59.61 L130.86 59.78 L132.49 59.78 L132.49 59.91 L134.12 59.91 L134.12 60.19 L135.75 60.19 L135.75 60.31 L137.38 60.31 L137.38 60.45 L139.01 60.45 L139.01 60.59 L140.64 60.59 L140.64 60.73 L142.27 60.73 L142.27 60.85 L143.90 60.85 L143.90 60.98 L145.53 60.98 L145.53 61.11 L147.16 61.11 L147.16 61.20 L148.79 61.20 L148.79 61.20 L150.42 61.20 L150.42 61.20 L152.05 61.20 L152.05 61.20 L153.68 61.20 L153.68 61.20 L155.31 61.20 L155.31 61.20 L156.94 61.20 L156.94 61.20 L158.57 61.20 L158.57 61.20 L160.20 61.20 L160.20 61.20 L161.83 61.20 L161.83 61.20 L163.46 61.20 L163.46 61.20 L165.09 61.20 L165.09 61.20 L166.72 61.20 L166.72 61.20 L168.35 61.20 L168.35 61.20 L169.98 61.20 L169.98 61.20 L171.61 61.20 L171.61 61.20 L173.24 61.20 L173.24 61.20 L174.87 61.20 L174.87 61.20 L176.50 61.20 L176.50 61.20 L178.13 61.20 L178.13 61.20 L179.76 61.20 L179.76 61.20 L181.39 61.20 L181.39 61.20 L183.02 61.20 L183.02 61.20 L184.65 61.20 L184.65 61.20 L186.28 61.20 L186.28 61.20 L187.91 61.20 L187.91 61.20 L189.54 61.20 L189.54 61.20 L191.17 61.20 L191.17 61.20 L192.80 61.20 L192.80 61.20 L194.43 61.20 L194.43 61.20 L196.06 61.20 L196.06 61.20 L197.69 61.20 L197.69 61.20 L199.32 61.20 L199.32 61.20 L200.95 61.20 L200.95 61.20 L202.58 61.20 L202.58 61.20 L204.21 61.20 L204.21 61.20 L205.84 61.20 L205.84 61.20 L207.47 61.20 L207.47 61.20 L209.10 61.20 L209.10 61.20 L210.73 61.20 L210.73 61.20 L212.36 61.20 L212.36 61.20 L213.99 61.20 L213.99 61.20 L215.62 61.20 L215.62 61.20 L217.25 61.20 L217.25 61.20 L218.88 61.20 L218.88 61.20 L220.51 61.20 L220.51 61.20 L222.14 61.20 L222.14 61.20 L223.77 61.20 L223.77 61.20 L225.40 61.20 L225.40 61.20 L227.03 61.20 L227.03 61.20 L228.66 61.20 L228.66 61.20 L230.29 61.20 L230.29 61.20 L231.92 61.20 L231.92 61.20 L233.55 61.20 L233.55 61.20 L235.18 61.20 L235.18 61.20 L236.81 61.20 L236.81 61.20 L238.44 61.20 L238.44 61.20 L240.07 61.20 L240.07 61.20 L241.70 61.20 L241.70 61.20 L243.33 61.20 L243.33 61.20 L244.96 61.20 L244.96 61.20 L246.59 61.20 L246.59 61.20 L248.22 61.20 L248.22 61.20 L249.85 61.20 L249.85 61.20 L251.48 61.20 L251.48 61.20 L253.11 61.20 L253.11 61.20 L254.74 61.20 L254.74 61.20 L256.37 61.20 L256.37 61.20 L258.00 61.20 L258.00 61.20 L259.63 61.20 L259.63 61.20 L261.26 61.20 L261.26 61.20 L262.89 61.20 L262.89 61.20 L264.52 61.20 L264.52 61.20 L266.15 61.20 L266.15 61.20 L267.78 61.20 L267.78 61.20 L269.41 61.20 L269.41 61.20 L271.04 61.20 L271.04 61.20 L272.67 61.20 L272.67 61.20 L274.30 61.20 L274.30 61.20 L275.93 61.20 L275.93 61.20 L277.56 61.20 L277.56 61.20 L279.19 61.20 L279.19 61.20 L280.82 61.20 L280.82 61.20 L282.45 61.20 L282.45 61.20 L284.08 61.20 L284.08 61.20 L285.71 61.20 L285.71 61.20 L287.34 61.20 L287.34 61.20 L288.97 61.20 L288.97 61.20 L290.60 61.20 L290.60 61.20Z" fill="#a6d8ec" fill-opacity="0.18" stroke="none"/>
<path d="M46.10 61.20 L46.10 61.20 L47.73 61.20 L47.73 61.20 L49.36 61.20 L49.36 60.97 L50.99 60.97 L50.99 58.66 L52.62 58.66 L52.62 56.56 L54.25 56.56 L54.25 53.55 L55.88 53.55 L55.88 50.92 L57.51 50.92 L57.51 46.82 L59.14 46.82 L59.14 41.89 L60.77 41.89 L60.77 36.47 L62.40 36.47 L62.40 30.73 L64.03 30.73 L64.03 24.10 L65.66 24.10 L65.66 19.23 L67.29 19.23 L67.29 16.12 L68.92 16.12 L68.92 10.45 L70.55 10.45 L70.55 9.90 L72.18 9.90 L72.18 11.52 L73.81 11.52 L73.81 17.23 L75.44 17.23 L75.44 21.70 L77.07 21.70 L77.07 25.66 L78.70 25.66 L78.70 30.27 L80.33 30.27 L80.33 31.62 L81.96 31.62 L81.96 37.08 L83.59 37.08 L83.59 40.81 L85.22 40.81 L85.22 43.70 L86.85 43.70 L86.85 46.32 L88.48 46.32 L88.48 49.85 L90.11 49.85 L90.11 52.38 L91.74 52.38 L91.74 54.39 L93.37 54.39 L93.37 55.44 L95.00 55.44 L95.00 56.87 L96.63 56.87 L96.63 58.23 L98.26 58.23 L98.26 58.72 L99.89 58.72 L99.89 59.18 L101.52 59.18 L101.52 59.66 L103.15 59.66 L103.15 60.27 L104.78 60.27 L104.78 60.51 L106.41 60.51 L106.41 60.77 L108.04 60.77 L108.04 61.02 L109.67 61.02 L109.67 61.20 L111.30 61.20 L111.30 61.20 L112.93 61.20 L112.93 61.20 L114.56 61.20 L114.56 61.20 L116.19 61.20 L116.19 61.20 L117.82 61.20 L117.82 61.20 L119.45 61.20 L119.45 61.20 L121.08 61.20 L121.08 61.20 L122.71 61.20 L122.71 61.20 L124.34 61.20 L124.34 61.20 L125.97 61.20 L125.97 61.20 L127.60 61.20 L127.60 61.20 L129.23 61.20 L129.23 61.20 L130.86 61.20 L130.86 61.20 L132.49 61.20 L132.49 61.20 L134.12 61.20 L134.12 61.20 L135.75 61.20 L135.75 61.20 L137.38 61.20 L137.38 61.20 L139.01 61.20 L139.01 61.20 L140.64 61.20 L140.64 61.20 L142.27 61.20 L142.27 61.20 L143.90 61.20 L143.90 61.20 L145.53 61.20 L145.53 61.20 L147.16 61.20 L147.16 61.20 L148.79 61.20 L148.79 61.20 L150.42 61.20 L150.42 61.20 L152.05 61.20 L152.05 61.20 L153.68 61.20 L153.68 61.20 L155.31 61.20 L155.31 61.20 L156.94 61.20 L156.94 61.20 L158.57 61.20 L158.57 61.20 L160.20 61.20 L160.20 61.20 L161.83 61.20 L161.83 61.20 L163.46 61.20 L163.46 61.20 L165.09 61.20 L165.09 61.20 L166.72 61.20 L166.72 61.20 L168.35 61.20 L168.35 61.20 L169.98 61.20 L169.98 61.20 L171.61 61.20 L171.61 61.20 L173.24 61.20 L173.24 61.20 L174.87 61.20 L174.87 61.20 L176.50 61.20 L176.50 61.20 L178.13 61.20 L178.13 61.20 L179.76 61.20 L179.76 61.20 L181.39 61.20 L181.39 61.20 L183.02 61.20 L183.02 61.20 L184.65 61.20 L184.65 61.20 L186.28 61.20 L186.28 61.20 L187.91 61.20 L187.91 61.20 L189.54 61.20 L189.54 61.20 L191.17 61.20 L191.17 61.20 L192.80 61.20 L192.80 61.20 L194.43 61.20 L194.43 61.20 L196.06 61.20 L196.06 61.20 L197.69 61.20 L197.69 61.20 L199.32 61.20 L199.32 61.20 L200.95 61.20 L200.95 61.20 L202.58 61.20 L202.58 61.20 L204.21 61.20 L204.21 61.20 L205.84 61.20 L205.84 61.20 L207.47 61.20 L207.47 61.20 L209.10 61.20 L209.10 61.20 L210.73 61.20 L210.73 61.20 L212.36 61.20 L212.36 61.20 L213.99 61.20 L213.99 61.20 L215.62 61.20 L215.62 61.20 L217.25 61.20 L217.25 61.20 L218.88 61.20 L218.88 61.20 L220.51 61.20 L220.51 61.20 L222.14 61.20 L222.14 61.20 L223.77 61.20 L223.77 61.20 L225.40 61.20 L225.40 61.20 L227.03 61.20 L227.03 61.20 L228.66 61.20 L228.66 61.20 L230.29 61.20 L230.29 61.20 L231.92 61.20 L231.92 61.20 L233.55 61.20 L233.55 61.20 L235.18 61.20 L235.18 61.20 L236.81 61.20 L236.81 61.20 L238.44 61.20 L238.44 61.20 L240.07 61.20 L240.07 61.20 L241.70 61.20 L241.70 61.20 L243.33 61.20 L243.33 61.20 L244.96 61.20 L244.96 61.20 L246.59 61.20 L246.59 61.20 L248.22 61.20 L248.22 61.20 L249.85 61.20 L249.85 61.20 L251.48 61.20 L251.48 61.20 L253.11 61.20 L253.11 61.20 L254.74 61.20 L254.74 61.20 L256.37 61.20 L256.37 61.20 L258.00 61.20 L258.00 61.20 L259.63 61.20 L259.63 61.20 L261.26 61.20 L261.26 61.20 L262.89 61.20 L262.89 61.20 L264.52 61.20 L264.52 61.20 L266.15 61.20 L266.15 61.20 L267.78 61.20 L267.78 61.20 L269.41 61.20 L269.41 61.20 L271.04 61.20 L271.04 61.20 L272.67 61.20 L272.67 61.20 L274.30 61.20 L274.30 61.20 L275.93 61.20 L275.93 61.20 L277.56 61.20 L277.56 61.20 L279.19 61.20 L279.19 61.20 L280.82 61.20 L280.82 61.20 L282.45 61.20 L282.45 61.20 L284.08 61.20 L284.08 61.20 L285.71 61.20 L285.71 61.20 L287.34 61.20 L287.34 61.20 L288.97 61.20 L288.97 61.20 L290.60 61.20 L290.60 61.20Z" fill="#2575b7" fill-opacity="0.18" stroke="none"/>
<line x1="58.40" y1="2.20" x2="58.40" y2="61.20" stroke="#2575b7" stroke-width="0.90" stroke-dasharray="3.2 1.4"/>
<line x1="62.50" y1="2.20" x2="62.50" y2="61.20" stroke="#fcaa5c" stroke-width="0.90" stroke-dasharray="3.2 1.4"/>
<line x1="68.00" y1="2.20" x2="68.00" y2="61.20" stroke="#a6d8ec" stroke-width="0.90" stroke-dasharray="3.2 1.4"/>
<line x1="75.00" y1="2.20" x2="75.00" y2="61.20" stroke="#d6121a" stroke-width="0.90" stroke-dasharray="3.2 1.4"/>
<line x1="94.30" y1="2.20" x2="94.30" y2="61.20" stroke="#2575b7" stroke-width="0.90" stroke-dasharray="3.2 1.4"/>
<line x1="101.30" y1="2.20" x2="101.30" y2="61.20" stroke="#fcaa5c" stroke-width="0.90" stroke-dasharray="3.2 1.4"/>
<line x1="129.80" y1="2.20" x2="129.80" y2="61.20" stroke="#a6d8ec" stroke-width="0.90" stroke-dasharray="3.2 1.4"/>
<line x1="168.00" y1="2.20" x2="168.00" y2="61.20" stroke="#d6121a" stroke-width="0.90" stroke-dasharray="3.2 1.4"/>
<path d="M46.10 61.20 L46.10 61.20 L47.73 61.20 L47.73 61.20 L49.36 61.20 L49.36 61.20 L50.99 61.20 L50.99 61.20 L52.62 61.20 L52.62 61.20 L54.25 61.20 L54.25 61.20 L55.88 61.20 L55.88 61.20 L57.51 61.20 L57.51 61.20 L59.14 61.20 L59.14 60.77 L60.77 60.77 L60.77 60.16 L62.40 60.16 L62.40 59.64 L64.03 59.64 L64.03 58.96 L65.66 58.96 L65.66 58.10 L67.29 58.10 L67.29 57.28 L68.92 57.28 L68.92 56.21 L70.55 56.21 L70.55 54.98 L72.18 54.98 L72.18 53.38 L73.81 53.38 L73.81 52.15 L75.44 52.15 L75.44 49.99 L77.07 49.99 L77.07 48.27 L78.70 48.27 L78.70 46.09 L80.33 46.09 L80.33 44.16 L81.96 44.16 L81.96 42.24 L83.59 42.24 L83.59 38.49 L85.22 38.49 L85.22 37.45 L86.85 37.45 L86.85 34.75 L88.48 34.75 L88.48 35.01 L90.11 35.01 L90.11 36.62 L91.74 36.62 L91.74 38.50 L93.37 38.50 L93.37 41.04 L95.00 41.04 L95.00 44.25 L96.63 44.25 L96.63 47.70 L98.26 47.70 L98.26 49.16 L99.89 49.16 L99.89 52.05 L101.52 52.05 L101.52 53.41 L103.15 53.41 L103.15 55.61 L104.78 55.61 L104.78 56.40 L106.41 56.40 L106.41 57.27 L108.04 57.27 L108.04 57.65 L109.67 57.65 L109.67 58.00 L111.30 58.00 L111.30 57.94 L112.93 57.94 L112.93 57.84 L114.56 57.84 L114.56 57.34 L116.19 57.34 L116.19 56.73 L117.82 56.73 L117.82 56.18 L119.45 56.18 L119.45 56.15 L121.08 56.15 L121.08 56.14 L122.71 56.14 L122.71 55.79 L124.34 55.79 L124.34 55.93 L125.97 55.93 L125.97 55.47 L127.60 55.47 L127.60 55.61 L129.23 55.61 L129.23 55.20 L130.86 55.20 L130.86 55.11 L132.49 55.11 L132.49 54.83 L134.12 54.83 L134.12 54.93 L135.75 54.93 L135.75 54.53 L137.38 54.53 L137.38 54.44 L139.01 54.44 L139.01 53.50 L140.64 53.50 L140.64 52.79 L142.27 52.79 L142.27 52.77 L143.90 52.77 L143.90 51.56 L145.53 51.56 L145.53 50.36 L147.16 50.36 L147.16 49.35 L148.79 49.35 L148.79 47.69 L150.42 47.69 L150.42 47.11 L152.05 47.11 L152.05 44.56 L153.68 44.56 L153.68 42.93 L155.31 42.93 L155.31 41.40 L156.94 41.40 L156.94 39.34 L158.57 39.34 L158.57 39.97 L160.20 39.97 L160.20 39.50 L161.83 39.50 L161.83 40.66 L163.46 40.66 L163.46 40.88 L165.09 40.88 L165.09 43.48 L166.72 43.48 L166.72 45.08 L168.35 45.08 L168.35 48.64 L169.98 48.64 L169.98 51.06 L171.61 51.06 L171.61 53.38 L173.24 53.38 L173.24 55.06 L174.87 55.06 L174.87 56.62 L176.50 56.62 L176.50 57.91 L178.13 57.91 L178.13 58.59 L179.76 58.59 L179.76 58.97 L181.39 58.97 L181.39 59.45 L183.02 59.45 L183.02 59.92 L184.65 59.92 L184.65 60.25 L186.28 60.25 L186.28 60.48 L187.91 60.48 L187.91 60.74 L189.54 60.74 L189.54 60.97 L191.17 60.97 L191.17 61.20 L192.80 61.20 L192.80 61.20 L194.43 61.20 L194.43 61.20 L196.06 61.20 L196.06 61.20 L197.69 61.20 L197.69 61.20 L199.32 61.20 L199.32 61.20 L200.95 61.20 L200.95 61.20 L202.58 61.20 L202.58 61.20 L204.21 61.20 L204.21 61.20 L205.84 61.20 L205.84 61.20 L207.47 61.20 L207.47 61.20 L209.10 61.20 L209.10 61.20 L210.73 61.20 L210.73 61.20 L212.36 61.20 L212.36 61.20 L213.99 61.20 L213.99 61.20 L215.62 61.20 L215.62 61.20 L217.25 61.20 L217.25 61.20 L218.88 61.20 L218.88 61.20 L220.51 61.20 L220.51 61.20 L222.14 61.20 L222.14 61.20 L223.77 61.20 L223.77 61.20 L225.40 61.20 L225.40 61.20 L227.03 61.20 L227.03 61.20 L228.66 61.20 L228.66 61.20 L230.29 61.20 L230.29 61.20 L231.92 61.20 L231.92 61.20 L233.55 61.20 L233.55 61.20 L235.18 61.20 L235.18 61.20 L236.81 61.20 L236.81 61.20 L238.44 61.20 L238.44 61.20 L240.07 61.20 L240.07 61.20 L241.70 61.20 L241.70 61.20 L243.33 61.20 L243.33 61.20 L244.96 61.20 L244.96 61.20 L246.59 61.20 L246.59 61.20 L248.22 61.20 L248.22 61.20 L249.85 61.20 L249.85 61.20 L251.48 61.20 L251.48 61.20 L253.11 61.20 L253.11 61.20 L254.74 61.20 L254.74 61.20 L256.37 61.20 L256.37 61.20 L258.00 61.20 L258.00 61.20 L259.63 61.20 L259.63 61.20 L261.26 61.20 L261.26 61.20 L262.89 61.20 L262.89 61.20 L264.52 61.20 L264.52 61.20 L266.15 61.20 L266.15 61.20 L267.78 61.20 L267.78 61.20 L269.41 61.20 L269.41 61.20 L271.04 61.20 L271.04 61.20 L272.67 61.20 L272.67 61.20 L274.30 61.20 L274.30 61.20 L275.93 61.20 L275.93 61.20 L277.56 61.20 L277.56 61.20 L279.19 61.20 L279.19 61.20 L280.82 61.20 L280.82 61.20 L282.45 61.20 L282.45 61.20 L284.08 61.20 L284.08 61.20 L285.71 61.20 L285.71 61.20 L287.34 61.20 L287.34 61.20 L288.97 61.20 L288.97 61.20 L290.60 61.20 L290.60 61.20" fill="none" stroke="#d6121a" stroke-width="1.70" stroke-linejoin="miter"/>
<path d="M46.10 61.20 L46.10 61.20 L47.73 61.20 L47.73 61.20 L49.36 61.20 L49.36 61.20 L50.99 61.20 L50.99 61.20 L52.62 61.20 L52.62 61.20 L54.25 61.20 L54.25 60.28 L55.88 60.28 L55.88 59.12 L57.51 59.12 L57.51 57.64 L59.14 57.64 L59.14 53.00 L60.77 53.00 L60.77 49.74 L62.40 49.74 L62.40 44.09 L64.03 44.09 L64.03 37.87 L65.66 37.87 L65.66 34.79 L67.29 34.79 L67.29 30.43 L68.92 30.43 L68.92 26.95 L70.55 26.95 L70.55 22.54 L72.18 22.54 L72.18 18.13 L73.81 18.13 L73.81 19.87 L75.44 19.87 L75.44 21.21 L77.07 21.21 L77.07 19.32 L78.70 19.32 L78.70 20.89 L80.33 20.89 L80.33 21.75 L81.96 21.75 L81.96 22.59 L83.59 22.59 L83.59 27.29 L85.22 27.29 L85.22 29.76 L86.85 29.76 L86.85 33.77 L88.48 33.77 L88.48 36.41 L90.11 36.41 L90.11 39.38 L91.74 39.38 L91.74 43.10 L93.37 43.10 L93.37 45.64 L95.00 45.64 L95.00 48.51 L96.63 48.51 L96.63 50.72 L98.26 50.72 L98.26 52.62 L99.89 52.62 L99.89 54.40 L101.52 54.40 L101.52 55.51 L103.15 55.51 L103.15 56.69 L104.78 56.69 L104.78 57.60 L106.41 57.60 L106.41 59.16 L108.04 59.16 L108.04 59.47 L109.67 59.47 L109.67 59.78 L111.30 59.78 L111.30 60.08 L112.93 60.08 L112.93 60.44 L114.56 60.44 L114.56 60.74 L116.19 60.74 L116.19 60.84 L117.82 60.84 L117.82 60.96 L119.45 60.96 L119.45 61.08 L121.08 61.08 L121.08 61.19 L122.71 61.19 L122.71 61.20 L124.34 61.20 L124.34 61.20 L125.97 61.20 L125.97 61.20 L127.60 61.20 L127.60 61.20 L129.23 61.20 L129.23 61.20 L130.86 61.20 L130.86 61.20 L132.49 61.20 L132.49 61.20 L134.12 61.20 L134.12 61.20 L135.75 61.20 L135.75 61.20 L137.38 61.20 L137.38 61.20 L139.01 61.20 L139.01 61.20 L140.64 61.20 L140.64 61.20 L142.27 61.20 L142.27 61.20 L143.90 61.20 L143.90 61.20 L145.53 61.20 L145.53 61.20 L147.16 61.20 L147.16 61.20 L148.79 61.20 L148.79 61.20 L150.42 61.20 L150.42 61.20 L152.05 61.20 L152.05 61.20 L153.68 61.20 L153.68 61.20 L155.31 61.20 L155.31 61.20 L156.94 61.20 L156.94 61.20 L158.57 61.20 L158.57 61.20 L160.20 61.20 L160.20 61.20 L161.83 61.20 L161.83 61.20 L163.46 61.20 L163.46 61.20 L165.09 61.20 L165.09 61.20 L166.72 61.20 L166.72 61.20 L168.35 61.20 L168.35 61.20 L169.98 61.20 L169.98 61.20 L171.61 61.20 L171.61 61.20 L173.24 61.20 L173.24 61.20 L174.87 61.20 L174.87 61.20 L176.50 61.20 L176.50 61.20 L178.13 61.20 L178.13 61.20 L179.76 61.20 L179.76 61.20 L181.39 61.20 L181.39 61.20 L183.02 61.20 L183.02 61.20 L184.65 61.20 L184.65 61.20 L186.28 61.20 L186.28 61.20 L187.91 61.20 L187.91 61.20 L189.54 61.20 L189.54 61.20 L191.17 61.20 L191.17 61.20 L192.80 61.20 L192.80 61.20 L194.43 61.20 L194.43 61.20 L196.06 61.20 L196.06 61.20 L197.69 61.20 L197.69 61.20 L199.32 61.20 L199.32 61.20 L200.95 61.20 L200.95 61.20 L202.58 61.20 L202.58 61.20 L204.21 61.20 L204.21 61.20 L205.84 61.20 L205.84 61.20 L207.47 61.20 L207.47 61.20 L209.10 61.20 L209.10 61.20 L210.73 61.20 L210.73 61.20 L212.36 61.20 L212.36 61.20 L213.99 61.20 L213.99 61.20 L215.62 61.20 L215.62 61.20 L217.25 61.20 L217.25 61.20 L218.88 61.20 L218.88 61.20 L220.51 61.20 L220.51 61.20 L222.14 61.20 L222.14 61.20 L223.77 61.20 L223.77 61.20 L225.40 61.20 L225.40 61.20 L227.03 61.20 L227.03 61.20 L228.66 61.20 L228.66 61.20 L230.29 61.20 L230.29 61.20 L231.92 61.20 L231.92 61.20 L233.55 61.20 L233.55 61.20 L235.18 61.20 L235.18 61.20 L236.81 61.20 L236.81 61.20 L238.44 61.20 L238.44 61.20 L240.07 61.20 L240.07 61.20 L241.70 61.20 L241.70 61.20 L243.33 61.20 L243.33 61.20 L244.96 61.20 L244.96 61.20 L246.59 61.20 L246.59 61.20 L248.22 61.20 L248.22 61.20 L249.85 61.20 L249.85 61.20 L251.48 61.20 L251.48 61.20 L253.11 61.20 L253.11 61.20 L254.74 61.20 L254.74 61.20 L256.37 61.20 L256.37 61.20 L258.00 61.20 L258.00 61.20 L259.63 61.20 L259.63 61.20 L261.26 61.20 L261.26 61.20 L262.89 61.20 L262.89 61.20 L264.52 61.20 L264.52 61.20 L266.15 61.20 L266.15 61.20 L267.78 61.20 L267.78 61.20 L269.41 61.20 L269.41 61.20 L271.04 61.20 L271.04 61.20 L272.67 61.20 L272.67 61.20 L274.30 61.20 L274.30 61.20 L275.93 61.20 L275.93 61.20 L277.56 61.20 L277.56 61.20 L279.19 61.20 L279.19 61.20 L280.82 61.20 L280.82 61.20 L282.45 61.20 L282.45 61.20 L284.08 61.20 L284.08 61.20 L285.71 61.20 L285.71 61.20 L287.34 61.20 L287.34 61.20 L288.97 61.20 L288.97 61.20 L290.60 61.20 L290.60 61.20" fill="none" stroke="#fcaa5c" stroke-width="1.70" stroke-linejoin="miter"/>
<path d="M46.10 61.20 L46.10 61.20 L47.73 61.20 L47.73 61.20 L49.36 61.20 L49.36 61.20 L50.99 61.20 L50.99 61.20 L52.62 61.20 L52.62 61.20 L54.25 61.20 L54.25 61.20 L55.88 61.20 L55.88 59.92 L57.51 59.92 L57.51 57.21 L59.14 57.21 L59.14 54.39 L60.77 54.39 L60.77 49.11 L62.40 49.11 L62.40 42.58 L64.03 42.58 L64.03 39.59 L65.66 39.59 L65.66 31.74 L67.29 31.74 L67.29 29.73 L68.92 29.73 L68.92 25.39 L70.55 25.39 L70.55 22.90 L72.18 22.90 L72.18 19.55 L73.81 19.55 L73.81 22.55 L75.44 22.55 L75.44 20.18 L77.07 20.18 L77.07 20.37 L78.70 20.37 L78.70 18.60 L80.33 18.60 L80.33 21.47 L81.96 21.47 L81.96 20.70 L83.59 20.70 L83.59 23.26 L85.22 23.26 L85.22 23.92 L86.85 23.92 L86.85 25.47 L88.48 25.47 L88.48 29.35 L90.11 29.35 L90.11 29.25 L91.74 29.25 L91.74 31.48 L93.37 31.48 L93.37 33.82 L95.00 33.82 L95.00 35.75 L96.63 35.75 L96.63 39.33 L98.26 39.33 L98.26 41.39 L99.89 41.39 L99.89 44.11 L101.52 44.11 L101.52 45.86 L103.15 45.86 L103.15 47.64 L104.78 47.64 L104.78 49.92 L106.41 49.92 L106.41 51.10 L108.04 51.10 L108.04 52.47 L109.67 52.47 L109.67 53.66 L111.30 53.66 L111.30 54.48 L112.93 54.48 L112.93 55.23 L114.56 55.23 L114.56 56.28 L116.19 56.28 L116.19 56.70 L117.82 56.70 L117.82 56.98 L119.45 56.98 L119.45 57.56 L121.08 57.56 L121.08 58.11 L122.71 58.11 L122.71 58.61 L124.34 58.61 L124.34 59.02 L125.97 59.02 L125.97 59.07 L127.60 59.07 L127.60 59.37 L129.23 59.37 L129.23 59.61 L130.86 59.61 L130.86 59.78 L132.49 59.78 L132.49 59.91 L134.12 59.91 L134.12 60.19 L135.75 60.19 L135.75 60.31 L137.38 60.31 L137.38 60.45 L139.01 60.45 L139.01 60.59 L140.64 60.59 L140.64 60.73 L142.27 60.73 L142.27 60.85 L143.90 60.85 L143.90 60.98 L145.53 60.98 L145.53 61.11 L147.16 61.11 L147.16 61.20 L148.79 61.20 L148.79 61.20 L150.42 61.20 L150.42 61.20 L152.05 61.20 L152.05 61.20 L153.68 61.20 L153.68 61.20 L155.31 61.20 L155.31 61.20 L156.94 61.20 L156.94 61.20 L158.57 61.20 L158.57 61.20 L160.20 61.20 L160.20 61.20 L161.83 61.20 L161.83 61.20 L163.46 61.20 L163.46 61.20 L165.09 61.20 L165.09 61.20 L166.72 61.20 L166.72 61.20 L168.35 61.20 L168.35 61.20 L169.98 61.20 L169.98 61.20 L171.61 61.20 L171.61 61.20 L173.24 61.20 L173.24 61.20 L174.87 61.20 L174.87 61.20 L176.50 61.20 L176.50 61.20 L178.13 61.20 L178.13 61.20 L179.76 61.20 L179.76 61.20 L181.39 61.20 L181.39 61.20 L183.02 61.20 L183.02 61.20 L184.65 61.20 L184.65 61.20 L186.28 61.20 L186.28 61.20 L187.91 61.20 L187.91 61.20 L189.54 61.20 L189.54 61.20 L191.17 61.20 L191.17 61.20 L192.80 61.20 L192.80 61.20 L194.43 61.20 L194.43 61.20 L196.06 61.20 L196.06 61.20 L197.69 61.20 L197.69 61.20 L199.32 61.20 L199.32 61.20 L200.95 61.20 L200.95 61.20 L202.58 61.20 L202.58 61.20 L204.21 61.20 L204.21 61.20 L205.84 61.20 L205.84 61.20 L207.47 61.20 L207.47 61.20 L209.10 61.20 L209.10 61.20 L210.73 61.20 L210.73 61.20 L212.36 61.20 L212.36 61.20 L213.99 61.20 L213.99 61.20 L215.62 61.20 L215.62 61.20 L217.25 61.20 L217.25 61.20 L218.88 61.20 L218.88 61.20 L220.51 61.20 L220.51 61.20 L222.14 61.20 L222.14 61.20 L223.77 61.20 L223.77 61.20 L225.40 61.20 L225.40 61.20 L227.03 61.20 L227.03 61.20 L228.66 61.20 L228.66 61.20 L230.29 61.20 L230.29 61.20 L231.92 61.20 L231.92 61.20 L233.55 61.20 L233.55 61.20 L235.18 61.20 L235.18 61.20 L236.81 61.20 L236.81 61.20 L238.44 61.20 L238.44 61.20 L240.07 61.20 L240.07 61.20 L241.70 61.20 L241.70 61.20 L243.33 61.20 L243.33 61.20 L244.96 61.20 L244.96 61.20 L246.59 61.20 L246.59 61.20 L248.22 61.20 L248.22 61.20 L249.85 61.20 L249.85 61.20 L251.48 61.20 L251.48 61.20 L253.11 61.20 L253.11 61.20 L254.74 61.20 L254.74 61.20 L256.37 61.20 L256.37 61.20 L258.00 61.20 L258.00 61.20 L259.63 61.20 L259.63 61.20 L261.26 61.20 L261.26 61.20 L262.89 61.20 L262.89 61.20 L264.52 61.20 L264.52 61.20 L266.15 61.20 L266.15 61.20 L267.78 61.20 L267.78 61.20 L269.41 61.20 L269.41 61.20 L271.04 61.20 L271.04 61.20 L272.67 61.20 L272.67 61.20 L274.30 61.20 L274.30 61.20 L275.93 61.20 L275.93 61.20 L277.56 61.20 L277.56 61.20 L279.19 61.20 L279.19 61.20 L280.82 61.20 L280.82 61.20 L282.45 61.20 L282.45 61.20 L284.08 61.20 L284.08 61.20 L285.71 61.20 L285.71 61.20 L287.34 61.20 L287.34 61.20 L288.97 61.20 L288.97 61.20 L290.60 61.20 L290.60 61.20" fill="none" stroke="#a6d8ec" stroke-width="1.70" stroke-linejoin="miter"/>
<path d="M46.10 61.20 L46.10 61.20 L47.73 61.20 L47.73 61.20 L49.36 61.20 L49.36 60.97 L50.99 60.97 L50.99 58.66 L52.62 58.66 L52.62 56.56 L54.25 56.56 L54.25 53.55 L55.88 53.55 L55.88 50.92 L57.51 50.92 L57.51 46.82 L59.14 46.82 L59.14 41.89 L60.77 41.89 L60.77 36.47 L62.40 36.47 L62.40 30.73 L64.03 30.73 L64.03 24.10 L65.66 24.10 L65.66 19.23 L67.29 19.23 L67.29 16.12 L68.92 16.12 L68.92 10.45 L70.55 10.45 L70.55 9.90 L72.18 9.90 L72.18 11.52 L73.81 11.52 L73.81 17.23 L75.44 17.23 L75.44 21.70 L77.07 21.70 L77.07 25.66 L78.70 25.66 L78.70 30.27 L80.33 30.27 L80.33 31.62 L81.96 31.62 L81.96 37.08 L83.59 37.08 L83.59 40.81 L85.22 40.81 L85.22 43.70 L86.85 43.70 L86.85 46.32 L88.48 46.32 L88.48 49.85 L90.11 49.85 L90.11 52.38 L91.74 52.38 L91.74 54.39 L93.37 54.39 L93.37 55.44 L95.00 55.44 L95.00 56.87 L96.63 56.87 L96.63 58.23 L98.26 58.23 L98.26 58.72 L99.89 58.72 L99.89 59.18 L101.52 59.18 L101.52 59.66 L103.15 59.66 L103.15 60.27 L104.78 60.27 L104.78 60.51 L106.41 60.51 L106.41 60.77 L108.04 60.77 L108.04 61.02 L109.67 61.02 L109.67 61.20 L111.30 61.20 L111.30 61.20 L112.93 61.20 L112.93 61.20 L114.56 61.20 L114.56 61.20 L116.19 61.20 L116.19 61.20 L117.82 61.20 L117.82 61.20 L119.45 61.20 L119.45 61.20 L121.08 61.20 L121.08 61.20 L122.71 61.20 L122.71 61.20 L124.34 61.20 L124.34 61.20 L125.97 61.20 L125.97 61.20 L127.60 61.20 L127.60 61.20 L129.23 61.20 L129.23 61.20 L130.86 61.20 L130.86 61.20 L132.49 61.20 L132.49 61.20 L134.12 61.20 L134.12 61.20 L135.75 61.20 L135.75 61.20 L137.38 61.20 L137.38 61.20 L139.01 61.20 L139.01 61.20 L140.64 61.20 L140.64 61.20 L142.27 61.20 L142.27 61.20 L143.90 61.20 L143.90 61.20 L145.53 61.20 L145.53 61.20 L147.16 61.20 L147.16 61.20 L148.79 61.20 L148.79 61.20 L150.42 61.20 L150.42 61.20 L152.05 61.20 L152.05 61.20 L153.68 61.20 L153.68 61.20 L155.31 61.20 L155.31 61.20 L156.94 61.20 L156.94 61.20 L158.57 61.20 L158.57 61.20 L160.20 61.20 L160.20 61.20 L161.83 61.20 L161.83 61.20 L163.46 61.20 L163.46 61.20 L165.09 61.20 L165.09 61.20 L166.72 61.20 L166.72 61.20 L168.35 61.20 L168.35 61.20 L169.98 61.20 L169.98 61.20 L171.61 61.20 L171.61 61.20 L173.24 61.20 L173.24 61.20 L174.87 61.20 L174.87 61.20 L176.50 61.20 L176.50 61.20 L178.13 61.20 L178.13 61.20 L179.76 61.20 L179.76 61.20 L181.39 61.20 L181.39 61.20 L183.02 61.20 L183.02 61.20 L184.65 61.20 L184.65 61.20 L186.28 61.20 L186.28 61.20 L187.91 61.20 L187.91 61.20 L189.54 61.20 L189.54 61.20 L191.17 61.20 L191.17 61.20 L192.80 61.20 L192.80 61.20 L194.43 61.20 L194.43 61.20 L196.06 61.20 L196.06 61.20 L197.69 61.20 L197.69 61.20 L199.32 61.20 L199.32 61.20 L200.95 61.20 L200.95 61.20 L202.58 61.20 L202.58 61.20 L204.21 61.20 L204.21 61.20 L205.84 61.20 L205.84 61.20 L207.47 61.20 L207.47 61.20 L209.10 61.20 L209.10 61.20 L210.73 61.20 L210.73 61.20 L212.36 61.20 L212.36 61.20 L213.99 61.20 L213.99 61.20 L215.62 61.20 L215.62 61.20 L217.25 61.20 L217.25 61.20 L218.88 61.20 L218.88 61.20 L220.51 61.20 L220.51 61.20 L222.14 61.20 L222.14 61.20 L223.77 61.20 L223.77 61.20 L225.40 61.20 L225.40 61.20 L227.03 61.20 L227.03 61.20 L228.66 61.20 L228.66 61.20 L230.29 61.20 L230.29 61.20 L231.92 61.20 L231.92 61.20 L233.55 61.20 L233.55 61.20 L235.18 61.20 L235.18 61.20 L236.81 61.20 L236.81 61.20 L238.44 61.20 L238.44 61.20 L240.07 61.20 L240.07 61.20 L241.70 61.20 L241.70 61.20 L243.33 61.20 L243.33 61.20 L244.96 61.20 L244.96 61.20 L246.59 61.20 L246.59 61.20 L248.22 61.20 L248.22 61.20 L249.85 61.20 L249.85 61.20 L251.48 61.20 L251.48 61.20 L253.11 61.20 L253.11 61.20 L254.74 61.20 L254.74 61.20 L256.37 61.20 L256.37 61.20 L258.00 61.20 L258.00 61.20 L259.63 61.20 L259.63 61.20 L261.26 61.20 L261.26 61.20 L262.89 61.20 L262.89 61.20 L264.52 61.20 L264.52 61.20 L266.15 61.20 L266.15 61.20 L267.78 61.20 L267.78 61.20 L269.41 61.20 L269.41 61.20 L271.04 61.20 L271.04 61.20 L272.67 61.20 L272.67 61.20 L274.30 61.20 L274.30 61.20 L275.93 61.20 L275.93 61.20 L277.56 61.20 L277.56 61.20 L279.19 61.20 L279.19 61.20 L280.82 61.20 L280.82 61.20 L282.45 61.20 L282.45 61.20 L284.08 61.20 L284.08 61.20 L285.71 61.20 L285.71 61.20 L287.34 61.20 L287.34 61.20 L288.97 61.20 L288.97 61.20 L290.60 61.20 L290.60 61.20" fill="none" stroke="#2575b7" stroke-width="1.70" stroke-linejoin="miter"/>
</g>
<g clip-path="url(#clr)">
<path d="M291.40 61.60 L291.40 61.60 L291.40 64.80 L291.40 64.80 L291.40 68.00 L291.40 68.00 L291.40 71.20 L291.40 71.20 L291.40 74.40 L291.40 74.40 L291.40 77.60 L291.40 77.60 L291.40 80.80 L291.40 80.80 L291.40 84.00 L291.40 84.00 L291.40 87.20 L291.40 87.20 L291.40 90.40 L291.40 90.40 L291.40 93.60 L291.40 93.60 L291.40 96.80 L291.40 96.80 L291.40 100.00 L291.40 100.00 L291.40 103.20 L291.40 103.20 L291.40 106.40 L291.40 106.40 L291.40 109.60 L291.40 109.60 L291.40 112.80 L291.40 112.80 L291.40 116.00 L291.40 116.00 L291.40 119.20 L291.44 119.20 L291.44 122.40 L291.60 122.40 L291.60 125.60 L291.76 125.60 L291.76 128.80 L291.92 128.80 L291.92 132.00 L292.08 132.00 L292.08 135.20 L292.24 135.20 L292.24 138.40 L292.40 138.40 L292.40 141.60 L292.83 141.60 L292.83 144.80 L293.25 144.80 L293.25 148.00 L293.68 148.00 L293.68 151.20 L294.11 151.20 L294.11 154.40 L294.66 154.40 L294.66 157.60 L295.48 157.60 L295.48 160.80 L296.30 160.80 L296.30 164.00 L297.13 164.00 L297.13 167.20 L297.95 167.20 L297.95 170.40 L298.77 170.40 L298.77 173.60 L299.44 173.60 L299.44 176.80 L300.08 176.80 L300.08 180.00 L300.72 180.00 L300.72 183.20 L301.36 183.20 L301.36 186.40 L302.00 186.40 L302.00 189.60 L302.58 189.60 L302.58 192.80 L303.06 192.80 L303.06 196.00 L303.54 196.00 L303.54 199.20 L303.34 199.20 L303.34 202.40 L301.10 202.40 L301.10 205.60 L299.30 205.60 L299.30 208.80 L297.70 208.80 L297.70 212.00 L296.47 212.00 L296.47 215.20 L295.61 215.20 L295.61 218.40 L294.75 218.40 L294.75 221.60 L293.88 221.60 L293.88 224.80 L293.31 224.80 L293.31 228.00 L293.09 228.00 L293.09 231.20 L292.88 231.20 L292.88 234.40 L292.67 234.40 L292.67 237.60 L292.45 237.60 L292.45 240.80 L293.09 240.80 L293.09 244.00 L294.00 244.00 L294.00 247.20 L295.00 247.20 L295.00 250.40 L296.07 250.40 L296.07 253.60 L297.24 253.60 L297.24 256.80 L298.77 256.80 L298.77 260.00 L299.69 260.00 L299.69 263.20 L298.92 263.20 L298.92 266.40 L298.15 266.40 L298.15 269.60 L296.39 269.60 L296.39 272.80 L295.40 272.80 L295.40 276.00 L316.90 276.00 L316.90 279.20 L349.93 279.20 L349.93 282.40 L338.52 282.40 L338.52 285.60 L310.40 285.60 L310.40 288.80 L292.94 288.80 L292.94 292.00 L292.19 292.00 L292.19 295.20 L291.45 295.20 L291.45 298.40 L291.40 298.40Z" fill="#d6121a" fill-opacity="0.18" stroke="none"/>
<path d="M291.40 100.00 L291.50 100.00 L291.50 102.40 L291.69 102.40 L291.69 104.80 L291.88 104.80 L291.88 107.20 L292.07 107.20 L292.07 109.60 L292.23 109.60 L292.23 112.00 L292.49 112.00 L292.49 114.40 L292.60 114.40 L292.60 116.80 L292.82 116.80 L292.82 119.20 L293.05 119.20 L293.05 121.60 L293.18 121.60 L293.18 124.00 L293.38 124.00 L293.38 126.40 L293.62 126.40 L293.62 128.80 L293.93 128.80 L293.93 131.20 L294.27 131.20 L294.27 133.60 L294.38 133.60 L294.38 136.00 L294.55 136.00 L294.55 138.40 L294.90 138.40 L294.90 140.80 L295.81 140.80 L295.81 143.20 L297.01 143.20 L297.01 145.60 L298.32 145.60 L298.32 148.00 L299.20 148.00 L299.20 150.40 L300.47 150.40 L300.47 152.80 L301.84 152.80 L301.84 155.20 L303.79 155.20 L303.79 157.60 L305.70 157.60 L305.70 160.00 L307.11 160.00 L307.11 162.40 L309.16 162.40 L309.16 164.80 L311.11 164.80 L311.11 167.20 L312.84 167.20 L312.84 169.60 L314.21 169.60 L314.21 172.00 L315.17 172.00 L315.17 174.40 L316.88 174.40 L316.88 176.80 L317.91 176.80 L317.91 179.20 L319.31 179.20 L319.31 181.60 L316.42 181.60 L316.42 184.00 L317.35 184.00 L317.35 186.40 L317.02 186.40 L317.02 188.80 L315.74 188.80 L315.74 191.20 L313.59 191.20 L313.59 193.60 L310.81 193.60 L310.81 196.00 L308.26 196.00 L308.26 198.40 L305.88 198.40 L305.88 200.80 L303.72 200.80 L303.72 203.20 L302.04 203.20 L302.04 205.60 L300.22 205.60 L300.22 208.00 L299.72 208.00 L299.72 210.40 L298.52 210.40 L298.52 212.80 L297.47 212.80 L297.47 215.20 L296.95 215.20 L296.95 217.60 L296.26 217.60 L296.26 220.00 L295.56 220.00 L295.56 222.40 L295.01 222.40 L295.01 224.80 L294.68 224.80 L294.68 227.20 L294.25 227.20 L294.25 229.60 L293.90 229.60 L293.90 232.00 L293.57 232.00 L293.57 234.40 L293.25 234.40 L293.25 236.80 L292.93 236.80 L292.93 239.20 L292.56 239.20 L292.56 241.60 L292.46 241.60 L292.46 244.00 L292.32 244.00 L292.32 246.40 L292.16 246.40 L292.16 248.80 L292.05 248.80 L292.05 251.20 L291.92 251.20 L291.92 253.60 L291.79 253.60 L291.79 256.00 L291.66 256.00 L291.66 258.40 L291.53 258.40 L291.53 260.80 L291.40 260.80Z" fill="#fcaa5c" fill-opacity="0.18" stroke="none"/>
<path d="M291.40 92.00 L291.58 92.00 L291.58 94.40 L291.97 94.40 L291.97 96.80 L292.31 96.80 L292.31 99.20 L292.70 99.20 L292.70 101.60 L293.08 101.60 L293.08 104.00 L293.55 104.00 L293.55 106.40 L293.80 106.40 L293.80 108.80 L294.42 108.80 L294.42 111.20 L294.67 111.20 L294.67 113.60 L295.13 113.60 L295.13 116.00 L295.47 116.00 L295.47 118.40 L296.01 118.40 L296.01 120.80 L296.06 120.80 L296.06 123.20 L296.61 123.20 L296.61 125.60 L297.14 125.60 L297.14 128.00 L298.17 128.00 L298.17 130.40 L298.70 130.40 L298.70 132.80 L299.67 132.80 L299.67 135.20 L300.54 135.20 L300.54 137.60 L302.51 137.60 L302.51 140.00 L303.99 140.00 L303.99 142.40 L304.43 142.40 L304.43 144.80 L305.93 144.80 L305.93 147.20 L306.75 147.20 L306.75 149.60 L307.52 149.60 L307.52 152.00 L308.54 152.00 L308.54 154.40 L308.69 154.40 L308.69 156.80 L309.01 156.80 L309.01 159.20 L308.84 159.20 L308.84 161.60 L309.19 161.60 L309.19 164.00 L309.58 164.00 L309.58 166.40 L308.98 166.40 L308.98 168.80 L308.93 168.80 L308.93 171.20 L308.67 171.20 L308.67 173.60 L308.45 173.60 L308.45 176.00 L308.36 176.00 L308.36 178.40 L308.42 178.40 L308.42 180.80 L307.92 180.80 L307.92 183.20 L308.26 183.20 L308.26 185.60 L308.61 185.60 L308.61 188.00 L308.19 188.00 L308.19 190.40 L307.14 190.40 L307.14 192.80 L305.89 192.80 L305.89 195.20 L304.90 195.20 L304.90 197.60 L304.37 197.60 L304.37 200.00 L302.58 200.00 L302.58 202.40 L301.08 202.40 L301.08 204.80 L299.97 204.80 L299.97 207.20 L299.12 207.20 L299.12 209.60 L297.71 209.60 L297.71 212.00 L296.78 212.00 L296.78 214.40 L296.12 214.40 L296.12 216.80 L295.44 216.80 L295.44 219.20 L294.76 219.20 L294.76 221.60 L294.19 221.60 L294.19 224.00 L293.78 224.00 L293.78 226.40 L293.59 226.40 L293.59 228.80 L293.37 228.80 L293.37 231.20 L293.14 231.20 L293.14 233.60 L292.90 233.60 L292.90 236.00 L292.68 236.00 L292.68 238.40 L292.42 238.40 L292.42 240.80 L292.29 240.80 L292.29 243.20 L292.11 243.20 L292.11 245.60 L291.94 245.60 L291.94 248.00 L291.79 248.00 L291.79 250.40 L291.63 250.40 L291.63 252.80 L291.40 252.80Z" fill="#a6d8ec" fill-opacity="0.18" stroke="none"/>
<path d="M291.40 77.00 L291.40 77.00 L291.40 79.40 L291.40 79.40 L291.40 81.80 L291.40 81.80 L291.40 84.20 L291.40 84.20 L291.40 86.60 L291.40 86.60 L291.40 89.00 L291.40 89.00 L291.40 91.40 L291.40 91.40 L291.40 93.80 L291.40 93.80 L291.40 96.20 L291.55 96.20 L291.55 98.60 L291.82 98.60 L291.82 101.00 L292.07 101.00 L292.07 103.40 L292.32 103.40 L292.32 105.80 L292.53 105.80 L292.53 108.20 L292.83 108.20 L292.83 110.60 L293.01 110.60 L293.01 113.00 L293.18 113.00 L293.18 115.40 L293.32 115.40 L293.32 117.80 L293.50 117.80 L293.50 120.20 L293.64 120.20 L293.64 122.60 L293.76 122.60 L293.76 125.00 L294.07 125.00 L294.07 127.40 L294.31 127.40 L294.31 129.80 L294.61 129.80 L294.61 132.20 L294.74 132.20 L294.74 134.60 L294.95 134.60 L294.95 137.00 L295.18 137.00 L295.18 139.40 L295.58 139.40 L295.58 141.80 L297.07 141.80 L297.07 144.20 L298.06 144.20 L298.06 146.60 L299.27 146.60 L299.27 149.00 L300.67 149.00 L300.67 151.40 L302.29 151.40 L302.29 153.80 L303.83 153.80 L303.83 156.20 L305.28 156.20 L305.28 158.60 L307.15 158.60 L307.15 161.00 L309.40 161.00 L309.40 163.40 L311.02 163.40 L311.02 165.80 L312.67 165.80 L312.67 168.20 L314.81 168.20 L314.81 170.60 L316.59 170.60 L316.59 173.00 L318.34 173.00 L318.34 175.40 L317.74 175.40 L317.74 177.80 L318.98 177.80 L318.98 180.20 L318.20 180.20 L318.20 182.60 L316.67 182.60 L316.67 185.00 L316.79 185.00 L316.79 187.40 L315.52 187.40 L315.52 189.80 L314.61 189.80 L314.61 192.20 L312.13 192.20 L312.13 194.60 L308.66 194.60 L308.66 197.00 L306.31 197.00 L306.31 199.40 L303.83 199.40 L303.83 201.80 L301.63 201.80 L301.63 204.20 L300.11 204.20 L300.11 206.60 L299.00 206.60 L299.00 209.00 L297.86 209.00 L297.86 211.40 L296.88 211.40 L296.88 213.80 L296.03 213.80 L296.03 216.20 L295.60 216.20 L295.60 218.60 L295.07 218.60 L295.07 221.00 L294.42 221.00 L294.42 223.40 L293.90 223.40 L293.90 225.80 L293.67 225.80 L293.67 228.20 L293.45 228.20 L293.45 230.60 L293.13 230.60 L293.13 233.00 L292.97 233.00 L292.97 235.40 L292.67 235.40 L292.67 237.80 L292.48 237.80 L292.48 240.20 L292.30 240.20 L292.30 242.60 L292.24 242.60 L292.24 245.00 L292.14 245.00 L292.14 247.40 L292.01 247.40 L292.01 249.80 L291.92 249.80 L291.92 252.20 L291.79 252.20 L291.79 254.60 L291.68 254.60 L291.68 257.00 L291.57 257.00 L291.57 259.40 L291.46 259.40 L291.46 261.80 L291.40 261.80Z" fill="#2575b7" fill-opacity="0.18" stroke="none"/>
<line x1="291.40" y1="126.50" x2="352.00" y2="126.50" stroke="#a6d8ec" stroke-width="0.90" stroke-dasharray="3.2 1.4"/>
<line x1="291.40" y1="144.60" x2="352.00" y2="144.60" stroke="#2575b7" stroke-width="0.90" stroke-dasharray="3.2 1.4"/>
<line x1="291.40" y1="149.50" x2="352.00" y2="149.50" stroke="#fcaa5c" stroke-width="0.90" stroke-dasharray="3.2 1.4"/>
<line x1="291.40" y1="172.00" x2="352.00" y2="172.00" stroke="#d6121a" stroke-width="0.90" stroke-dasharray="3.2 1.4"/>
<line x1="291.40" y1="216.30" x2="352.00" y2="216.30" stroke="#2575b7" stroke-width="0.90" stroke-dasharray="3.2 1.4"/>
<line x1="291.40" y1="219.40" x2="352.00" y2="219.40" stroke="#fcaa5c" stroke-width="0.90" stroke-dasharray="3.2 1.4"/>
<line x1="291.40" y1="226.20" x2="352.00" y2="226.20" stroke="#a6d8ec" stroke-width="0.90" stroke-dasharray="3.2 1.4"/>
<line x1="291.40" y1="285.30" x2="352.00" y2="285.30" stroke="#d6121a" stroke-width="0.90" stroke-dasharray="3.2 1.4"/>
<path d="M291.40 61.60 L291.40 61.60 L291.40 64.80 L291.40 64.80 L291.40 68.00 L291.40 68.00 L291.40 71.20 L291.40 71.20 L291.40 74.40 L291.40 74.40 L291.40 77.60 L291.40 77.60 L291.40 80.80 L291.40 80.80 L291.40 84.00 L291.40 84.00 L291.40 87.20 L291.40 87.20 L291.40 90.40 L291.40 90.40 L291.40 93.60 L291.40 93.60 L291.40 96.80 L291.40 96.80 L291.40 100.00 L291.40 100.00 L291.40 103.20 L291.40 103.20 L291.40 106.40 L291.40 106.40 L291.40 109.60 L291.40 109.60 L291.40 112.80 L291.40 112.80 L291.40 116.00 L291.40 116.00 L291.40 119.20 L291.44 119.20 L291.44 122.40 L291.60 122.40 L291.60 125.60 L291.76 125.60 L291.76 128.80 L291.92 128.80 L291.92 132.00 L292.08 132.00 L292.08 135.20 L292.24 135.20 L292.24 138.40 L292.40 138.40 L292.40 141.60 L292.83 141.60 L292.83 144.80 L293.25 144.80 L293.25 148.00 L293.68 148.00 L293.68 151.20 L294.11 151.20 L294.11 154.40 L294.66 154.40 L294.66 157.60 L295.48 157.60 L295.48 160.80 L296.30 160.80 L296.30 164.00 L297.13 164.00 L297.13 167.20 L297.95 167.20 L297.95 170.40 L298.77 170.40 L298.77 173.60 L299.44 173.60 L299.44 176.80 L300.08 176.80 L300.08 180.00 L300.72 180.00 L300.72 183.20 L301.36 183.20 L301.36 186.40 L302.00 186.40 L302.00 189.60 L302.58 189.60 L302.58 192.80 L303.06 192.80 L303.06 196.00 L303.54 196.00 L303.54 199.20 L303.34 199.20 L303.34 202.40 L301.10 202.40 L301.10 205.60 L299.30 205.60 L299.30 208.80 L297.70 208.80 L297.70 212.00 L296.47 212.00 L296.47 215.20 L295.61 215.20 L295.61 218.40 L294.75 218.40 L294.75 221.60 L293.88 221.60 L293.88 224.80 L293.31 224.80 L293.31 228.00 L293.09 228.00 L293.09 231.20 L292.88 231.20 L292.88 234.40 L292.67 234.40 L292.67 237.60 L292.45 237.60 L292.45 240.80 L293.09 240.80 L293.09 244.00 L294.00 244.00 L294.00 247.20 L295.00 247.20 L295.00 250.40 L296.07 250.40 L296.07 253.60 L297.24 253.60 L297.24 256.80 L298.77 256.80 L298.77 260.00 L299.69 260.00 L299.69 263.20 L298.92 263.20 L298.92 266.40 L298.15 266.40 L298.15 269.60 L296.39 269.60 L296.39 272.80 L295.40 272.80 L295.40 276.00 L316.90 276.00 L316.90 279.20 L349.93 279.20 L349.93 282.40 L338.52 282.40 L338.52 285.60 L310.40 285.60 L310.40 288.80 L292.94 288.80 L292.94 292.00 L292.19 292.00 L292.19 295.20 L291.45 295.20 L291.45 298.40 L291.40 298.40" fill="none" stroke="#d6121a" stroke-width="1.70" stroke-linejoin="miter"/>
<path d="M291.40 100.00 L291.50 100.00 L291.50 102.40 L291.69 102.40 L291.69 104.80 L291.88 104.80 L291.88 107.20 L292.07 107.20 L292.07 109.60 L292.23 109.60 L292.23 112.00 L292.49 112.00 L292.49 114.40 L292.60 114.40 L292.60 116.80 L292.82 116.80 L292.82 119.20 L293.05 119.20 L293.05 121.60 L293.18 121.60 L293.18 124.00 L293.38 124.00 L293.38 126.40 L293.62 126.40 L293.62 128.80 L293.93 128.80 L293.93 131.20 L294.27 131.20 L294.27 133.60 L294.38 133.60 L294.38 136.00 L294.55 136.00 L294.55 138.40 L294.90 138.40 L294.90 140.80 L295.81 140.80 L295.81 143.20 L297.01 143.20 L297.01 145.60 L298.32 145.60 L298.32 148.00 L299.20 148.00 L299.20 150.40 L300.47 150.40 L300.47 152.80 L301.84 152.80 L301.84 155.20 L303.79 155.20 L303.79 157.60 L305.70 157.60 L305.70 160.00 L307.11 160.00 L307.11 162.40 L309.16 162.40 L309.16 164.80 L311.11 164.80 L311.11 167.20 L312.84 167.20 L312.84 169.60 L314.21 169.60 L314.21 172.00 L315.17 172.00 L315.17 174.40 L316.88 174.40 L316.88 176.80 L317.91 176.80 L317.91 179.20 L319.31 179.20 L319.31 181.60 L316.42 181.60 L316.42 184.00 L317.35 184.00 L317.35 186.40 L317.02 186.40 L317.02 188.80 L315.74 188.80 L315.74 191.20 L313.59 191.20 L313.59 193.60 L310.81 193.60 L310.81 196.00 L308.26 196.00 L308.26 198.40 L305.88 198.40 L305.88 200.80 L303.72 200.80 L303.72 203.20 L302.04 203.20 L302.04 205.60 L300.22 205.60 L300.22 208.00 L299.72 208.00 L299.72 210.40 L298.52 210.40 L298.52 212.80 L297.47 212.80 L297.47 215.20 L296.95 215.20 L296.95 217.60 L296.26 217.60 L296.26 220.00 L295.56 220.00 L295.56 222.40 L295.01 222.40 L295.01 224.80 L294.68 224.80 L294.68 227.20 L294.25 227.20 L294.25 229.60 L293.90 229.60 L293.90 232.00 L293.57 232.00 L293.57 234.40 L293.25 234.40 L293.25 236.80 L292.93 236.80 L292.93 239.20 L292.56 239.20 L292.56 241.60 L292.46 241.60 L292.46 244.00 L292.32 244.00 L292.32 246.40 L292.16 246.40 L292.16 248.80 L292.05 248.80 L292.05 251.20 L291.92 251.20 L291.92 253.60 L291.79 253.60 L291.79 256.00 L291.66 256.00 L291.66 258.40 L291.53 258.40 L291.53 260.80 L291.40 260.80" fill="none" stroke="#fcaa5c" stroke-width="1.70" stroke-linejoin="miter"/>
<path d="M291.40 92.00 L291.58 92.00 L291.58 94.40 L291.97 94.40 L291.97 96.80 L292.31 96.80 L292.31 99.20 L292.70 99.20 L292.70 101.60 L293.08 101.60 L293.08 104.00 L293.55 104.00 L293.55 106.40 L293.80 106.40 L293.80 108.80 L294.42 108.80 L294.42 111.20 L294.67 111.20 L294.67 113.60 L295.13 113.60 L295.13 116.00 L295.47 116.00 L295.47 118.40 L296.01 118.40 L296.01 120.80 L296.06 120.80 L296.06 123.20 L296.61 123.20 L296.61 125.60 L297.14 125.60 L297.14 128.00 L298.17 128.00 L298.17 130.40 L298.70 130.40 L298.70 132.80 L299.67 132.80 L299.67 135.20 L300.54 135.20 L300.54 137.60 L302.51 137.60 L302.51 140.00 L303.99 140.00 L303.99 142.40 L304.43 142.40 L304.43 144.80 L305.93 144.80 L305.93 147.20 L306.75 147.20 L306.75 149.60 L307.52 149.60 L307.52 152.00 L308.54 152.00 L308.54 154.40 L308.69 154.40 L308.69 156.80 L309.01 156.80 L309.01 159.20 L308.84 159.20 L308.84 161.60 L309.19 161.60 L309.19 164.00 L309.58 164.00 L309.58 166.40 L308.98 166.40 L308.98 168.80 L308.93 168.80 L308.93 171.20 L308.67 171.20 L308.67 173.60 L308.45 173.60 L308.45 176.00 L308.36 176.00 L308.36 178.40 L308.42 178.40 L308.42 180.80 L307.92 180.80 L307.92 183.20 L308.26 183.20 L308.26 185.60 L308.61 185.60 L308.61 188.00 L308.19 188.00 L308.19 190.40 L307.14 190.40 L307.14 192.80 L305.89 192.80 L305.89 195.20 L304.90 195.20 L304.90 197.60 L304.37 197.60 L304.37 200.00 L302.58 200.00 L302.58 202.40 L301.08 202.40 L301.08 204.80 L299.97 204.80 L299.97 207.20 L299.12 207.20 L299.12 209.60 L297.71 209.60 L297.71 212.00 L296.78 212.00 L296.78 214.40 L296.12 214.40 L296.12 216.80 L295.44 216.80 L295.44 219.20 L294.76 219.20 L294.76 221.60 L294.19 221.60 L294.19 224.00 L293.78 224.00 L293.78 226.40 L293.59 226.40 L293.59 228.80 L293.37 228.80 L293.37 231.20 L293.14 231.20 L293.14 233.60 L292.90 233.60 L292.90 236.00 L292.68 236.00 L292.68 238.40 L292.42 238.40 L292.42 240.80 L292.29 240.80 L292.29 243.20 L292.11 243.20 L292.11 245.60 L291.94 245.60 L291.94 248.00 L291.79 248.00 L291.79 250.40 L291.63 250.40 L291.63 252.80 L291.40 252.80" fill="none" stroke="#a6d8ec" stroke-width="1.70" stroke-linejoin="miter"/>
<path d="M291.40 77.00 L291.40 77.00 L291.40 79.40 L291.40 79.40 L291.40 81.80 L291.40 81.80 L291.40 84.20 L291.40 84.20 L291.40 86.60 L291.40 86.60 L291.40 89.00 L291.40 89.00 L291.40 91.40 L291.40 91.40 L291.40 93.80 L291.40 93.80 L291.40 96.20 L291.55 96.20 L291.55 98.60 L291.82 98.60 L291.82 101.00 L292.07 101.00 L292.07 103.40 L292.32 103.40 L292.32 105.80 L292.53 105.80 L292.53 108.20 L292.83 108.20 L292.83 110.60 L293.01 110.60 L293.01 113.00 L293.18 113.00 L293.18 115.40 L293.32 115.40 L293.32 117.80 L293.50 117.80 L293.50 120.20 L293.64 120.20 L293.64 122.60 L293.76 122.60 L293.76 125.00 L294.07 125.00 L294.07 127.40 L294.31 127.40 L294.31 129.80 L294.61 129.80 L294.61 132.20 L294.74 132.20 L294.74 134.60 L294.95 134.60 L294.95 137.00 L295.18 137.00 L295.18 139.40 L295.58 139.40 L295.58 141.80 L297.07 141.80 L297.07 144.20 L298.06 144.20 L298.06 146.60 L299.27 146.60 L299.27 149.00 L300.67 149.00 L300.67 151.40 L302.29 151.40 L302.29 153.80 L303.83 153.80 L303.83 156.20 L305.28 156.20 L305.28 158.60 L307.15 158.60 L307.15 161.00 L309.40 161.00 L309.40 163.40 L311.02 163.40 L311.02 165.80 L312.67 165.80 L312.67 168.20 L314.81 168.20 L314.81 170.60 L316.59 170.60 L316.59 173.00 L318.34 173.00 L318.34 175.40 L317.74 175.40 L317.74 177.80 L318.98 177.80 L318.98 180.20 L318.20 180.20 L318.20 182.60 L316.67 182.60 L316.67 185.00 L316.79 185.00 L316.79 187.40 L315.52 187.40 L315.52 189.80 L314.61 189.80 L314.61 192.20 L312.13 192.20 L312.13 194.60 L308.66 194.60 L308.66 197.00 L306.31 197.00 L306.31 199.40 L303.83 199.40 L303.83 201.80 L301.63 201.80 L301.63 204.20 L300.11 204.20 L300.11 206.60 L299.00 206.60 L299.00 209.00 L297.86 209.00 L297.86 211.40 L296.88 211.40 L296.88 213.80 L296.03 213.80 L296.03 216.20 L295.60 216.20 L295.60 218.60 L295.07 218.60 L295.07 221.00 L294.42 221.00 L294.42 223.40 L293.90 223.40 L293.90 225.80 L293.67 225.80 L293.67 228.20 L293.45 228.20 L293.45 230.60 L293.13 230.60 L293.13 233.00 L292.97 233.00 L292.97 235.40 L292.67 235.40 L292.67 237.80 L292.48 237.80 L292.48 240.20 L292.30 240.20 L292.30 242.60 L292.24 242.60 L292.24 245.00 L292.14 245.00 L292.14 247.40 L292.01 247.40 L292.01 249.80 L291.92 249.80 L291.92 252.20 L291.79 252.20 L291.79 254.60 L291.68 254.60 L291.68 257.00 L291.57 257.00 L291.57 259.40 L291.46 259.40 L291.46 261.80 L291.40 261.80" fill="none" stroke="#2575b7" stroke-width="1.70" stroke-linejoin="miter"/>
</g>
<path d="M46.10 294.50h-1.5M46.10 284.25h-1.5M46.10 274.00h-2.6M46.10 263.75h-1.5M46.10 253.50h-1.5M46.10 243.25h-1.5M46.10 233.00h-2.6M46.10 222.75h-1.5M46.10 212.50h-1.5M46.10 202.25h-1.5M46.10 192.00h-2.6M46.10 181.75h-1.5M46.10 171.50h-1.5M46.10 161.25h-1.5M46.10 151.00h-2.6M46.10 140.75h-1.5M46.10 130.50h-1.5M46.10 120.25h-1.5M46.10 110.00h-2.6M46.10 99.75h-1.5M46.10 89.50h-1.5M46.10 79.25h-1.5M46.10 69.00h-2.6M48.00 300.50v1.5M58.12 300.50v1.5M68.25 300.50v1.5M78.38 300.50v1.5M88.50 300.50v2.6M98.62 300.50v1.5M108.75 300.50v1.5M118.88 300.50v1.5M129.00 300.50v1.5M139.12 300.50v2.6M149.25 300.50v1.5M159.38 300.50v1.5M169.50 300.50v1.5M179.62 300.50v1.5M189.75 300.50v2.6M199.88 300.50v1.5M210.00 300.50v1.5M220.12 300.50v1.5M230.25 300.50v1.5M240.38 300.50v2.6M250.50 300.50v1.5M260.62 300.50v1.5M270.75 300.50v1.5M280.88 300.50v1.5M291.00 300.50v2.6M46.10 12.00h-1.5M46.10 24.00h-1.5M46.10 36.00h-1.5M46.10 48.00h-1.5M323.50 300.50v2.0M349.00 300.50v2.0M298.00 300.50v1.3M310.80 300.50v1.3M336.20 300.50v1.3" stroke="#8c8c8c" stroke-width="0.7" fill="none"/>
<text class="t" transform="translate(42.00,277.75) scale(1.125,1)" text-anchor="end" font-size="10">20</text>
<text class="t" transform="translate(42.00,236.75) scale(1.125,1)" text-anchor="end" font-size="10">40</text>
<text class="t" transform="translate(42.00,195.75) scale(1.125,1)" text-anchor="end" font-size="10">60</text>
<text class="t" transform="translate(42.00,154.75) scale(1.125,1)" text-anchor="end" font-size="10">80</text>
<text class="t" transform="translate(42.00,113.75) scale(1.125,1)" text-anchor="end" font-size="10">100</text>
<text class="t" transform="translate(42.00,72.75) scale(1.125,1)" text-anchor="end" font-size="10">120</text>
<text class="t" transform="translate(88.50,313.00) scale(1.125,1)" text-anchor="middle" font-size="10">100</text>
<text class="t" transform="translate(139.12,313.00) scale(1.125,1)" text-anchor="middle" font-size="10">150</text>
<text class="t" transform="translate(189.75,313.00) scale(1.125,1)" text-anchor="middle" font-size="10">200</text>
<text class="t" transform="translate(240.38,313.00) scale(1.125,1)" text-anchor="middle" font-size="10">250</text>
<text class="t" transform="translate(291.00,313.00) scale(1.125,1)" text-anchor="middle" font-size="10">300</text>
<text class="m" transform="translate(168.80,328.00) scale(1.050,1)" text-anchor="middle" font-size="13.5"><tspan font-style="italic" font-size="15.5">m</tspan><tspan font-size="8.4" dy="-6">src</tspan><tspan font-size="9" dy="9" dx="-12">1</tspan><tspan dy="-3" dx="7.5">[</tspan><tspan font-style="italic">M</tspan><tspan font-size="9" dy="2.8">⊙</tspan><tspan dy="-2.8">]</tspan></text>
<text class="m" transform="translate(12.00,181.50) rotate(-90) scale(1.050,1)" text-anchor="middle" font-size="13.5"><tspan font-style="italic" font-size="15.5">m</tspan><tspan font-size="8.4" dy="-6">src</tspan><tspan font-size="9" dy="9" dx="-12">2</tspan><tspan dy="-3" dx="7.5">[</tspan><tspan font-style="italic">M</tspan><tspan font-size="9" dy="2.8">⊙</tspan><tspan dy="-2.8">]</tspan></text>
<rect x="125" y="67.5" width="160" height="69" rx="1.5" fill="#fff" fill-opacity="0.85" stroke="#8f8f8f" stroke-width="0.9"/>
<rect x="129.6" y="73.10" width="12.4" height="7.6" fill="none" stroke="#d6121a" stroke-width="1.7"/>
<text class="t" transform="translate(150.20,80.70) scale(1.125,1)" text-anchor="start" font-size="10">XPHM Nitz&amp;Capano</text>
<rect x="129.6" y="89.35" width="12.4" height="7.6" fill="none" stroke="#fcaa5c" stroke-width="1.7"/>
<text class="t" transform="translate(150.20,96.95) scale(1.125,1)" text-anchor="start" font-size="10">IMRPhenomPv3HM LVC</text>
<rect x="129.6" y="105.60" width="12.4" height="7.6" fill="none" stroke="#a6d8ec" stroke-width="1.7"/>
<text class="t" transform="translate(150.20,113.20) scale(1.125,1)" text-anchor="start" font-size="10">SEOBNRv4PHM LVC</text>
<rect x="129.6" y="121.85" width="12.4" height="7.6" fill="none" stroke="#2575b7" stroke-width="1.7"/>
<text class="t" transform="translate(150.20,129.45) scale(1.125,1)" text-anchor="start" font-size="10">NRSur7dq4 LVC</text>
</g>
<g id="right">
<clipPath id="cr"><rect x="412.20" y="66.40" width="243.00" height="237.00"/></clipPath>
<clipPath id="crt"><rect x="412.20" y="8.00" width="243.00" height="58.50"/></clipPath>
<clipPath id="crr"><rect x="654.40" y="66.40" width="62.00" height="237.00"/></clipPath>
<g clip-path="url(#cr)">
<rect x="485.10" y="156.46" width="4.80" height="4.68" fill="#3a80b8" fill-opacity="0.012"/>
<rect x="485.10" y="161.20" width="4.80" height="4.68" fill="#3a80b8" fill-opacity="0.013"/>
<rect x="485.10" y="165.94" width="4.80" height="4.68" fill="#3a80b8" fill-opacity="0.013"/>
<rect x="485.10" y="170.68" width="4.80" height="4.68" fill="#3a80b8" fill-opacity="0.012"/>
<rect x="489.96" y="146.98" width="4.80" height="4.68" fill="#3a80b8" fill-opacity="0.013"/>
<rect x="489.96" y="151.72" width="4.80" height="4.68" fill="#3a80b8" fill-opacity="0.014"/>
<rect x="489.96" y="156.46" width="4.80" height="4.68" fill="#3a80b8" fill-opacity="0.015"/>
<rect x="489.96" y="161.20" width="4.80" height="4.68" fill="#3a80b8" fill-opacity="0.016"/>
<rect x="489.96" y="165.94" width="4.80" height="4.68" fill="#3a80b8" fill-opacity="0.016"/>
<rect x="489.96" y="170.68" width="4.80" height="4.68" fill="#3a80b8" fill-opacity="0.015"/>
<rect x="489.96" y="175.42" width="4.80" height="4.68" fill="#3a80b8" fill-opacity="0.014"/>
<rect x="489.96" y="180.16" width="4.80" height="4.68" fill="#3a80b8" fill-opacity="0.013"/>
<rect x="489.96" y="184.90" width="4.80" height="4.68" fill="#3a80b8" fill-opacity="0.012"/>
<rect x="494.82" y="142.24" width="4.80" height="4.68" fill="#3a80b8" fill-opacity="0.014"/>
<rect x="494.82" y="146.98" width="4.80" height="4.68" fill="#3a80b8" fill-opacity="0.016"/>
<rect x="494.82" y="151.72" width="4.80" height="4.68" fill="#3a80b8" fill-opacity="0.018"/>
<rect x="494.82" y="156.46" width="4.80" height="4.68" fill="#3a80b8" fill-opacity="0.019"/>
<rect x="494.82" y="161.20" width="4.80" height="4.68" fill="#3a80b8" fill-opacity="0.020"/>
<rect x="494.82" y="165.94" width="4.80" height="4.68" fill="#3a80b8" fill-opacity="0.020"/>
<rect x="494.82" y="170.68" width="4.80" height="4.68" fill="#3a80b8" fill-opacity="0.019"/>
<rect x="494.82" y="175.42" width="4.80" height="4.68" fill="#3a80b8" fill-opacity="0.018"/>
<rect x="494.82" y="180.16" width="4.80" height="4.68" fill="#3a80b8" fill-opacity="0.017"/>
<rect x="494.82" y="184.90" width="4.80" height="4.68" fill="#3a80b8" fill-opacity="0.015"/>
<rect x="494.82" y="189.64" width="4.80" height="4.68" fill="#3a80b8" fill-opacity="0.013"/>
<rect x="499.68" y="137.50" width="4.80" height="4.68" fill="#3a80b8" fill-opacity="0.014"/>
<rect x="499.68" y="142.24" width="4.80" height="4.68" fill="#3a80b8" fill-opacity="0.017"/>
<rect x="499.68" y="146.98" width="4.80" height="4.68" fill="#3a80b8" fill-opacity="0.020"/>
<rect x="499.68" y="151.72" width="4.80" height="4.68" fill="#3a80b8" fill-opacity="0.022"/>
<rect x="499.68" y="156.46" width="4.80" height="4.68" fill="#3a80b8" fill-opacity="0.024"/>
<rect x="499.68" y="161.20" width="4.80" height="4.68" fill="#3a80b8" fill-opacity="0.024"/>
<rect x="499.68" y="165.94" width="4.80" height="4.68" fill="#3a80b8" fill-opacity="0.024"/>
<rect x="499.68" y="170.68" width="4.80" height="4.68" fill="#3a80b8" fill-opacity="0.023"/>
<rect x="499.68" y="175.42" width="4.80" height="4.68" fill="#3a80b8" fill-opacity="0.022"/>
<rect x="499.68" y="180.16" width="4.80" height="4.68" fill="#3a80b8" fill-opacity="0.020"/>
<rect x="499.68" y="184.90" width="4.80" height="4.68" fill="#3a80b8" fill-opacity="0.018"/>
<rect x="499.68" y="189.64" width="4.80" height="4.68" fill="#3a80b8" fill-opacity="0.016"/>
<rect x="499.68" y="194.38" width="4.80" height="4.68" fill="#3a80b8" fill-opacity="0.014"/>
<rect x="504.54" y="132.76" width="4.80" height="4.68" fill="#3a80b8" fill-opacity="0.015"/>
<rect x="504.54" y="137.50" width="4.80" height="4.68" fill="#3a80b8" fill-opacity="0.018"/>
<rect x="504.54" y="142.24" width="4.80" height="4.68" fill="#3a80b8" fill-opacity="0.022"/>
<rect x="504.54" y="146.98" width="4.80" height="4.68" fill="#3a80b8" fill-opacity="0.025"/>
<rect x="504.54" y="151.72" width="4.80" height="4.68" fill="#3a80b8" fill-opacity="0.027"/>
<rect x="504.54" y="156.46" width="4.80" height="4.68" fill="#3a80b8" fill-opacity="0.029"/>
<rect x="504.54" y="161.20" width="4.80" height="4.68" fill="#3a80b8" fill-opacity="0.030"/>
<rect x="504.54" y="165.94" width="4.80" height="4.68" fill="#3a80b8" fill-opacity="0.029"/>
<rect x="504.54" y="170.68" width="4.80" height="4.68" fill="#3a80b8" fill-opacity="0.028"/>
<rect x="504.54" y="175.42" width="4.80" height="4.68" fill="#3a80b8" fill-opacity="0.027"/>
<rect x="504.54" y="180.16" width="4.80" height="4.68" fill="#3a80b8" fill-opacity="0.025"/>
<rect x="504.54" y="184.90" width="4.80" height="4.68" fill="#3a80b8" fill-opacity="0.022"/>
<rect x="504.54" y="189.64" width="4.80" height="4.68" fill="#3a80b8" fill-opacity="0.020"/>
<rect x="504.54" y="194.38" width="4.80" height="4.68" fill="#3a80b8" fill-opacity="0.017"/>
<rect x="504.54" y="199.12" width="4.80" height="4.68" fill="#3a80b8" fill-opacity="0.014"/>
<rect x="509.40" y="128.02" width="4.80" height="4.68" fill="#3a80b8" fill-opacity="0.014"/>
<rect x="509.40" y="132.76" width="4.80" height="4.68" fill="#3a80b8" fill-opacity="0.019"/>
<rect x="509.40" y="137.50" width="4.80" height="4.68" fill="#3a80b8" fill-opacity="0.024"/>
<rect x="509.40" y="142.24" width="4.80" height="4.68" fill="#3a80b8" fill-opacity="0.028"/>
<rect x="509.40" y="146.98" width="4.80" height="4.68" fill="#3a80b8" fill-opacity="0.032"/>
<rect x="509.40" y="151.72" width="4.80" height="4.68" fill="#3a80b8" fill-opacity="0.034"/>
<rect x="509.40" y="156.46" width="4.80" height="4.68" fill="#3a80b8" fill-opacity="0.036"/>
<rect x="509.40" y="161.20" width="4.80" height="4.68" fill="#3a80b8" fill-opacity="0.036"/>
<rect x="509.40" y="165.94" width="4.80" height="4.68" fill="#3a80b8" fill-opacity="0.036"/>
<rect x="509.40" y="170.68" width="4.80" height="4.68" fill="#3a80b8" fill-opacity="0.034"/>
<rect x="509.40" y="175.42" width="4.80" height="4.68" fill="#3a80b8" fill-opacity="0.032"/>
<rect x="509.40" y="180.16" width="4.80" height="4.68" fill="#3a80b8" fill-opacity="0.030"/>
<rect x="509.40" y="184.90" width="4.80" height="4.68" fill="#3a80b8" fill-opacity="0.027"/>
<rect x="509.40" y="189.64" width="4.80" height="4.68" fill="#3a80b8" fill-opacity="0.023"/>
<rect x="509.40" y="194.38" width="4.80" height="4.68" fill="#3a80b8" fill-opacity="0.020"/>
<rect x="509.40" y="199.12" width="4.80" height="4.68" fill="#3a80b8" fill-opacity="0.017"/>
<rect x="509.40" y="203.86" width="4.80" height="4.68" fill="#3a80b8" fill-opacity="0.014"/>
<rect x="514.26" y="123.28" width="4.80" height="4.68" fill="#3a80b8" fill-opacity="0.012"/>
<rect x="514.26" y="128.02" width="4.80" height="4.68" fill="#3a80b8" fill-opacity="0.018"/>
<rect x="514.26" y="132.76" width="4.80" height="4.68" fill="#3a80b8" fill-opacity="0.025"/>
<rect x="514.26" y="137.50" width="4.80" height="4.68" fill="#3a80b8" fill-opacity="0.031"/>
<rect x="514.26" y="142.24" width="4.80" height="4.68" fill="#3a80b8" fill-opacity="0.037"/>
<rect x="514.26" y="146.98" width="4.80" height="4.68" fill="#3a80b8" fill-opacity="0.041"/>
<rect x="514.26" y="151.72" width="4.80" height="4.68" fill="#3a80b8" fill-opacity="0.043"/>
<rect x="514.26" y="156.46" width="4.80" height="4.68" fill="#3a80b8" fill-opacity="0.044"/>
<rect x="514.26" y="161.20" width="4.80" height="4.68" fill="#3a80b8" fill-opacity="0.044"/>
<rect x="514.26" y="165.94" width="4.80" height="4.68" fill="#3a80b8" fill-opacity="0.043"/>
<rect x="514.26" y="170.68" width="4.80" height="4.68" fill="#3a80b8" fill-opacity="0.041"/>
<rect x="514.26" y="175.42" width="4.80" height="4.68" fill="#3a80b8" fill-opacity="0.039"/>
<rect x="514.26" y="180.16" width="4.80" height="4.68" fill="#3a80b8" fill-opacity="0.036"/>
<rect x="514.26" y="184.90" width="4.80" height="4.68" fill="#3a80b8" fill-opacity="0.032"/>
<rect x="514.26" y="189.64" width="4.80" height="4.68" fill="#3a80b8" fill-opacity="0.028"/>
<rect x="514.26" y="194.38" width="4.80" height="4.68" fill="#3a80b8" fill-opacity="0.024"/>
<rect x="514.26" y="199.12" width="4.80" height="4.68" fill="#3a80b8" fill-opacity="0.020"/>
<rect x="514.26" y="203.86" width="4.80" height="4.68" fill="#3a80b8" fill-opacity="0.016"/>
<rect x="514.26" y="208.60" width="4.80" height="4.68" fill="#3a80b8" fill-opacity="0.013"/>
<rect x="519.12" y="123.28" width="4.80" height="4.68" fill="#3a80b8" fill-opacity="0.015"/>
<rect x="519.12" y="128.02" width="4.80" height="4.68" fill="#3a80b8" fill-opacity="0.023"/>
<rect x="519.12" y="132.76" width="4.80" height="4.68" fill="#3a80b8" fill-opacity="0.033"/>
<rect x="519.12" y="137.50" width="4.80" height="4.68" fill="#3a80b8" fill-opacity="0.042"/>
<rect x="519.12" y="142.24" width="4.80" height="4.68" fill="#3a80b8" fill-opacity="0.049"/>
<rect x="519.12" y="146.98" width="4.80" height="4.68" fill="#3a80b8" fill-opacity="0.053"/>
<rect x="519.12" y="151.72" width="4.80" height="4.68" fill="#3a80b8" fill-opacity="0.055"/>
<rect x="519.12" y="156.46" width="4.80" height="4.68" fill="#3a80b8" fill-opacity="0.055"/>
<rect x="519.12" y="161.20" width="4.80" height="4.68" fill="#3a80b8" fill-opacity="0.054"/>
<rect x="519.12" y="165.94" width="4.80" height="4.68" fill="#3a80b8" fill-opacity="0.052"/>
<rect x="519.12" y="170.68" width="4.80" height="4.68" fill="#3a80b8" fill-opacity="0.049"/>
<rect x="519.12" y="175.42" width="4.80" height="4.68" fill="#3a80b8" fill-opacity="0.046"/>
<rect x="519.12" y="180.16" width="4.80" height="4.68" fill="#3a80b8" fill-opacity="0.042"/>
<rect x="519.12" y="184.90" width="4.80" height="4.68" fill="#3a80b8" fill-opacity="0.038"/>
<rect x="519.12" y="189.64" width="4.80" height="4.68" fill="#3a80b8" fill-opacity="0.033"/>
<rect x="519.12" y="194.38" width="4.80" height="4.68" fill="#3a80b8" fill-opacity="0.028"/>
<rect x="519.12" y="199.12" width="4.80" height="4.68" fill="#3a80b8" fill-opacity="0.024"/>
<rect x="519.12" y="203.86" width="4.80" height="4.68" fill="#3a80b8" fill-opacity="0.019"/>
<rect x="519.12" y="208.60" width="4.80" height="4.68" fill="#3a80b8" fill-opacity="0.015"/>
<rect x="523.98" y="123.28" width="4.80" height="4.68" fill="#3a80b8" fill-opacity="0.019"/>
<rect x="523.98" y="128.02" width="4.80" height="4.68" fill="#3a80b8" fill-opacity="0.030"/>
<rect x="523.98" y="132.76" width="4.80" height="4.68" fill="#3a80b8" fill-opacity="0.043"/>
<rect x="523.98" y="137.50" width="4.80" height="4.68" fill="#3a80b8" fill-opacity="0.056"/>
<rect x="523.98" y="142.24" width="4.80" height="4.68" fill="#3a80b8" fill-opacity="0.065"/>
<rect x="523.98" y="146.98" width="4.80" height="4.68" fill="#3a80b8" fill-opacity="0.070"/>
<rect x="523.98" y="151.72" width="4.80" height="4.68" fill="#3a80b8" fill-opacity="0.071"/>
<rect x="523.98" y="156.46" width="4.80" height="4.68" fill="#3a80b8" fill-opacity="0.069"/>
<rect x="523.98" y="161.20" width="4.80" height="4.68" fill="#3a80b8" fill-opacity="0.066"/>
<rect x="523.98" y="165.94" width="4.80" height="4.68" fill="#3a80b8" fill-opacity="0.062"/>
<rect x="523.98" y="170.68" width="4.80" height="4.68" fill="#3a80b8" fill-opacity="0.058"/>
<rect x="523.98" y="175.42" width="4.80" height="4.68" fill="#3a80b8" fill-opacity="0.054"/>
<rect x="523.98" y="180.16" width="4.80" height="4.68" fill="#3a80b8" fill-opacity="0.049"/>
<rect x="523.98" y="184.90" width="4.80" height="4.68" fill="#3a80b8" fill-opacity="0.044"/>
<rect x="523.98" y="189.64" width="4.80" height="4.68" fill="#3a80b8" fill-opacity="0.039"/>
<rect x="523.98" y="194.38" width="4.80" height="4.68" fill="#3a80b8" fill-opacity="0.033"/>
<rect x="523.98" y="199.12" width="4.80" height="4.68" fill="#3a80b8" fill-opacity="0.028"/>
<rect x="523.98" y="203.86" width="4.80" height="4.68" fill="#3a80b8" fill-opacity="0.023"/>
<rect x="523.98" y="208.60" width="4.80" height="4.68" fill="#3a80b8" fill-opacity="0.018"/>
<rect x="523.98" y="213.34" width="4.80" height="4.68" fill="#3a80b8" fill-opacity="0.014"/>
<rect x="528.84" y="118.54" width="4.80" height="4.68" fill="#3a80b8" fill-opacity="0.013"/>
<rect x="528.84" y="123.28" width="4.80" height="4.68" fill="#3a80b8" fill-opacity="0.023"/>
<rect x="528.84" y="128.02" width="4.80" height="4.68" fill="#3a80b8" fill-opacity="0.037"/>
<rect x="528.84" y="132.76" width="4.80" height="4.68" fill="#3a80b8" fill-opacity="0.057"/>
<rect x="528.84" y="137.50" width="4.80" height="4.68" fill="#3a80b8" fill-opacity="0.076"/>
<rect x="528.84" y="142.24" width="4.80" height="4.68" fill="#3a80b8" fill-opacity="0.088"/>
<rect x="528.84" y="146.98" width="4.80" height="4.68" fill="#3a80b8" fill-opacity="0.094"/>
<rect x="528.84" y="151.72" width="4.80" height="4.68" fill="#3a80b8" fill-opacity="0.093"/>
<rect x="528.84" y="156.46" width="4.80" height="4.68" fill="#3a80b8" fill-opacity="0.088"/>
<rect x="528.84" y="161.20" width="4.80" height="4.68" fill="#3a80b8" fill-opacity="0.082"/>
<rect x="528.84" y="165.94" width="4.80" height="4.68" fill="#3a80b8" fill-opacity="0.075"/>
<rect x="528.84" y="170.68" width="4.80" height="4.68" fill="#3a80b8" fill-opacity="0.069"/>
<rect x="528.84" y="175.42" width="4.80" height="4.68" fill="#3a80b8" fill-opacity="0.063"/>
<rect x="528.84" y="180.16" width="4.80" height="4.68" fill="#3a80b8" fill-opacity="0.057"/>
<rect x="528.84" y="184.90" width="4.80" height="4.68" fill="#3a80b8" fill-opacity="0.051"/>
<rect x="528.84" y="189.64" width="4.80" height="4.68" fill="#3a80b8" fill-opacity="0.045"/>
<rect x="528.84" y="194.38" width="4.80" height="4.68" fill="#3a80b8" fill-opacity="0.039"/>
<rect x="528.84" y="199.12" width="4.80" height="4.68" fill="#3a80b8" fill-opacity="0.032"/>
<rect x="528.84" y="203.86" width="4.80" height="4.68" fill="#3a80b8" fill-opacity="0.026"/>
<rect x="528.84" y="208.60" width="4.80" height="4.68" fill="#3a80b8" fill-opacity="0.021"/>
<rect x="528.84" y="213.34" width="4.80" height="4.68" fill="#3a80b8" fill-opacity="0.016"/>
<rect x="528.84" y="218.08" width="4.80" height="4.68" fill="#3a80b8" fill-opacity="0.012"/>
<rect x="533.70" y="118.54" width="4.80" height="4.68" fill="#3a80b8" fill-opacity="0.016"/>
<rect x="533.70" y="123.28" width="4.80" height="4.68" fill="#3a80b8" fill-opacity="0.027"/>
<rect x="533.70" y="128.02" width="4.80" height="4.68" fill="#3a80b8" fill-opacity="0.047"/>
<rect x="533.70" y="132.76" width="4.80" height="4.68" fill="#3a80b8" fill-opacity="0.073"/>
<rect x="533.70" y="137.50" width="4.80" height="4.68" fill="#3a80b8" fill-opacity="0.101"/>
<rect x="533.70" y="142.24" width="4.80" height="4.68" fill="#3a80b8" fill-opacity="0.120"/>
<rect x="533.70" y="146.98" width="4.80" height="4.68" fill="#3a80b8" fill-opacity="0.126"/>
<rect x="533.70" y="151.72" width="4.80" height="4.68" fill="#3a80b8" fill-opacity="0.124"/>
<rect x="533.70" y="156.46" width="4.80" height="4.68" fill="#3a80b8" fill-opacity="0.115"/>
<rect x="533.70" y="161.20" width="4.80" height="4.68" fill="#3a80b8" fill-opacity="0.103"/>
<rect x="533.70" y="165.94" width="4.80" height="4.68" fill="#3a80b8" fill-opacity="0.091"/>
<rect x="533.70" y="170.68" width="4.80" height="4.68" fill="#3a80b8" fill-opacity="0.082"/>
<rect x="533.70" y="175.42" width="4.80" height="4.68" fill="#3a80b8" fill-opacity="0.074"/>
<rect x="533.70" y="180.16" width="4.80" height="4.68" fill="#3a80b8" fill-opacity="0.066"/>
<rect x="533.70" y="184.90" width="4.80" height="4.68" fill="#3a80b8" fill-opacity="0.059"/>
<rect x="533.70" y="189.64" width="4.80" height="4.68" fill="#3a80b8" fill-opacity="0.052"/>
<rect x="533.70" y="194.38" width="4.80" height="4.68" fill="#3a80b8" fill-opacity="0.044"/>
<rect x="533.70" y="199.12" width="4.80" height="4.68" fill="#3a80b8" fill-opacity="0.037"/>
<rect x="533.70" y="203.86" width="4.80" height="4.68" fill="#3a80b8" fill-opacity="0.030"/>
<rect x="533.70" y="208.60" width="4.80" height="4.68" fill="#3a80b8" fill-opacity="0.024"/>
<rect x="533.70" y="213.34" width="4.80" height="4.68" fill="#3a80b8" fill-opacity="0.019"/>
<rect x="533.70" y="218.08" width="4.80" height="4.68" fill="#3a80b8" fill-opacity="0.014"/>
<rect x="538.56" y="118.54" width="4.80" height="4.68" fill="#3a80b8" fill-opacity="0.018"/>
<rect x="538.56" y="123.28" width="4.80" height="4.68" fill="#3a80b8" fill-opacity="0.032"/>
<rect x="538.56" y="128.02" width="4.80" height="4.68" fill="#3a80b8" fill-opacity="0.057"/>
<rect x="538.56" y="132.76" width="4.80" height="4.68" fill="#3a80b8" fill-opacity="0.092"/>
<rect x="538.56" y="137.50" width="4.80" height="4.68" fill="#3a80b8" fill-opacity="0.132"/>
<rect x="538.56" y="142.24" width="4.80" height="4.68" fill="#3a80b8" fill-opacity="0.161"/>
<rect x="538.56" y="146.98" width="4.80" height="4.68" fill="#3a80b8" fill-opacity="0.170"/>
<rect x="538.56" y="151.72" width="4.80" height="4.68" fill="#3a80b8" fill-opacity="0.165"/>
<rect x="538.56" y="156.46" width="4.80" height="4.68" fill="#3a80b8" fill-opacity="0.150"/>
<rect x="538.56" y="161.20" width="4.80" height="4.68" fill="#3a80b8" fill-opacity="0.131"/>
<rect x="538.56" y="165.94" width="4.80" height="4.68" fill="#3a80b8" fill-opacity="0.112"/>
<rect x="538.56" y="170.68" width="4.80" height="4.68" fill="#3a80b8" fill-opacity="0.098"/>
<rect x="538.56" y="175.42" width="4.80" height="4.68" fill="#3a80b8" fill-opacity="0.086"/>
<rect x="538.56" y="180.16" width="4.80" height="4.68" fill="#3a80b8" fill-opacity="0.076"/>
<rect x="538.56" y="184.90" width="4.80" height="4.68" fill="#3a80b8" fill-opacity="0.068"/>
<rect x="538.56" y="189.64" width="4.80" height="4.68" fill="#3a80b8" fill-opacity="0.059"/>
<rect x="538.56" y="194.38" width="4.80" height="4.68" fill="#3a80b8" fill-opacity="0.050"/>
<rect x="538.56" y="199.12" width="4.80" height="4.68" fill="#3a80b8" fill-opacity="0.042"/>
<rect x="538.56" y="203.86" width="4.80" height="4.68" fill="#3a80b8" fill-opacity="0.034"/>
<rect x="538.56" y="208.60" width="4.80" height="4.68" fill="#3a80b8" fill-opacity="0.027"/>
<rect x="538.56" y="213.34" width="4.80" height="4.68" fill="#3a80b8" fill-opacity="0.021"/>
<rect x="538.56" y="218.08" width="4.80" height="4.68" fill="#3a80b8" fill-opacity="0.016"/>
<rect x="543.42" y="118.54" width="4.80" height="4.68" fill="#3a80b8" fill-opacity="0.020"/>
<rect x="543.42" y="123.28" width="4.80" height="4.68" fill="#3a80b8" fill-opacity="0.037"/>
<rect x="543.42" y="128.02" width="4.80" height="4.68" fill="#3a80b8" fill-opacity="0.068"/>
<rect x="543.42" y="132.76" width="4.80" height="4.68" fill="#3a80b8" fill-opacity="0.114"/>
<rect x="543.42" y="137.50" width="4.80" height="4.68" fill="#3a80b8" fill-opacity="0.168"/>
<rect x="543.42" y="142.24" width="4.80" height="4.68" fill="#3a80b8" fill-opacity="0.211"/>
<rect x="543.42" y="146.98" width="4.80" height="4.68" fill="#3a80b8" fill-opacity="0.227"/>
<rect x="543.42" y="151.72" width="4.80" height="4.68" fill="#3a80b8" fill-opacity="0.219"/>
<rect x="543.42" y="156.46" width="4.80" height="4.68" fill="#3a80b8" fill-opacity="0.197"/>
<rect x="543.42" y="161.20" width="4.80" height="4.68" fill="#3a80b8" fill-opacity="0.168"/>
<rect x="543.42" y="165.94" width="4.80" height="4.68" fill="#3a80b8" fill-opacity="0.139"/>
<rect x="543.42" y="170.68" width="4.80" height="4.68" fill="#3a80b8" fill-opacity="0.117"/>
<rect x="543.42" y="175.42" width="4.80" height="4.68" fill="#3a80b8" fill-opacity="0.100"/>
<rect x="543.42" y="180.16" width="4.80" height="4.68" fill="#3a80b8" fill-opacity="0.088"/>
<rect x="543.42" y="184.90" width="4.80" height="4.68" fill="#3a80b8" fill-opacity="0.077"/>
<rect x="543.42" y="189.64" width="4.80" height="4.68" fill="#3a80b8" fill-opacity="0.067"/>
<rect x="543.42" y="194.38" width="4.80" height="4.68" fill="#3a80b8" fill-opacity="0.057"/>
<rect x="543.42" y="199.12" width="4.80" height="4.68" fill="#3a80b8" fill-opacity="0.047"/>
<rect x="543.42" y="203.86" width="4.80" height="4.68" fill="#3a80b8" fill-opacity="0.039"/>
<rect x="543.42" y="208.60" width="4.80" height="4.68" fill="#3a80b8" fill-opacity="0.031"/>
<rect x="543.42" y="213.34" width="4.80" height="4.68" fill="#3a80b8" fill-opacity="0.024"/>
<rect x="543.42" y="218.08" width="4.80" height="4.68" fill="#3a80b8" fill-opacity="0.018"/>
<rect x="543.42" y="222.82" width="4.80" height="4.68" fill="#3a80b8" fill-opacity="0.013"/>
<rect x="548.28" y="113.80" width="4.80" height="4.68" fill="#3a80b8" fill-opacity="0.013"/>
<rect x="548.28" y="118.54" width="4.80" height="4.68" fill="#3a80b8" fill-opacity="0.023"/>
<rect x="548.28" y="123.28" width="4.80" height="4.68" fill="#3a80b8" fill-opacity="0.042"/>
<rect x="548.28" y="128.02" width="4.80" height="4.68" fill="#3a80b8" fill-opacity="0.078"/>
<rect x="548.28" y="132.76" width="4.80" height="4.68" fill="#3a80b8" fill-opacity="0.136"/>
<rect x="548.28" y="137.50" width="4.80" height="4.68" fill="#3a80b8" fill-opacity="0.209"/>
<rect x="548.28" y="142.24" width="4.80" height="4.68" fill="#3a80b8" fill-opacity="0.271"/>
<rect x="548.28" y="146.98" width="4.80" height="4.68" fill="#3a80b8" fill-opacity="0.297"/>
<rect x="548.28" y="151.72" width="4.80" height="4.68" fill="#3a80b8" fill-opacity="0.288"/>
<rect x="548.28" y="156.46" width="4.80" height="4.68" fill="#3a80b8" fill-opacity="0.257"/>
<rect x="548.28" y="161.20" width="4.80" height="4.68" fill="#3a80b8" fill-opacity="0.215"/>
<rect x="548.28" y="165.94" width="4.80" height="4.68" fill="#3a80b8" fill-opacity="0.174"/>
<rect x="548.28" y="170.68" width="4.80" height="4.68" fill="#3a80b8" fill-opacity="0.141"/>
<rect x="548.28" y="175.42" width="4.80" height="4.68" fill="#3a80b8" fill-opacity="0.117"/>
<rect x="548.28" y="180.16" width="4.80" height="4.68" fill="#3a80b8" fill-opacity="0.100"/>
<rect x="548.28" y="184.90" width="4.80" height="4.68" fill="#3a80b8" fill-opacity="0.087"/>
<rect x="548.28" y="189.64" width="4.80" height="4.68" fill="#3a80b8" fill-opacity="0.075"/>
<rect x="548.28" y="194.38" width="4.80" height="4.68" fill="#3a80b8" fill-opacity="0.064"/>
<rect x="548.28" y="199.12" width="4.80" height="4.68" fill="#3a80b8" fill-opacity="0.053"/>
<rect x="548.28" y="203.86" width="4.80" height="4.68" fill="#3a80b8" fill-opacity="0.043"/>
<rect x="548.28" y="208.60" width="4.80" height="4.68" fill="#3a80b8" fill-opacity="0.034"/>
<rect x="548.28" y="213.34" width="4.80" height="4.68" fill="#3a80b8" fill-opacity="0.027"/>
<rect x="548.28" y="218.08" width="4.80" height="4.68" fill="#3a80b8" fill-opacity="0.020"/>
<rect x="548.28" y="222.82" width="4.80" height="4.68" fill="#3a80b8" fill-opacity="0.015"/>
<rect x="553.14" y="113.80" width="4.80" height="4.68" fill="#3a80b8" fill-opacity="0.014"/>
<rect x="553.14" y="118.54" width="4.80" height="4.68" fill="#3a80b8" fill-opacity="0.025"/>
<rect x="553.14" y="123.28" width="4.80" height="4.68" fill="#3a80b8" fill-opacity="0.046"/>
<rect x="553.14" y="128.02" width="4.80" height="4.68" fill="#3a80b8" fill-opacity="0.088"/>
<rect x="553.14" y="132.76" width="4.80" height="4.68" fill="#3a80b8" fill-opacity="0.158"/>
<rect x="553.14" y="137.50" width="4.80" height="4.68" fill="#3a80b8" fill-opacity="0.250"/>
<rect x="553.14" y="142.24" width="4.80" height="4.68" fill="#3a80b8" fill-opacity="0.336"/>
<rect x="553.14" y="146.98" width="4.80" height="4.68" fill="#3a80b8" fill-opacity="0.378"/>
<rect x="553.14" y="151.72" width="4.80" height="4.68" fill="#3a80b8" fill-opacity="0.371"/>
<rect x="553.14" y="156.46" width="4.80" height="4.68" fill="#3a80b8" fill-opacity="0.331"/>
<rect x="553.14" y="161.20" width="4.80" height="4.68" fill="#3a80b8" fill-opacity="0.274"/>
<rect x="553.14" y="165.94" width="4.80" height="4.68" fill="#3a80b8" fill-opacity="0.217"/>
<rect x="553.14" y="170.68" width="4.80" height="4.68" fill="#3a80b8" fill-opacity="0.170"/>
<rect x="553.14" y="175.42" width="4.80" height="4.68" fill="#3a80b8" fill-opacity="0.137"/>
<rect x="553.14" y="180.16" width="4.80" height="4.68" fill="#3a80b8" fill-opacity="0.114"/>
<rect x="553.14" y="184.90" width="4.80" height="4.68" fill="#3a80b8" fill-opacity="0.097"/>
<rect x="553.14" y="189.64" width="4.80" height="4.68" fill="#3a80b8" fill-opacity="0.083"/>
<rect x="553.14" y="194.38" width="4.80" height="4.68" fill="#3a80b8" fill-opacity="0.070"/>
<rect x="553.14" y="199.12" width="4.80" height="4.68" fill="#3a80b8" fill-opacity="0.059"/>
<rect x="553.14" y="203.86" width="4.80" height="4.68" fill="#3a80b8" fill-opacity="0.048"/>
<rect x="553.14" y="208.60" width="4.80" height="4.68" fill="#3a80b8" fill-opacity="0.038"/>
<rect x="553.14" y="213.34" width="4.80" height="4.68" fill="#3a80b8" fill-opacity="0.029"/>
<rect x="553.14" y="218.08" width="4.80" height="4.68" fill="#3a80b8" fill-opacity="0.022"/>
<rect x="553.14" y="222.82" width="4.80" height="4.68" fill="#3a80b8" fill-opacity="0.016"/>
<rect x="558.00" y="113.80" width="4.80" height="4.68" fill="#3a80b8" fill-opacity="0.015"/>
<rect x="558.00" y="118.54" width="4.80" height="4.68" fill="#3a80b8" fill-opacity="0.027"/>
<rect x="558.00" y="123.28" width="4.80" height="4.68" fill="#3a80b8" fill-opacity="0.049"/>
<rect x="558.00" y="128.02" width="4.80" height="4.68" fill="#3a80b8" fill-opacity="0.095"/>
<rect x="558.00" y="132.76" width="4.80" height="4.68" fill="#3a80b8" fill-opacity="0.176"/>
<rect x="558.00" y="137.50" width="4.80" height="4.68" fill="#3a80b8" fill-opacity="0.289"/>
<rect x="558.00" y="142.24" width="4.80" height="4.68" fill="#3a80b8" fill-opacity="0.402"/>
<rect x="558.00" y="146.98" width="4.80" height="4.68" fill="#3a80b8" fill-opacity="0.468"/>
<rect x="558.00" y="151.72" width="4.80" height="4.68" fill="#3a80b8" fill-opacity="0.465"/>
<rect x="558.00" y="156.46" width="4.80" height="4.68" fill="#3a80b8" fill-opacity="0.418"/>
<rect x="558.00" y="161.20" width="4.80" height="4.68" fill="#3a80b8" fill-opacity="0.345"/>
<rect x="558.00" y="165.94" width="4.80" height="4.68" fill="#3a80b8" fill-opacity="0.269"/>
<rect x="558.00" y="170.68" width="4.80" height="4.68" fill="#3a80b8" fill-opacity="0.206"/>
<rect x="558.00" y="175.42" width="4.80" height="4.68" fill="#3a80b8" fill-opacity="0.160"/>
<rect x="558.00" y="180.16" width="4.80" height="4.68" fill="#3a80b8" fill-opacity="0.129"/>
<rect x="558.00" y="184.90" width="4.80" height="4.68" fill="#3a80b8" fill-opacity="0.108"/>
<rect x="558.00" y="189.64" width="4.80" height="4.68" fill="#3a80b8" fill-opacity="0.092"/>
<rect x="558.00" y="194.38" width="4.80" height="4.68" fill="#3a80b8" fill-opacity="0.077"/>
<rect x="558.00" y="199.12" width="4.80" height="4.68" fill="#3a80b8" fill-opacity="0.064"/>
<rect x="558.00" y="203.86" width="4.80" height="4.68" fill="#3a80b8" fill-opacity="0.052"/>
<rect x="558.00" y="208.60" width="4.80" height="4.68" fill="#3a80b8" fill-opacity="0.042"/>
<rect x="558.00" y="213.34" width="4.80" height="4.68" fill="#3a80b8" fill-opacity="0.032"/>
<rect x="558.00" y="218.08" width="4.80" height="4.68" fill="#3a80b8" fill-opacity="0.024"/>
<rect x="558.00" y="222.82" width="4.80" height="4.68" fill="#3a80b8" fill-opacity="0.018"/>
<rect x="558.00" y="227.56" width="4.80" height="4.68" fill="#3a80b8" fill-opacity="0.013"/>
<rect x="562.86" y="113.80" width="4.80" height="4.68" fill="#3a80b8" fill-opacity="0.016"/>
<rect x="562.86" y="118.54" width="4.80" height="4.68" fill="#3a80b8" fill-opacity="0.028"/>
<rect x="562.86" y="123.28" width="4.80" height="4.68" fill="#3a80b8" fill-opacity="0.052"/>
<rect x="562.86" y="128.02" width="4.80" height="4.68" fill="#3a80b8" fill-opacity="0.100"/>
<rect x="562.86" y="132.76" width="4.80" height="4.68" fill="#3a80b8" fill-opacity="0.190"/>
<rect x="562.86" y="137.50" width="4.80" height="4.68" fill="#3a80b8" fill-opacity="0.321"/>
<rect x="562.86" y="142.24" width="4.80" height="4.68" fill="#3a80b8" fill-opacity="0.463"/>
<rect x="562.86" y="146.98" width="4.80" height="4.68" fill="#3a80b8" fill-opacity="0.557"/>
<rect x="562.86" y="151.72" width="4.80" height="4.68" fill="#3a80b8" fill-opacity="0.565"/>
<rect x="562.86" y="156.46" width="4.80" height="4.68" fill="#3a80b8" fill-opacity="0.514"/>
<rect x="562.86" y="161.20" width="4.80" height="4.68" fill="#3a80b8" fill-opacity="0.426"/>
<rect x="562.86" y="165.94" width="4.80" height="4.68" fill="#3a80b8" fill-opacity="0.329"/>
<rect x="562.86" y="170.68" width="4.80" height="4.68" fill="#3a80b8" fill-opacity="0.247"/>
<rect x="562.86" y="175.42" width="4.80" height="4.68" fill="#3a80b8" fill-opacity="0.187"/>
<rect x="562.86" y="180.16" width="4.80" height="4.68" fill="#3a80b8" fill-opacity="0.147"/>
<rect x="562.86" y="184.90" width="4.80" height="4.68" fill="#3a80b8" fill-opacity="0.120"/>
<rect x="562.86" y="189.64" width="4.80" height="4.68" fill="#3a80b8" fill-opacity="0.100"/>
<rect x="562.86" y="194.38" width="4.80" height="4.68" fill="#3a80b8" fill-opacity="0.084"/>
<rect x="562.86" y="199.12" width="4.80" height="4.68" fill="#3a80b8" fill-opacity="0.070"/>
<rect x="562.86" y="203.86" width="4.80" height="4.68" fill="#3a80b8" fill-opacity="0.057"/>
<rect x="562.86" y="208.60" width="4.80" height="4.68" fill="#3a80b8" fill-opacity="0.045"/>
<rect x="562.86" y="213.34" width="4.80" height="4.68" fill="#3a80b8" fill-opacity="0.035"/>
<rect x="562.86" y="218.08" width="4.80" height="4.68" fill="#3a80b8" fill-opacity="0.026"/>
<rect x="562.86" y="222.82" width="4.80" height="4.68" fill="#3a80b8" fill-opacity="0.019"/>
<rect x="562.86" y="227.56" width="4.80" height="4.68" fill="#3a80b8" fill-opacity="0.014"/>
<rect x="567.72" y="113.80" width="4.80" height="4.68" fill="#3a80b8" fill-opacity="0.017"/>
<rect x="567.72" y="118.54" width="4.80" height="4.68" fill="#3a80b8" fill-opacity="0.029"/>
<rect x="567.72" y="123.28" width="4.80" height="4.68" fill="#3a80b8" fill-opacity="0.053"/>
<rect x="567.72" y="128.02" width="4.80" height="4.68" fill="#3a80b8" fill-opacity="0.103"/>
<rect x="567.72" y="132.76" width="4.80" height="4.68" fill="#3a80b8" fill-opacity="0.197"/>
<rect x="567.72" y="137.50" width="4.80" height="4.68" fill="#3a80b8" fill-opacity="0.343"/>
<rect x="567.72" y="142.24" width="4.80" height="4.68" fill="#3a80b8" fill-opacity="0.512"/>
<rect x="567.72" y="146.98" width="4.80" height="4.68" fill="#3a80b8" fill-opacity="0.638"/>
<rect x="567.72" y="151.72" width="4.80" height="4.68" fill="#3a80b8" fill-opacity="0.664"/>
<rect x="567.72" y="156.46" width="4.80" height="4.68" fill="#3a80b8" fill-opacity="0.612"/>
<rect x="567.72" y="161.20" width="4.80" height="4.68" fill="#3a80b8" fill-opacity="0.512"/>
<rect x="567.72" y="165.94" width="4.80" height="4.68" fill="#3a80b8" fill-opacity="0.396"/>
<rect x="567.72" y="170.68" width="4.80" height="4.68" fill="#3a80b8" fill-opacity="0.293"/>
<rect x="567.72" y="175.42" width="4.80" height="4.68" fill="#3a80b8" fill-opacity="0.217"/>
<rect x="567.72" y="180.16" width="4.80" height="4.68" fill="#3a80b8" fill-opacity="0.165"/>
<rect x="567.72" y="184.90" width="4.80" height="4.68" fill="#3a80b8" fill-opacity="0.132"/>
<rect x="567.72" y="189.64" width="4.80" height="4.68" fill="#3a80b8" fill-opacity="0.109"/>
<rect x="567.72" y="194.38" width="4.80" height="4.68" fill="#3a80b8" fill-opacity="0.091"/>
<rect x="567.72" y="199.12" width="4.80" height="4.68" fill="#3a80b8" fill-opacity="0.075"/>
<rect x="567.72" y="203.86" width="4.80" height="4.68" fill="#3a80b8" fill-opacity="0.061"/>
<rect x="567.72" y="208.60" width="4.80" height="4.68" fill="#3a80b8" fill-opacity="0.049"/>
<rect x="567.72" y="213.34" width="4.80" height="4.68" fill="#3a80b8" fill-opacity="0.038"/>
<rect x="567.72" y="218.08" width="4.80" height="4.68" fill="#3a80b8" fill-opacity="0.028"/>
<rect x="567.72" y="222.82" width="4.80" height="4.68" fill="#3a80b8" fill-opacity="0.021"/>
<rect x="567.72" y="227.56" width="4.80" height="4.68" fill="#3a80b8" fill-opacity="0.015"/>
<rect x="572.58" y="113.80" width="4.80" height="4.68" fill="#3a80b8" fill-opacity="0.018"/>
<rect x="572.58" y="118.54" width="4.80" height="4.68" fill="#3a80b8" fill-opacity="0.030"/>
<rect x="572.58" y="123.28" width="4.80" height="4.68" fill="#3a80b8" fill-opacity="0.054"/>
<rect x="572.58" y="128.02" width="4.80" height="4.68" fill="#3a80b8" fill-opacity="0.102"/>
<rect x="572.58" y="132.76" width="4.80" height="4.68" fill="#3a80b8" fill-opacity="0.198"/>
<rect x="572.58" y="137.50" width="4.80" height="4.68" fill="#3a80b8" fill-opacity="0.352"/>
<rect x="572.58" y="142.24" width="4.80" height="4.68" fill="#3a80b8" fill-opacity="0.543"/>
<rect x="572.58" y="146.98" width="4.80" height="4.68" fill="#3a80b8" fill-opacity="0.701"/>
<rect x="572.58" y="151.72" width="4.80" height="4.68" fill="#3a80b8" fill-opacity="0.751"/>
<rect x="572.58" y="156.46" width="4.80" height="4.68" fill="#3a80b8" fill-opacity="0.705"/>
<rect x="572.58" y="161.20" width="4.80" height="4.68" fill="#3a80b8" fill-opacity="0.597"/>
<rect x="572.58" y="165.94" width="4.80" height="4.68" fill="#3a80b8" fill-opacity="0.464"/>
<rect x="572.58" y="170.68" width="4.80" height="4.68" fill="#3a80b8" fill-opacity="0.342"/>
<rect x="572.58" y="175.42" width="4.80" height="4.68" fill="#3a80b8" fill-opacity="0.249"/>
<rect x="572.58" y="180.16" width="4.80" height="4.68" fill="#3a80b8" fill-opacity="0.185"/>
<rect x="572.58" y="184.90" width="4.80" height="4.68" fill="#3a80b8" fill-opacity="0.145"/>
<rect x="572.58" y="189.64" width="4.80" height="4.68" fill="#3a80b8" fill-opacity="0.118"/>
<rect x="572.58" y="194.38" width="4.80" height="4.68" fill="#3a80b8" fill-opacity="0.097"/>
<rect x="572.58" y="199.12" width="4.80" height="4.68" fill="#3a80b8" fill-opacity="0.080"/>
<rect x="572.58" y="203.86" width="4.80" height="4.68" fill="#3a80b8" fill-opacity="0.065"/>
<rect x="572.58" y="208.60" width="4.80" height="4.68" fill="#3a80b8" fill-opacity="0.052"/>
<rect x="572.58" y="213.34" width="4.80" height="4.68" fill="#3a80b8" fill-opacity="0.040"/>
<rect x="572.58" y="218.08" width="4.80" height="4.68" fill="#3a80b8" fill-opacity="0.030"/>
<rect x="572.58" y="222.82" width="4.80" height="4.68" fill="#3a80b8" fill-opacity="0.022"/>
<rect x="572.58" y="227.56" width="4.80" height="4.68" fill="#3a80b8" fill-opacity="0.016"/>
<rect x="577.44" y="113.80" width="4.80" height="4.68" fill="#3a80b8" fill-opacity="0.019"/>
<rect x="577.44" y="118.54" width="4.80" height="4.68" fill="#3a80b8" fill-opacity="0.031"/>
<rect x="577.44" y="123.28" width="4.80" height="4.68" fill="#3a80b8" fill-opacity="0.053"/>
<rect x="577.44" y="128.02" width="4.80" height="4.68" fill="#3a80b8" fill-opacity="0.100"/>
<rect x="577.44" y="132.76" width="4.80" height="4.68" fill="#3a80b8" fill-opacity="0.192"/>
<rect x="577.44" y="137.50" width="4.80" height="4.68" fill="#3a80b8" fill-opacity="0.348"/>
<rect x="577.44" y="142.24" width="4.80" height="4.68" fill="#3a80b8" fill-opacity="0.553"/>
<rect x="577.44" y="146.98" width="4.80" height="4.68" fill="#3a80b8" fill-opacity="0.739"/>
<rect x="577.44" y="151.72" width="4.80" height="4.68" fill="#3a80b8" fill-opacity="0.818"/>
<rect x="577.44" y="156.46" width="4.80" height="4.68" fill="#3a80b8" fill-opacity="0.783"/>
<rect x="577.44" y="161.20" width="4.80" height="4.68" fill="#3a80b8" fill-opacity="0.674"/>
<rect x="577.44" y="165.94" width="4.80" height="4.68" fill="#3a80b8" fill-opacity="0.529"/>
<rect x="577.44" y="170.68" width="4.80" height="4.68" fill="#3a80b8" fill-opacity="0.390"/>
<rect x="577.44" y="175.42" width="4.80" height="4.68" fill="#3a80b8" fill-opacity="0.281"/>
<rect x="577.44" y="180.16" width="4.80" height="4.68" fill="#3a80b8" fill-opacity="0.206"/>
<rect x="577.44" y="184.90" width="4.80" height="4.68" fill="#3a80b8" fill-opacity="0.158"/>
<rect x="577.44" y="189.64" width="4.80" height="4.68" fill="#3a80b8" fill-opacity="0.126"/>
<rect x="577.44" y="194.38" width="4.80" height="4.68" fill="#3a80b8" fill-opacity="0.103"/>
<rect x="577.44" y="199.12" width="4.80" height="4.68" fill="#3a80b8" fill-opacity="0.085"/>
<rect x="577.44" y="203.86" width="4.80" height="4.68" fill="#3a80b8" fill-opacity="0.069"/>
<rect x="577.44" y="208.60" width="4.80" height="4.68" fill="#3a80b8" fill-opacity="0.055"/>
<rect x="577.44" y="213.34" width="4.80" height="4.68" fill="#3a80b8" fill-opacity="0.042"/>
<rect x="577.44" y="218.08" width="4.80" height="4.68" fill="#3a80b8" fill-opacity="0.032"/>
<rect x="577.44" y="222.82" width="4.80" height="4.68" fill="#3a80b8" fill-opacity="0.024"/>
<rect x="577.44" y="227.56" width="4.80" height="4.68" fill="#3a80b8" fill-opacity="0.017"/>
<rect x="582.30" y="109.06" width="4.80" height="4.68" fill="#3a80b8" fill-opacity="0.012"/>
<rect x="582.30" y="113.80" width="4.80" height="4.68" fill="#3a80b8" fill-opacity="0.020"/>
<rect x="582.30" y="118.54" width="4.80" height="4.68" fill="#3a80b8" fill-opacity="0.032"/>
<rect x="582.30" y="123.28" width="4.80" height="4.68" fill="#3a80b8" fill-opacity="0.053"/>
<rect x="582.30" y="128.02" width="4.80" height="4.68" fill="#3a80b8" fill-opacity="0.096"/>
<rect x="582.30" y="132.76" width="4.80" height="4.68" fill="#3a80b8" fill-opacity="0.181"/>
<rect x="582.30" y="137.50" width="4.80" height="4.68" fill="#3a80b8" fill-opacity="0.332"/>
<rect x="582.30" y="142.24" width="4.80" height="4.68" fill="#3a80b8" fill-opacity="0.541"/>
<rect x="582.30" y="146.98" width="4.80" height="4.68" fill="#3a80b8" fill-opacity="0.747"/>
<rect x="582.30" y="151.72" width="4.80" height="4.68" fill="#3a80b8" fill-opacity="0.857"/>
<rect x="582.30" y="156.46" width="4.80" height="4.68" fill="#3a80b8" fill-opacity="0.837"/>
<rect x="582.30" y="161.20" width="4.80" height="4.68" fill="#3a80b8" fill-opacity="0.733"/>
<rect x="582.30" y="165.94" width="4.80" height="4.68" fill="#3a80b8" fill-opacity="0.584"/>
<rect x="582.30" y="170.68" width="4.80" height="4.68" fill="#3a80b8" fill-opacity="0.434"/>
<rect x="582.30" y="175.42" width="4.80" height="4.68" fill="#3a80b8" fill-opacity="0.311"/>
<rect x="582.30" y="180.16" width="4.80" height="4.68" fill="#3a80b8" fill-opacity="0.225"/>
<rect x="582.30" y="184.90" width="4.80" height="4.68" fill="#3a80b8" fill-opacity="0.170"/>
<rect x="582.30" y="189.64" width="4.80" height="4.68" fill="#3a80b8" fill-opacity="0.134"/>
<rect x="582.30" y="194.38" width="4.80" height="4.68" fill="#3a80b8" fill-opacity="0.109"/>
<rect x="582.30" y="199.12" width="4.80" height="4.68" fill="#3a80b8" fill-opacity="0.089"/>
<rect x="582.30" y="203.86" width="4.80" height="4.68" fill="#3a80b8" fill-opacity="0.072"/>
<rect x="582.30" y="208.60" width="4.80" height="4.68" fill="#3a80b8" fill-opacity="0.057"/>
<rect x="582.30" y="213.34" width="4.80" height="4.68" fill="#3a80b8" fill-opacity="0.044"/>
<rect x="582.30" y="218.08" width="4.80" height="4.68" fill="#3a80b8" fill-opacity="0.033"/>
<rect x="582.30" y="222.82" width="4.80" height="4.68" fill="#3a80b8" fill-opacity="0.025"/>
<rect x="582.30" y="227.56" width="4.80" height="4.68" fill="#3a80b8" fill-opacity="0.018"/>
<rect x="582.30" y="232.30" width="4.80" height="4.68" fill="#3a80b8" fill-opacity="0.012"/>
<rect x="587.16" y="109.06" width="4.80" height="4.68" fill="#3a80b8" fill-opacity="0.013"/>
<rect x="587.16" y="113.80" width="4.80" height="4.68" fill="#3a80b8" fill-opacity="0.020"/>
<rect x="587.16" y="118.54" width="4.80" height="4.68" fill="#3a80b8" fill-opacity="0.032"/>
<rect x="587.16" y="123.28" width="4.80" height="4.68" fill="#3a80b8" fill-opacity="0.052"/>
<rect x="587.16" y="128.02" width="4.80" height="4.68" fill="#3a80b8" fill-opacity="0.090"/>
<rect x="587.16" y="132.76" width="4.80" height="4.68" fill="#3a80b8" fill-opacity="0.168"/>
<rect x="587.16" y="137.50" width="4.80" height="4.68" fill="#3a80b8" fill-opacity="0.307"/>
<rect x="587.16" y="142.24" width="4.80" height="4.68" fill="#3a80b8" fill-opacity="0.510"/>
<rect x="587.16" y="146.98" width="4.80" height="4.68" fill="#3a80b8" fill-opacity="0.726"/>
<rect x="587.16" y="151.72" width="4.80" height="4.68" fill="#3a80b8" fill-opacity="0.862"/>
<rect x="587.16" y="156.46" width="4.80" height="4.68" fill="#3a80b8" fill-opacity="0.863"/>
<rect x="587.16" y="161.20" width="4.80" height="4.68" fill="#3a80b8" fill-opacity="0.771"/>
<rect x="587.16" y="165.94" width="4.80" height="4.68" fill="#3a80b8" fill-opacity="0.624"/>
<rect x="587.16" y="170.68" width="4.80" height="4.68" fill="#3a80b8" fill-opacity="0.469"/>
<rect x="587.16" y="175.42" width="4.80" height="4.68" fill="#3a80b8" fill-opacity="0.338"/>
<rect x="587.16" y="180.16" width="4.80" height="4.68" fill="#3a80b8" fill-opacity="0.243"/>
<rect x="587.16" y="184.90" width="4.80" height="4.68" fill="#3a80b8" fill-opacity="0.181"/>
<rect x="587.16" y="189.64" width="4.80" height="4.68" fill="#3a80b8" fill-opacity="0.141"/>
<rect x="587.16" y="194.38" width="4.80" height="4.68" fill="#3a80b8" fill-opacity="0.114"/>
<rect x="587.16" y="199.12" width="4.80" height="4.68" fill="#3a80b8" fill-opacity="0.092"/>
<rect x="587.16" y="203.86" width="4.80" height="4.68" fill="#3a80b8" fill-opacity="0.075"/>
<rect x="587.16" y="208.60" width="4.80" height="4.68" fill="#3a80b8" fill-opacity="0.059"/>
<rect x="587.16" y="213.34" width="4.80" height="4.68" fill="#3a80b8" fill-opacity="0.046"/>
<rect x="587.16" y="218.08" width="4.80" height="4.68" fill="#3a80b8" fill-opacity="0.035"/>
<rect x="587.16" y="222.82" width="4.80" height="4.68" fill="#3a80b8" fill-opacity="0.025"/>
<rect x="587.16" y="227.56" width="4.80" height="4.68" fill="#3a80b8" fill-opacity="0.018"/>
<rect x="587.16" y="232.30" width="4.80" height="4.68" fill="#3a80b8" fill-opacity="0.013"/>
<rect x="592.02" y="109.06" width="4.80" height="4.68" fill="#3a80b8" fill-opacity="0.013"/>
<rect x="592.02" y="113.80" width="4.80" height="4.68" fill="#3a80b8" fill-opacity="0.021"/>
<rect x="592.02" y="118.54" width="4.80" height="4.68" fill="#3a80b8" fill-opacity="0.032"/>
<rect x="592.02" y="123.28" width="4.80" height="4.68" fill="#3a80b8" fill-opacity="0.051"/>
<rect x="592.02" y="128.02" width="4.80" height="4.68" fill="#3a80b8" fill-opacity="0.086"/>
<rect x="592.02" y="132.76" width="4.80" height="4.68" fill="#3a80b8" fill-opacity="0.155"/>
<rect x="592.02" y="137.50" width="4.80" height="4.68" fill="#3a80b8" fill-opacity="0.282"/>
<rect x="592.02" y="142.24" width="4.80" height="4.68" fill="#3a80b8" fill-opacity="0.475"/>
<rect x="592.02" y="146.98" width="4.80" height="4.68" fill="#3a80b8" fill-opacity="0.695"/>
<rect x="592.02" y="151.72" width="4.80" height="4.68" fill="#3a80b8" fill-opacity="0.853"/>
<rect x="592.02" y="156.46" width="4.80" height="4.68" fill="#3a80b8" fill-opacity="0.877"/>
<rect x="592.02" y="161.20" width="4.80" height="4.68" fill="#3a80b8" fill-opacity="0.799"/>
<rect x="592.02" y="165.94" width="4.80" height="4.68" fill="#3a80b8" fill-opacity="0.659"/>
<rect x="592.02" y="170.68" width="4.80" height="4.68" fill="#3a80b8" fill-opacity="0.501"/>
<rect x="592.02" y="175.42" width="4.80" height="4.68" fill="#3a80b8" fill-opacity="0.363"/>
<rect x="592.02" y="180.16" width="4.80" height="4.68" fill="#3a80b8" fill-opacity="0.260"/>
<rect x="592.02" y="184.90" width="4.80" height="4.68" fill="#3a80b8" fill-opacity="0.191"/>
<rect x="592.02" y="189.64" width="4.80" height="4.68" fill="#3a80b8" fill-opacity="0.147"/>
<rect x="592.02" y="194.38" width="4.80" height="4.68" fill="#3a80b8" fill-opacity="0.118"/>
<rect x="592.02" y="199.12" width="4.80" height="4.68" fill="#3a80b8" fill-opacity="0.095"/>
<rect x="592.02" y="203.86" width="4.80" height="4.68" fill="#3a80b8" fill-opacity="0.077"/>
<rect x="592.02" y="208.60" width="4.80" height="4.68" fill="#3a80b8" fill-opacity="0.061"/>
<rect x="592.02" y="213.34" width="4.80" height="4.68" fill="#3a80b8" fill-opacity="0.047"/>
<rect x="592.02" y="218.08" width="4.80" height="4.68" fill="#3a80b8" fill-opacity="0.035"/>
<rect x="592.02" y="222.82" width="4.80" height="4.68" fill="#3a80b8" fill-opacity="0.026"/>
<rect x="592.02" y="227.56" width="4.80" height="4.68" fill="#3a80b8" fill-opacity="0.019"/>
<rect x="592.02" y="232.30" width="4.80" height="4.68" fill="#3a80b8" fill-opacity="0.013"/>
<rect x="596.88" y="109.06" width="4.80" height="4.68" fill="#3a80b8" fill-opacity="0.013"/>
<rect x="596.88" y="113.80" width="4.80" height="4.68" fill="#3a80b8" fill-opacity="0.021"/>
<rect x="596.88" y="118.54" width="4.80" height="4.68" fill="#3a80b8" fill-opacity="0.033"/>
<rect x="596.88" y="123.28" width="4.80" height="4.68" fill="#3a80b8" fill-opacity="0.050"/>
<rect x="596.88" y="128.02" width="4.80" height="4.68" fill="#3a80b8" fill-opacity="0.082"/>
<rect x="596.88" y="132.76" width="4.80" height="4.68" fill="#3a80b8" fill-opacity="0.143"/>
<rect x="596.88" y="137.50" width="4.80" height="4.68" fill="#3a80b8" fill-opacity="0.257"/>
<rect x="596.88" y="142.24" width="4.80" height="4.68" fill="#3a80b8" fill-opacity="0.439"/>
<rect x="596.88" y="146.98" width="4.80" height="4.68" fill="#3a80b8" fill-opacity="0.659"/>
<rect x="596.88" y="151.72" width="4.80" height="4.68" fill="#3a80b8" fill-opacity="0.835"/>
<rect x="596.88" y="156.46" width="4.80" height="4.68" fill="#3a80b8" fill-opacity="0.880"/>
<rect x="596.88" y="161.20" width="4.80" height="4.68" fill="#3a80b8" fill-opacity="0.822"/>
<rect x="596.88" y="165.94" width="4.80" height="4.68" fill="#3a80b8" fill-opacity="0.689"/>
<rect x="596.88" y="170.68" width="4.80" height="4.68" fill="#3a80b8" fill-opacity="0.531"/>
<rect x="596.88" y="175.42" width="4.80" height="4.68" fill="#3a80b8" fill-opacity="0.387"/>
<rect x="596.88" y="180.16" width="4.80" height="4.68" fill="#3a80b8" fill-opacity="0.276"/>
<rect x="596.88" y="184.90" width="4.80" height="4.68" fill="#3a80b8" fill-opacity="0.201"/>
<rect x="596.88" y="189.64" width="4.80" height="4.68" fill="#3a80b8" fill-opacity="0.153"/>
<rect x="596.88" y="194.38" width="4.80" height="4.68" fill="#3a80b8" fill-opacity="0.121"/>
<rect x="596.88" y="199.12" width="4.80" height="4.68" fill="#3a80b8" fill-opacity="0.097"/>
<rect x="596.88" y="203.86" width="4.80" height="4.68" fill="#3a80b8" fill-opacity="0.078"/>
<rect x="596.88" y="208.60" width="4.80" height="4.68" fill="#3a80b8" fill-opacity="0.062"/>
<rect x="596.88" y="213.34" width="4.80" height="4.68" fill="#3a80b8" fill-opacity="0.048"/>
<rect x="596.88" y="218.08" width="4.80" height="4.68" fill="#3a80b8" fill-opacity="0.036"/>
<rect x="596.88" y="222.82" width="4.80" height="4.68" fill="#3a80b8" fill-opacity="0.027"/>
<rect x="596.88" y="227.56" width="4.80" height="4.68" fill="#3a80b8" fill-opacity="0.019"/>
<rect x="596.88" y="232.30" width="4.80" height="4.68" fill="#3a80b8" fill-opacity="0.013"/>
<rect x="601.74" y="109.06" width="4.80" height="4.68" fill="#3a80b8" fill-opacity="0.013"/>
<rect x="601.74" y="113.80" width="4.80" height="4.68" fill="#3a80b8" fill-opacity="0.021"/>
<rect x="601.74" y="118.54" width="4.80" height="4.68" fill="#3a80b8" fill-opacity="0.032"/>
<rect x="601.74" y="123.28" width="4.80" height="4.68" fill="#3a80b8" fill-opacity="0.050"/>
<rect x="601.74" y="128.02" width="4.80" height="4.68" fill="#3a80b8" fill-opacity="0.078"/>
<rect x="601.74" y="132.76" width="4.80" height="4.68" fill="#3a80b8" fill-opacity="0.132"/>
<rect x="601.74" y="137.50" width="4.80" height="4.68" fill="#3a80b8" fill-opacity="0.234"/>
<rect x="601.74" y="142.24" width="4.80" height="4.68" fill="#3a80b8" fill-opacity="0.401"/>
<rect x="601.74" y="146.98" width="4.80" height="4.68" fill="#3a80b8" fill-opacity="0.616"/>
<rect x="601.74" y="151.72" width="4.80" height="4.68" fill="#3a80b8" fill-opacity="0.806"/>
<rect x="601.74" y="156.46" width="4.80" height="4.68" fill="#3a80b8" fill-opacity="0.880"/>
<rect x="601.74" y="161.20" width="4.80" height="4.68" fill="#3a80b8" fill-opacity="0.835"/>
<rect x="601.74" y="165.94" width="4.80" height="4.68" fill="#3a80b8" fill-opacity="0.713"/>
<rect x="601.74" y="170.68" width="4.80" height="4.68" fill="#3a80b8" fill-opacity="0.557"/>
<rect x="601.74" y="175.42" width="4.80" height="4.68" fill="#3a80b8" fill-opacity="0.409"/>
<rect x="601.74" y="180.16" width="4.80" height="4.68" fill="#3a80b8" fill-opacity="0.291"/>
<rect x="601.74" y="184.90" width="4.80" height="4.68" fill="#3a80b8" fill-opacity="0.210"/>
<rect x="601.74" y="189.64" width="4.80" height="4.68" fill="#3a80b8" fill-opacity="0.158"/>
<rect x="601.74" y="194.38" width="4.80" height="4.68" fill="#3a80b8" fill-opacity="0.123"/>
<rect x="601.74" y="199.12" width="4.80" height="4.68" fill="#3a80b8" fill-opacity="0.098"/>
<rect x="601.74" y="203.86" width="4.80" height="4.68" fill="#3a80b8" fill-opacity="0.079"/>
<rect x="601.74" y="208.60" width="4.80" height="4.68" fill="#3a80b8" fill-opacity="0.062"/>
<rect x="601.74" y="213.34" width="4.80" height="4.68" fill="#3a80b8" fill-opacity="0.048"/>
<rect x="601.74" y="218.08" width="4.80" height="4.68" fill="#3a80b8" fill-opacity="0.036"/>
<rect x="601.74" y="222.82" width="4.80" height="4.68" fill="#3a80b8" fill-opacity="0.027"/>
<rect x="601.74" y="227.56" width="4.80" height="4.68" fill="#3a80b8" fill-opacity="0.019"/>
<rect x="601.74" y="232.30" width="4.80" height="4.68" fill="#3a80b8" fill-opacity="0.013"/>
<rect x="606.60" y="109.06" width="4.80" height="4.68" fill="#3a80b8" fill-opacity="0.013"/>
<rect x="606.60" y="113.80" width="4.80" height="4.68" fill="#3a80b8" fill-opacity="0.021"/>
<rect x="606.60" y="118.54" width="4.80" height="4.68" fill="#3a80b8" fill-opacity="0.032"/>
<rect x="606.60" y="123.28" width="4.80" height="4.68" fill="#3a80b8" fill-opacity="0.049"/>
<rect x="606.60" y="128.02" width="4.80" height="4.68" fill="#3a80b8" fill-opacity="0.075"/>
<rect x="606.60" y="132.76" width="4.80" height="4.68" fill="#3a80b8" fill-opacity="0.122"/>
<rect x="606.60" y="137.50" width="4.80" height="4.68" fill="#3a80b8" fill-opacity="0.211"/>
<rect x="606.60" y="142.24" width="4.80" height="4.68" fill="#3a80b8" fill-opacity="0.362"/>
<rect x="606.60" y="146.98" width="4.80" height="4.68" fill="#3a80b8" fill-opacity="0.566"/>
<rect x="606.60" y="151.72" width="4.80" height="4.68" fill="#3a80b8" fill-opacity="0.763"/>
<rect x="606.60" y="156.46" width="4.80" height="4.68" fill="#3a80b8" fill-opacity="0.862"/>
<rect x="606.60" y="161.20" width="4.80" height="4.68" fill="#3a80b8" fill-opacity="0.835"/>
<rect x="606.60" y="165.94" width="4.80" height="4.68" fill="#3a80b8" fill-opacity="0.726"/>
<rect x="606.60" y="170.68" width="4.80" height="4.68" fill="#3a80b8" fill-opacity="0.576"/>
<rect x="606.60" y="175.42" width="4.80" height="4.68" fill="#3a80b8" fill-opacity="0.427"/>
<rect x="606.60" y="180.16" width="4.80" height="4.68" fill="#3a80b8" fill-opacity="0.305"/>
<rect x="606.60" y="184.90" width="4.80" height="4.68" fill="#3a80b8" fill-opacity="0.218"/>
<rect x="606.60" y="189.64" width="4.80" height="4.68" fill="#3a80b8" fill-opacity="0.162"/>
<rect x="606.60" y="194.38" width="4.80" height="4.68" fill="#3a80b8" fill-opacity="0.125"/>
<rect x="606.60" y="199.12" width="4.80" height="4.68" fill="#3a80b8" fill-opacity="0.099"/>
<rect x="606.60" y="203.86" width="4.80" height="4.68" fill="#3a80b8" fill-opacity="0.079"/>
<rect x="606.60" y="208.60" width="4.80" height="4.68" fill="#3a80b8" fill-opacity="0.062"/>
<rect x="606.60" y="213.34" width="4.80" height="4.68" fill="#3a80b8" fill-opacity="0.048"/>
<rect x="606.60" y="218.08" width="4.80" height="4.68" fill="#3a80b8" fill-opacity="0.036"/>
<rect x="606.60" y="222.82" width="4.80" height="4.68" fill="#3a80b8" fill-opacity="0.027"/>
<rect x="606.60" y="227.56" width="4.80" height="4.68" fill="#3a80b8" fill-opacity="0.019"/>
<rect x="606.60" y="232.30" width="4.80" height="4.68" fill="#3a80b8" fill-opacity="0.013"/>
<rect x="611.46" y="109.06" width="4.80" height="4.68" fill="#3a80b8" fill-opacity="0.013"/>
<rect x="611.46" y="113.80" width="4.80" height="4.68" fill="#3a80b8" fill-opacity="0.021"/>
<rect x="611.46" y="118.54" width="4.80" height="4.68" fill="#3a80b8" fill-opacity="0.032"/>
<rect x="611.46" y="123.28" width="4.80" height="4.68" fill="#3a80b8" fill-opacity="0.048"/>
<rect x="611.46" y="128.02" width="4.80" height="4.68" fill="#3a80b8" fill-opacity="0.072"/>
<rect x="611.46" y="132.76" width="4.80" height="4.68" fill="#3a80b8" fill-opacity="0.113"/>
<rect x="611.46" y="137.50" width="4.80" height="4.68" fill="#3a80b8" fill-opacity="0.190"/>
<rect x="611.46" y="142.24" width="4.80" height="4.68" fill="#3a80b8" fill-opacity="0.324"/>
<rect x="611.46" y="146.98" width="4.80" height="4.68" fill="#3a80b8" fill-opacity="0.514"/>
<rect x="611.46" y="151.72" width="4.80" height="4.68" fill="#3a80b8" fill-opacity="0.711"/>
<rect x="611.46" y="156.46" width="4.80" height="4.68" fill="#3a80b8" fill-opacity="0.830"/>
<rect x="611.46" y="161.20" width="4.80" height="4.68" fill="#3a80b8" fill-opacity="0.822"/>
<rect x="611.46" y="165.94" width="4.80" height="4.68" fill="#3a80b8" fill-opacity="0.729"/>
<rect x="611.46" y="170.68" width="4.80" height="4.68" fill="#3a80b8" fill-opacity="0.588"/>
<rect x="611.46" y="175.42" width="4.80" height="4.68" fill="#3a80b8" fill-opacity="0.441"/>
<rect x="611.46" y="180.16" width="4.80" height="4.68" fill="#3a80b8" fill-opacity="0.316"/>
<rect x="611.46" y="184.90" width="4.80" height="4.68" fill="#3a80b8" fill-opacity="0.225"/>
<rect x="611.46" y="189.64" width="4.80" height="4.68" fill="#3a80b8" fill-opacity="0.165"/>
<rect x="611.46" y="194.38" width="4.80" height="4.68" fill="#3a80b8" fill-opacity="0.126"/>
<rect x="611.46" y="199.12" width="4.80" height="4.68" fill="#3a80b8" fill-opacity="0.099"/>
<rect x="611.46" y="203.86" width="4.80" height="4.68" fill="#3a80b8" fill-opacity="0.079"/>
<rect x="611.46" y="208.60" width="4.80" height="4.68" fill="#3a80b8" fill-opacity="0.062"/>
<rect x="611.46" y="213.34" width="4.80" height="4.68" fill="#3a80b8" fill-opacity="0.048"/>
<rect x="611.46" y="218.08" width="4.80" height="4.68" fill="#3a80b8" fill-opacity="0.036"/>
<rect x="611.46" y="222.82" width="4.80" height="4.68" fill="#3a80b8" fill-opacity="0.027"/>
<rect x="611.46" y="227.56" width="4.80" height="4.68" fill="#3a80b8" fill-opacity="0.019"/>
<rect x="611.46" y="232.30" width="4.80" height="4.68" fill="#3a80b8" fill-opacity="0.013"/>
<rect x="616.32" y="109.06" width="4.80" height="4.68" fill="#3a80b8" fill-opacity="0.013"/>
<rect x="616.32" y="113.80" width="4.80" height="4.68" fill="#3a80b8" fill-opacity="0.021"/>
<rect x="616.32" y="118.54" width="4.80" height="4.68" fill="#3a80b8" fill-opacity="0.032"/>
<rect x="616.32" y="123.28" width="4.80" height="4.68" fill="#3a80b8" fill-opacity="0.047"/>
<rect x="616.32" y="128.02" width="4.80" height="4.68" fill="#3a80b8" fill-opacity="0.069"/>
<rect x="616.32" y="132.76" width="4.80" height="4.68" fill="#3a80b8" fill-opacity="0.106"/>
<rect x="616.32" y="137.50" width="4.80" height="4.68" fill="#3a80b8" fill-opacity="0.173"/>
<rect x="616.32" y="142.24" width="4.80" height="4.68" fill="#3a80b8" fill-opacity="0.291"/>
<rect x="616.32" y="146.98" width="4.80" height="4.68" fill="#3a80b8" fill-opacity="0.466"/>
<rect x="616.32" y="151.72" width="4.80" height="4.68" fill="#3a80b8" fill-opacity="0.660"/>
<rect x="616.32" y="156.46" width="4.80" height="4.68" fill="#3a80b8" fill-opacity="0.795"/>
<rect x="616.32" y="161.20" width="4.80" height="4.68" fill="#3a80b8" fill-opacity="0.808"/>
<rect x="616.32" y="165.94" width="4.80" height="4.68" fill="#3a80b8" fill-opacity="0.730"/>
<rect x="616.32" y="170.68" width="4.80" height="4.68" fill="#3a80b8" fill-opacity="0.599"/>
<rect x="616.32" y="175.42" width="4.80" height="4.68" fill="#3a80b8" fill-opacity="0.454"/>
<rect x="616.32" y="180.16" width="4.80" height="4.68" fill="#3a80b8" fill-opacity="0.327"/>
<rect x="616.32" y="184.90" width="4.80" height="4.68" fill="#3a80b8" fill-opacity="0.233"/>
<rect x="616.32" y="189.64" width="4.80" height="4.68" fill="#3a80b8" fill-opacity="0.169"/>
<rect x="616.32" y="194.38" width="4.80" height="4.68" fill="#3a80b8" fill-opacity="0.127"/>
<rect x="616.32" y="199.12" width="4.80" height="4.68" fill="#3a80b8" fill-opacity="0.099"/>
<rect x="616.32" y="203.86" width="4.80" height="4.68" fill="#3a80b8" fill-opacity="0.078"/>
<rect x="616.32" y="208.60" width="4.80" height="4.68" fill="#3a80b8" fill-opacity="0.061"/>
<rect x="616.32" y="213.34" width="4.80" height="4.68" fill="#3a80b8" fill-opacity="0.047"/>
<rect x="616.32" y="218.08" width="4.80" height="4.68" fill="#3a80b8" fill-opacity="0.036"/>
<rect x="616.32" y="222.82" width="4.80" height="4.68" fill="#3a80b8" fill-opacity="0.026"/>
<rect x="616.32" y="227.56" width="4.80" height="4.68" fill="#3a80b8" fill-opacity="0.019"/>
<rect x="616.32" y="232.30" width="4.80" height="4.68" fill="#3a80b8" fill-opacity="0.013"/>
<rect x="621.18" y="109.06" width="4.80" height="4.68" fill="#3a80b8" fill-opacity="0.013"/>
<rect x="621.18" y="113.80" width="4.80" height="4.68" fill="#3a80b8" fill-opacity="0.021"/>
<rect x="621.18" y="118.54" width="4.80" height="4.68" fill="#3a80b8" fill-opacity="0.031"/>
<rect x="621.18" y="123.28" width="4.80" height="4.68" fill="#3a80b8" fill-opacity="0.046"/>
<rect x="621.18" y="128.02" width="4.80" height="4.68" fill="#3a80b8" fill-opacity="0.067"/>
<rect x="621.18" y="132.76" width="4.80" height="4.68" fill="#3a80b8" fill-opacity="0.100"/>
<rect x="621.18" y="137.50" width="4.80" height="4.68" fill="#3a80b8" fill-opacity="0.160"/>
<rect x="621.18" y="142.24" width="4.80" height="4.68" fill="#3a80b8" fill-opacity="0.266"/>
<rect x="621.18" y="146.98" width="4.80" height="4.68" fill="#3a80b8" fill-opacity="0.429"/>
<rect x="621.18" y="151.72" width="4.80" height="4.68" fill="#3a80b8" fill-opacity="0.623"/>
<rect x="621.18" y="156.46" width="4.80" height="4.68" fill="#3a80b8" fill-opacity="0.774"/>
<rect x="621.18" y="161.20" width="4.80" height="4.68" fill="#3a80b8" fill-opacity="0.808"/>
<rect x="621.18" y="165.94" width="4.80" height="4.68" fill="#3a80b8" fill-opacity="0.745"/>
<rect x="621.18" y="170.68" width="4.80" height="4.68" fill="#3a80b8" fill-opacity="0.621"/>
<rect x="621.18" y="175.42" width="4.80" height="4.68" fill="#3a80b8" fill-opacity="0.476"/>
<rect x="621.18" y="180.16" width="4.80" height="4.68" fill="#3a80b8" fill-opacity="0.344"/>
<rect x="621.18" y="184.90" width="4.80" height="4.68" fill="#3a80b8" fill-opacity="0.243"/>
<rect x="621.18" y="189.64" width="4.80" height="4.68" fill="#3a80b8" fill-opacity="0.174"/>
<rect x="621.18" y="194.38" width="4.80" height="4.68" fill="#3a80b8" fill-opacity="0.129"/>
<rect x="621.18" y="199.12" width="4.80" height="4.68" fill="#3a80b8" fill-opacity="0.099"/>
<rect x="621.18" y="203.86" width="4.80" height="4.68" fill="#3a80b8" fill-opacity="0.078"/>
<rect x="621.18" y="208.60" width="4.80" height="4.68" fill="#3a80b8" fill-opacity="0.061"/>
<rect x="621.18" y="213.34" width="4.80" height="4.68" fill="#3a80b8" fill-opacity="0.047"/>
<rect x="621.18" y="218.08" width="4.80" height="4.68" fill="#3a80b8" fill-opacity="0.035"/>
<rect x="621.18" y="222.82" width="4.80" height="4.68" fill="#3a80b8" fill-opacity="0.026"/>
<rect x="621.18" y="227.56" width="4.80" height="4.68" fill="#3a80b8" fill-opacity="0.019"/>
<rect x="621.18" y="232.30" width="4.80" height="4.68" fill="#3a80b8" fill-opacity="0.013"/>
<rect x="626.04" y="109.06" width="4.80" height="4.68" fill="#3a80b8" fill-opacity="0.013"/>
<rect x="626.04" y="113.80" width="4.80" height="4.68" fill="#3a80b8" fill-opacity="0.020"/>
<rect x="626.04" y="118.54" width="4.80" height="4.68" fill="#3a80b8" fill-opacity="0.031"/>
<rect x="626.04" y="123.28" width="4.80" height="4.68" fill="#3a80b8" fill-opacity="0.045"/>
<rect x="626.04" y="128.02" width="4.80" height="4.68" fill="#3a80b8" fill-opacity="0.065"/>
<rect x="626.04" y="132.76" width="4.80" height="4.68" fill="#3a80b8" fill-opacity="0.096"/>
<rect x="626.04" y="137.50" width="4.80" height="4.68" fill="#3a80b8" fill-opacity="0.150"/>
<rect x="626.04" y="142.24" width="4.80" height="4.68" fill="#3a80b8" fill-opacity="0.247"/>
<rect x="626.04" y="146.98" width="4.80" height="4.68" fill="#3a80b8" fill-opacity="0.403"/>
<rect x="626.04" y="151.72" width="4.80" height="4.68" fill="#3a80b8" fill-opacity="0.599"/>
<rect x="626.04" y="156.46" width="4.80" height="4.68" fill="#3a80b8" fill-opacity="0.768"/>
<rect x="626.04" y="161.20" width="4.80" height="4.68" fill="#3a80b8" fill-opacity="0.827"/>
<rect x="626.04" y="165.94" width="4.80" height="4.68" fill="#3a80b8" fill-opacity="0.776"/>
<rect x="626.04" y="170.68" width="4.80" height="4.68" fill="#3a80b8" fill-opacity="0.657"/>
<rect x="626.04" y="175.42" width="4.80" height="4.68" fill="#3a80b8" fill-opacity="0.509"/>
<rect x="626.04" y="180.16" width="4.80" height="4.68" fill="#3a80b8" fill-opacity="0.368"/>
<rect x="626.04" y="184.90" width="4.80" height="4.68" fill="#3a80b8" fill-opacity="0.257"/>
<rect x="626.04" y="189.64" width="4.80" height="4.68" fill="#3a80b8" fill-opacity="0.181"/>
<rect x="626.04" y="194.38" width="4.80" height="4.68" fill="#3a80b8" fill-opacity="0.132"/>
<rect x="626.04" y="199.12" width="4.80" height="4.68" fill="#3a80b8" fill-opacity="0.100"/>
<rect x="626.04" y="203.86" width="4.80" height="4.68" fill="#3a80b8" fill-opacity="0.077"/>
<rect x="626.04" y="208.60" width="4.80" height="4.68" fill="#3a80b8" fill-opacity="0.060"/>
<rect x="626.04" y="213.34" width="4.80" height="4.68" fill="#3a80b8" fill-opacity="0.046"/>
<rect x="626.04" y="218.08" width="4.80" height="4.68" fill="#3a80b8" fill-opacity="0.035"/>
<rect x="626.04" y="222.82" width="4.80" height="4.68" fill="#3a80b8" fill-opacity="0.026"/>
<rect x="626.04" y="227.56" width="4.80" height="4.68" fill="#3a80b8" fill-opacity="0.019"/>
<rect x="626.04" y="232.30" width="4.80" height="4.68" fill="#3a80b8" fill-opacity="0.013"/>
<rect x="630.90" y="109.06" width="4.80" height="4.68" fill="#3a80b8" fill-opacity="0.013"/>
<rect x="630.90" y="113.80" width="4.80" height="4.68" fill="#3a80b8" fill-opacity="0.020"/>
<rect x="630.90" y="118.54" width="4.80" height="4.68" fill="#3a80b8" fill-opacity="0.030"/>
<rect x="630.90" y="123.28" width="4.80" height="4.68" fill="#3a80b8" fill-opacity="0.044"/>
<rect x="630.90" y="128.02" width="4.80" height="4.68" fill="#3a80b8" fill-opacity="0.063"/>
<rect x="630.90" y="132.76" width="4.80" height="4.68" fill="#3a80b8" fill-opacity="0.092"/>
<rect x="630.90" y="137.50" width="4.80" height="4.68" fill="#3a80b8" fill-opacity="0.141"/>
<rect x="630.90" y="142.24" width="4.80" height="4.68" fill="#3a80b8" fill-opacity="0.230"/>
<rect x="630.90" y="146.98" width="4.80" height="4.68" fill="#3a80b8" fill-opacity="0.379"/>
<rect x="630.90" y="151.72" width="4.80" height="4.68" fill="#3a80b8" fill-opacity="0.577"/>
<rect x="630.90" y="156.46" width="4.80" height="4.68" fill="#3a80b8" fill-opacity="0.764"/>
<rect x="630.90" y="161.20" width="4.80" height="4.68" fill="#3a80b8" fill-opacity="0.850"/>
<rect x="630.90" y="165.94" width="4.80" height="4.68" fill="#3a80b8" fill-opacity="0.814"/>
<rect x="630.90" y="170.68" width="4.80" height="4.68" fill="#3a80b8" fill-opacity="0.700"/>
<rect x="630.90" y="175.42" width="4.80" height="4.68" fill="#3a80b8" fill-opacity="0.548"/>
<rect x="630.90" y="180.16" width="4.80" height="4.68" fill="#3a80b8" fill-opacity="0.397"/>
<rect x="630.90" y="184.90" width="4.80" height="4.68" fill="#3a80b8" fill-opacity="0.276"/>
<rect x="630.90" y="189.64" width="4.80" height="4.68" fill="#3a80b8" fill-opacity="0.190"/>
<rect x="630.90" y="194.38" width="4.80" height="4.68" fill="#3a80b8" fill-opacity="0.135"/>
<rect x="630.90" y="199.12" width="4.80" height="4.68" fill="#3a80b8" fill-opacity="0.100"/>
<rect x="630.90" y="203.86" width="4.80" height="4.68" fill="#3a80b8" fill-opacity="0.077"/>
<rect x="630.90" y="208.60" width="4.80" height="4.68" fill="#3a80b8" fill-opacity="0.059"/>
<rect x="630.90" y="213.34" width="4.80" height="4.68" fill="#3a80b8" fill-opacity="0.046"/>
<rect x="630.90" y="218.08" width="4.80" height="4.68" fill="#3a80b8" fill-opacity="0.034"/>
<rect x="630.90" y="222.82" width="4.80" height="4.68" fill="#3a80b8" fill-opacity="0.025"/>
<rect x="630.90" y="227.56" width="4.80" height="4.68" fill="#3a80b8" fill-opacity="0.018"/>
<rect x="630.90" y="232.30" width="4.80" height="4.68" fill="#3a80b8" fill-opacity="0.013"/>
<rect x="635.76" y="109.06" width="4.80" height="4.68" fill="#3a80b8" fill-opacity="0.012"/>
<rect x="635.76" y="113.80" width="4.80" height="4.68" fill="#3a80b8" fill-opacity="0.019"/>
<rect x="635.76" y="118.54" width="4.80" height="4.68" fill="#3a80b8" fill-opacity="0.030"/>
<rect x="635.76" y="123.28" width="4.80" height="4.68" fill="#3a80b8" fill-opacity="0.043"/>
<rect x="635.76" y="128.02" width="4.80" height="4.68" fill="#3a80b8" fill-opacity="0.062"/>
<rect x="635.76" y="132.76" width="4.80" height="4.68" fill="#3a80b8" fill-opacity="0.088"/>
<rect x="635.76" y="137.50" width="4.80" height="4.68" fill="#3a80b8" fill-opacity="0.132"/>
<rect x="635.76" y="142.24" width="4.80" height="4.68" fill="#3a80b8" fill-opacity="0.213"/>
<rect x="635.76" y="146.98" width="4.80" height="4.68" fill="#3a80b8" fill-opacity="0.352"/>
<rect x="635.76" y="151.72" width="4.80" height="4.68" fill="#3a80b8" fill-opacity="0.548"/>
<rect x="635.76" y="156.46" width="4.80" height="4.68" fill="#3a80b8" fill-opacity="0.749"/>
<rect x="635.76" y="161.20" width="4.80" height="4.68" fill="#3a80b8" fill-opacity="0.863"/>
<rect x="635.76" y="165.94" width="4.80" height="4.68" fill="#3a80b8" fill-opacity="0.844"/>
<rect x="635.76" y="170.68" width="4.80" height="4.68" fill="#3a80b8" fill-opacity="0.739"/>
<rect x="635.76" y="175.42" width="4.80" height="4.68" fill="#3a80b8" fill-opacity="0.586"/>
<rect x="635.76" y="180.16" width="4.80" height="4.68" fill="#3a80b8" fill-opacity="0.427"/>
<rect x="635.76" y="184.90" width="4.80" height="4.68" fill="#3a80b8" fill-opacity="0.295"/>
<rect x="635.76" y="189.64" width="4.80" height="4.68" fill="#3a80b8" fill-opacity="0.201"/>
<rect x="635.76" y="194.38" width="4.80" height="4.68" fill="#3a80b8" fill-opacity="0.140"/>
<rect x="635.76" y="199.12" width="4.80" height="4.68" fill="#3a80b8" fill-opacity="0.101"/>
<rect x="635.76" y="203.86" width="4.80" height="4.68" fill="#3a80b8" fill-opacity="0.076"/>
<rect x="635.76" y="208.60" width="4.80" height="4.68" fill="#3a80b8" fill-opacity="0.059"/>
<rect x="635.76" y="213.34" width="4.80" height="4.68" fill="#3a80b8" fill-opacity="0.045"/>
<rect x="635.76" y="218.08" width="4.80" height="4.68" fill="#3a80b8" fill-opacity="0.034"/>
<rect x="635.76" y="222.82" width="4.80" height="4.68" fill="#3a80b8" fill-opacity="0.025"/>
<rect x="635.76" y="227.56" width="4.80" height="4.68" fill="#3a80b8" fill-opacity="0.018"/>
<rect x="635.76" y="232.30" width="4.80" height="4.68" fill="#3a80b8" fill-opacity="0.012"/>
<rect x="640.62" y="109.06" width="4.80" height="4.68" fill="#3a80b8" fill-opacity="0.012"/>
<rect x="640.62" y="113.80" width="4.80" height="4.68" fill="#3a80b8" fill-opacity="0.019"/>
<rect x="640.62" y="118.54" width="4.80" height="4.68" fill="#3a80b8" fill-opacity="0.029"/>
<rect x="640.62" y="123.28" width="4.80" height="4.68" fill="#3a80b8" fill-opacity="0.042"/>
<rect x="640.62" y="128.02" width="4.80" height="4.68" fill="#3a80b8" fill-opacity="0.060"/>
<rect x="640.62" y="132.76" width="4.80" height="4.68" fill="#3a80b8" fill-opacity="0.084"/>
<rect x="640.62" y="137.50" width="4.80" height="4.68" fill="#3a80b8" fill-opacity="0.124"/>
<rect x="640.62" y="142.24" width="4.80" height="4.68" fill="#3a80b8" fill-opacity="0.196"/>
<rect x="640.62" y="146.98" width="4.80" height="4.68" fill="#3a80b8" fill-opacity="0.324"/>
<rect x="640.62" y="151.72" width="4.80" height="4.68" fill="#3a80b8" fill-opacity="0.512"/>
<rect x="640.62" y="156.46" width="4.80" height="4.68" fill="#3a80b8" fill-opacity="0.720"/>
<rect x="640.62" y="161.20" width="4.80" height="4.68" fill="#3a80b8" fill-opacity="0.858"/>
<rect x="640.62" y="165.94" width="4.80" height="4.68" fill="#3a80b8" fill-opacity="0.861"/>
<rect x="640.62" y="170.68" width="4.80" height="4.68" fill="#3a80b8" fill-opacity="0.769"/>
<rect x="640.62" y="175.42" width="4.80" height="4.68" fill="#3a80b8" fill-opacity="0.618"/>
<rect x="640.62" y="180.16" width="4.80" height="4.68" fill="#3a80b8" fill-opacity="0.455"/>
<rect x="640.62" y="184.90" width="4.80" height="4.68" fill="#3a80b8" fill-opacity="0.314"/>
<rect x="640.62" y="189.64" width="4.80" height="4.68" fill="#3a80b8" fill-opacity="0.211"/>
<rect x="640.62" y="194.38" width="4.80" height="4.68" fill="#3a80b8" fill-opacity="0.144"/>
<rect x="640.62" y="199.12" width="4.80" height="4.68" fill="#3a80b8" fill-opacity="0.102"/>
<rect x="640.62" y="203.86" width="4.80" height="4.68" fill="#3a80b8" fill-opacity="0.076"/>
<rect x="640.62" y="208.60" width="4.80" height="4.68" fill="#3a80b8" fill-opacity="0.058"/>
<rect x="640.62" y="213.34" width="4.80" height="4.68" fill="#3a80b8" fill-opacity="0.044"/>
<rect x="640.62" y="218.08" width="4.80" height="4.68" fill="#3a80b8" fill-opacity="0.033"/>
<rect x="640.62" y="222.82" width="4.80" height="4.68" fill="#3a80b8" fill-opacity="0.024"/>
<rect x="640.62" y="227.56" width="4.80" height="4.68" fill="#3a80b8" fill-opacity="0.017"/>
<rect x="640.62" y="232.30" width="4.80" height="4.68" fill="#3a80b8" fill-opacity="0.012"/>
<rect x="645.48" y="113.80" width="4.80" height="4.68" fill="#3a80b8" fill-opacity="0.018"/>
<rect x="645.48" y="118.54" width="4.80" height="4.68" fill="#3a80b8" fill-opacity="0.028"/>
<rect x="645.48" y="123.28" width="4.80" height="4.68" fill="#3a80b8" fill-opacity="0.041"/>
<rect x="645.48" y="128.02" width="4.80" height="4.68" fill="#3a80b8" fill-opacity="0.058"/>
<rect x="645.48" y="132.76" width="4.80" height="4.68" fill="#3a80b8" fill-opacity="0.081"/>
<rect x="645.48" y="137.50" width="4.80" height="4.68" fill="#3a80b8" fill-opacity="0.116"/>
<rect x="645.48" y="142.24" width="4.80" height="4.68" fill="#3a80b8" fill-opacity="0.180"/>
<rect x="645.48" y="146.98" width="4.80" height="4.68" fill="#3a80b8" fill-opacity="0.295"/>
<rect x="645.48" y="151.72" width="4.80" height="4.68" fill="#3a80b8" fill-opacity="0.473"/>
<rect x="645.48" y="156.46" width="4.80" height="4.68" fill="#3a80b8" fill-opacity="0.682"/>
<rect x="645.48" y="161.20" width="4.80" height="4.68" fill="#3a80b8" fill-opacity="0.841"/>
<rect x="645.48" y="165.94" width="4.80" height="4.68" fill="#3a80b8" fill-opacity="0.868"/>
<rect x="645.48" y="170.68" width="4.80" height="4.68" fill="#3a80b8" fill-opacity="0.790"/>
<rect x="645.48" y="175.42" width="4.80" height="4.68" fill="#3a80b8" fill-opacity="0.646"/>
<rect x="645.48" y="180.16" width="4.80" height="4.68" fill="#3a80b8" fill-opacity="0.481"/>
<rect x="645.48" y="184.90" width="4.80" height="4.68" fill="#3a80b8" fill-opacity="0.334"/>
<rect x="645.48" y="189.64" width="4.80" height="4.68" fill="#3a80b8" fill-opacity="0.222"/>
<rect x="645.48" y="194.38" width="4.80" height="4.68" fill="#3a80b8" fill-opacity="0.149"/>
<rect x="645.48" y="199.12" width="4.80" height="4.68" fill="#3a80b8" fill-opacity="0.103"/>
<rect x="645.48" y="203.86" width="4.80" height="4.68" fill="#3a80b8" fill-opacity="0.075"/>
<rect x="645.48" y="208.60" width="4.80" height="4.68" fill="#3a80b8" fill-opacity="0.057"/>
<rect x="645.48" y="213.34" width="4.80" height="4.68" fill="#3a80b8" fill-opacity="0.043"/>
<rect x="645.48" y="218.08" width="4.80" height="4.68" fill="#3a80b8" fill-opacity="0.032"/>
<rect x="645.48" y="222.82" width="4.80" height="4.68" fill="#3a80b8" fill-opacity="0.024"/>
<rect x="645.48" y="227.56" width="4.80" height="4.68" fill="#3a80b8" fill-opacity="0.017"/>
<rect x="650.34" y="113.80" width="4.80" height="4.68" fill="#3a80b8" fill-opacity="0.018"/>
<rect x="650.34" y="118.54" width="4.80" height="4.68" fill="#3a80b8" fill-opacity="0.027"/>
<rect x="650.34" y="123.28" width="4.80" height="4.68" fill="#3a80b8" fill-opacity="0.040"/>
<rect x="650.34" y="128.02" width="4.80" height="4.68" fill="#3a80b8" fill-opacity="0.056"/>
<rect x="650.34" y="132.76" width="4.80" height="4.68" fill="#3a80b8" fill-opacity="0.077"/>
<rect x="650.34" y="137.50" width="4.80" height="4.68" fill="#3a80b8" fill-opacity="0.109"/>
<rect x="650.34" y="142.24" width="4.80" height="4.68" fill="#3a80b8" fill-opacity="0.165"/>
<rect x="650.34" y="146.98" width="4.80" height="4.68" fill="#3a80b8" fill-opacity="0.267"/>
<rect x="650.34" y="151.72" width="4.80" height="4.68" fill="#3a80b8" fill-opacity="0.433"/>
<rect x="650.34" y="156.46" width="4.80" height="4.68" fill="#3a80b8" fill-opacity="0.640"/>
<rect x="650.34" y="161.20" width="4.80" height="4.68" fill="#3a80b8" fill-opacity="0.815"/>
<rect x="650.34" y="165.94" width="4.80" height="4.68" fill="#3a80b8" fill-opacity="0.869"/>
<rect x="650.34" y="170.68" width="4.80" height="4.68" fill="#3a80b8" fill-opacity="0.806"/>
<rect x="650.34" y="175.42" width="4.80" height="4.68" fill="#3a80b8" fill-opacity="0.671"/>
<rect x="650.34" y="180.16" width="4.80" height="4.68" fill="#3a80b8" fill-opacity="0.507"/>
<rect x="650.34" y="184.90" width="4.80" height="4.68" fill="#3a80b8" fill-opacity="0.353"/>
<rect x="650.34" y="189.64" width="4.80" height="4.68" fill="#3a80b8" fill-opacity="0.234"/>
<rect x="650.34" y="194.38" width="4.80" height="4.68" fill="#3a80b8" fill-opacity="0.154"/>
<rect x="650.34" y="199.12" width="4.80" height="4.68" fill="#3a80b8" fill-opacity="0.105"/>
<rect x="650.34" y="203.86" width="4.80" height="4.68" fill="#3a80b8" fill-opacity="0.075"/>
<rect x="650.34" y="208.60" width="4.80" height="4.68" fill="#3a80b8" fill-opacity="0.055"/>
<rect x="650.34" y="213.34" width="4.80" height="4.68" fill="#3a80b8" fill-opacity="0.042"/>
<rect x="650.34" y="218.08" width="4.80" height="4.68" fill="#3a80b8" fill-opacity="0.031"/>
<rect x="650.34" y="222.82" width="4.80" height="4.68" fill="#3a80b8" fill-opacity="0.023"/>
<rect x="650.34" y="227.56" width="4.80" height="4.68" fill="#3a80b8" fill-opacity="0.016"/>
<rect x="412.20" y="234.10" width="4.30" height="4.30" fill="#d7191c" fill-opacity="0.018"/>
<rect x="412.20" y="238.40" width="4.30" height="4.30" fill="#d7191c" fill-opacity="0.034"/>
<rect x="412.20" y="242.70" width="4.30" height="4.30" fill="#d7191c" fill-opacity="0.048"/>
<rect x="412.20" y="247.00" width="4.30" height="4.30" fill="#d7191c" fill-opacity="0.049"/>
<rect x="412.20" y="251.30" width="4.30" height="4.30" fill="#d7191c" fill-opacity="0.038"/>
<rect x="412.20" y="255.60" width="4.30" height="4.30" fill="#d7191c" fill-opacity="0.021"/>
<rect x="416.50" y="229.80" width="4.30" height="4.30" fill="#d7191c" fill-opacity="0.043"/>
<rect x="416.50" y="234.10" width="4.30" height="4.30" fill="#d7191c" fill-opacity="0.111"/>
<rect x="416.50" y="238.40" width="4.30" height="4.30" fill="#d7191c" fill-opacity="0.211"/>
<rect x="416.50" y="242.70" width="4.30" height="4.30" fill="#d7191c" fill-opacity="0.296"/>
<rect x="416.50" y="247.00" width="4.30" height="4.30" fill="#d7191c" fill-opacity="0.307"/>
<rect x="416.50" y="251.30" width="4.30" height="4.30" fill="#d7191c" fill-opacity="0.235"/>
<rect x="416.50" y="255.60" width="4.30" height="4.30" fill="#d7191c" fill-opacity="0.132"/>
<rect x="416.50" y="259.90" width="4.30" height="4.30" fill="#d7191c" fill-opacity="0.055"/>
<rect x="416.50" y="264.20" width="4.30" height="4.30" fill="#d7191c" fill-opacity="0.017"/>
<rect x="420.80" y="225.50" width="4.30" height="4.30" fill="#d7191c" fill-opacity="0.032"/>
<rect x="420.80" y="229.80" width="4.30" height="4.30" fill="#d7191c" fill-opacity="0.112"/>
<rect x="420.80" y="234.10" width="4.30" height="4.30" fill="#d7191c" fill-opacity="0.288"/>
<rect x="420.80" y="238.40" width="4.30" height="4.30" fill="#d7191c" fill-opacity="0.548"/>
<rect x="420.80" y="242.70" width="4.30" height="4.30" fill="#d7191c" fill-opacity="0.770"/>
<rect x="420.80" y="247.00" width="4.30" height="4.30" fill="#d7191c" fill-opacity="0.798"/>
<rect x="420.80" y="251.30" width="4.30" height="4.30" fill="#d7191c" fill-opacity="0.610"/>
<rect x="420.80" y="255.60" width="4.30" height="4.30" fill="#d7191c" fill-opacity="0.344"/>
<rect x="420.80" y="259.90" width="4.30" height="4.30" fill="#d7191c" fill-opacity="0.143"/>
<rect x="420.80" y="264.20" width="4.30" height="4.30" fill="#d7191c" fill-opacity="0.044"/>
<rect x="425.10" y="225.50" width="4.30" height="4.30" fill="#d7191c" fill-opacity="0.035"/>
<rect x="425.10" y="229.80" width="4.30" height="4.30" fill="#d7191c" fill-opacity="0.121"/>
<rect x="425.10" y="234.10" width="4.30" height="4.30" fill="#d7191c" fill-opacity="0.313"/>
<rect x="425.10" y="238.40" width="4.30" height="4.30" fill="#d7191c" fill-opacity="0.595"/>
<rect x="425.10" y="242.70" width="4.30" height="4.30" fill="#d7191c" fill-opacity="0.836"/>
<rect x="425.10" y="247.00" width="4.30" height="4.30" fill="#d7191c" fill-opacity="0.867"/>
<rect x="425.10" y="251.30" width="4.30" height="4.30" fill="#d7191c" fill-opacity="0.664"/>
<rect x="425.10" y="255.60" width="4.30" height="4.30" fill="#d7191c" fill-opacity="0.375"/>
<rect x="425.10" y="259.90" width="4.30" height="4.30" fill="#d7191c" fill-opacity="0.156"/>
<rect x="425.10" y="264.20" width="4.30" height="4.30" fill="#d7191c" fill-opacity="0.048"/>
<rect x="429.40" y="225.50" width="4.30" height="4.30" fill="#d7191c" fill-opacity="0.016"/>
<rect x="429.40" y="229.80" width="4.30" height="4.30" fill="#d7191c" fill-opacity="0.055"/>
<rect x="429.40" y="234.10" width="4.30" height="4.30" fill="#d7191c" fill-opacity="0.142"/>
<rect x="429.40" y="238.40" width="4.30" height="4.30" fill="#d7191c" fill-opacity="0.271"/>
<rect x="429.40" y="242.70" width="4.30" height="4.30" fill="#d7191c" fill-opacity="0.383"/>
<rect x="429.40" y="247.00" width="4.30" height="4.30" fill="#d7191c" fill-opacity="0.400"/>
<rect x="429.40" y="251.30" width="4.30" height="4.30" fill="#d7191c" fill-opacity="0.308"/>
<rect x="429.40" y="255.60" width="4.30" height="4.30" fill="#d7191c" fill-opacity="0.175"/>
<rect x="429.40" y="259.90" width="4.30" height="4.30" fill="#d7191c" fill-opacity="0.074"/>
<rect x="429.40" y="264.20" width="4.30" height="4.30" fill="#d7191c" fill-opacity="0.023"/>
<rect x="433.70" y="234.10" width="4.30" height="4.30" fill="#d7191c" fill-opacity="0.028"/>
<rect x="433.70" y="238.40" width="4.30" height="4.30" fill="#d7191c" fill-opacity="0.056"/>
<rect x="433.70" y="242.70" width="4.30" height="4.30" fill="#d7191c" fill-opacity="0.083"/>
<rect x="433.70" y="247.00" width="4.30" height="4.30" fill="#d7191c" fill-opacity="0.092"/>
<rect x="433.70" y="251.30" width="4.30" height="4.30" fill="#d7191c" fill-opacity="0.076"/>
<rect x="433.70" y="255.60" width="4.30" height="4.30" fill="#d7191c" fill-opacity="0.046"/>
<rect x="433.70" y="259.90" width="4.30" height="4.30" fill="#d7191c" fill-opacity="0.020"/>
<rect x="438.00" y="242.70" width="4.30" height="4.30" fill="#d7191c" fill-opacity="0.026"/>
<rect x="438.00" y="247.00" width="4.30" height="4.30" fill="#d7191c" fill-opacity="0.037"/>
<rect x="438.00" y="251.30" width="4.30" height="4.30" fill="#d7191c" fill-opacity="0.038"/>
<rect x="438.00" y="255.60" width="4.30" height="4.30" fill="#d7191c" fill-opacity="0.027"/>
<rect x="442.30" y="242.70" width="4.30" height="4.30" fill="#d7191c" fill-opacity="0.028"/>
<rect x="442.30" y="247.00" width="4.30" height="4.30" fill="#d7191c" fill-opacity="0.043"/>
<rect x="442.30" y="251.30" width="4.30" height="4.30" fill="#d7191c" fill-opacity="0.045"/>
<rect x="442.30" y="255.60" width="4.30" height="4.30" fill="#d7191c" fill-opacity="0.033"/>
<rect x="442.30" y="259.90" width="4.30" height="4.30" fill="#d7191c" fill-opacity="0.017"/>
<rect x="446.60" y="242.70" width="4.30" height="4.30" fill="#d7191c" fill-opacity="0.030"/>
<rect x="446.60" y="247.00" width="4.30" height="4.30" fill="#d7191c" fill-opacity="0.046"/>
<rect x="446.60" y="251.30" width="4.30" height="4.30" fill="#d7191c" fill-opacity="0.049"/>
<rect x="446.60" y="255.60" width="4.30" height="4.30" fill="#d7191c" fill-opacity="0.036"/>
<rect x="446.60" y="259.90" width="4.30" height="4.30" fill="#d7191c" fill-opacity="0.018"/>
<rect x="450.90" y="242.70" width="4.30" height="4.30" fill="#d7191c" fill-opacity="0.025"/>
<rect x="450.90" y="247.00" width="4.30" height="4.30" fill="#d7191c" fill-opacity="0.039"/>
<rect x="450.90" y="251.30" width="4.30" height="4.30" fill="#d7191c" fill-opacity="0.042"/>
<rect x="450.90" y="255.60" width="4.30" height="4.30" fill="#d7191c" fill-opacity="0.030"/>
<rect x="450.90" y="259.90" width="4.30" height="4.30" fill="#d7191c" fill-opacity="0.015"/>
<rect x="455.20" y="242.70" width="4.30" height="4.30" fill="#d7191c" fill-opacity="0.017"/>
<rect x="455.20" y="247.00" width="4.30" height="4.30" fill="#d7191c" fill-opacity="0.027"/>
<rect x="455.20" y="251.30" width="4.30" height="4.30" fill="#d7191c" fill-opacity="0.029"/>
<rect x="455.20" y="255.60" width="4.30" height="4.30" fill="#d7191c" fill-opacity="0.021"/>
<rect x="459.50" y="251.30" width="4.30" height="4.30" fill="#d7191c" fill-opacity="0.015"/>
<path d="M492.50 167.75 C492.04 164.33 494.25 162.46 496.00 160.00 C497.75 157.54 500.00 155.45 503.00 153.00 C506.00 150.55 509.92 147.50 514.00 145.30 C518.08 143.10 523.25 141.47 527.50 139.80 C531.75 138.13 535.33 136.40 539.50 135.30 C543.67 134.20 548.25 133.50 552.50 133.20 C556.75 132.90 560.83 133.16 565.00 133.50 C569.17 133.84 573.33 134.33 577.50 135.25 C581.67 136.17 585.83 137.54 590.00 139.00 C594.17 140.46 598.75 141.92 602.50 144.00 C606.25 146.08 610.00 149.00 612.50 151.50 C615.00 154.00 616.17 156.29 617.50 159.00 C618.83 161.71 620.29 165.42 620.50 167.75 C620.71 170.08 620.50 170.88 618.75 173.00 C617.00 175.12 612.92 177.58 610.00 180.50 C607.08 183.42 603.96 186.33 601.25 190.50 C598.54 194.67 595.83 200.50 593.75 205.50 C591.67 210.50 590.62 215.92 588.75 220.50 C586.88 225.08 585.21 228.83 582.50 233.00 C579.79 237.17 575.42 242.38 572.50 245.50 C569.58 248.62 568.33 249.83 565.00 251.75 C561.67 253.67 556.67 255.29 552.50 257.00 C548.33 258.71 544.17 260.83 540.00 262.00 C535.83 263.17 531.67 264.00 527.50 264.00 C523.33 264.00 518.75 263.17 515.00 262.00 C511.25 260.83 507.92 258.67 505.00 257.00 C502.08 255.33 499.58 254.33 497.50 252.00 C495.42 249.67 493.33 246.58 492.50 243.00 C491.67 239.42 491.88 234.67 492.50 230.50 C493.12 226.33 494.79 222.17 496.25 218.00 C497.71 213.83 500.21 209.67 501.25 205.50 C502.29 201.33 502.92 197.17 502.50 193.00 C502.08 188.83 500.42 184.71 498.75 180.50 C497.08 176.29 492.96 171.17 492.50 167.75Z" fill="none" stroke="#d6121a" stroke-width="2.40" stroke-linejoin="round" stroke-linecap="butt"/>
<path d="M410.00 213.50 C411.67 212.67 417.50 209.21 420.00 208.50 C422.50 207.79 422.92 208.08 425.00 209.25 C427.08 210.42 430.00 213.54 432.50 215.50 C435.00 217.46 437.08 219.42 440.00 221.00 C442.92 222.58 446.67 223.42 450.00 225.00 C453.33 226.58 457.08 228.12 460.00 230.50 C462.92 232.88 465.42 236.33 467.50 239.25 C469.58 242.17 471.33 245.46 472.50 248.00 C473.67 250.54 474.29 252.17 474.50 254.50 C474.71 256.83 474.92 259.29 473.75 262.00 C472.58 264.71 469.79 268.04 467.50 270.75 C465.21 273.46 462.29 276.38 460.00 278.25 C457.71 280.12 456.04 282.00 453.75 282.00 C451.46 282.00 448.75 279.50 446.25 278.25 C443.75 277.00 441.04 274.79 438.75 274.50 C436.46 274.21 434.58 276.29 432.50 276.50 C430.42 276.71 428.54 276.71 426.25 275.75 C423.96 274.79 421.46 272.62 418.75 270.75 C416.04 268.88 411.46 265.54 410.00 264.50" fill="none" stroke="#d6121a" stroke-width="2.40" stroke-linejoin="round" stroke-linecap="butt"/>
<polygon points="425.70,243.90 427.02,247.48 431.03,247.56 427.83,249.86 428.99,253.49 425.70,251.32 422.41,253.49 423.57,249.86 420.37,247.56 424.38,247.48" fill="#d6121a" stroke="#1a1a1a" stroke-width="0.80" stroke-linejoin="miter"/>
<path d="M656.00 116.00 C654.17 116.08 649.75 116.50 645.00 116.50 C640.25 116.50 633.33 116.62 627.50 116.00 C621.67 115.38 616.25 113.50 610.00 112.75 C603.75 112.00 597.50 111.62 590.00 111.50 C582.50 111.38 571.25 111.42 565.00 112.00 C558.75 112.58 556.75 113.70 552.50 115.00 C548.25 116.30 543.25 118.58 539.50 119.80 C535.75 121.02 533.08 121.43 530.00 122.30 C526.92 123.17 524.00 123.88 521.00 125.00 C518.00 126.12 514.83 127.25 512.00 129.00 C509.17 130.75 506.17 133.00 504.00 135.50 C501.83 138.00 500.12 140.92 499.00 144.00 C497.88 147.08 497.34 150.04 497.30 154.00 C497.26 157.96 498.23 165.08 498.75 167.75 C499.27 170.42 499.94 168.24 500.40 170.00 C500.86 171.76 500.63 174.83 501.50 178.30 C502.37 181.77 503.87 186.98 505.60 190.80 C507.33 194.62 509.63 198.30 511.90 201.25 C514.17 204.20 516.60 205.89 519.20 208.50 C521.80 211.11 524.90 215.05 527.50 216.90 C530.10 218.75 532.02 218.78 534.80 219.60 C537.58 220.42 541.25 220.78 544.20 221.80 C547.15 222.82 549.70 224.80 552.50 225.70 C555.30 226.60 558.08 226.82 561.00 227.20 C563.92 227.58 566.42 227.90 570.00 228.00 C573.58 228.10 577.92 228.13 582.50 227.80 C587.08 227.47 592.92 226.59 597.50 226.00 C602.08 225.41 605.42 224.96 610.00 224.25 C614.58 223.54 620.00 222.58 625.00 221.75 C630.00 220.92 635.83 220.38 640.00 219.25 C644.17 218.12 647.33 216.12 650.00 215.00 C652.67 213.88 655.00 212.92 656.00 212.50" fill="none" stroke="#fcaa5c" stroke-width="2.40" stroke-linejoin="round" stroke-linecap="butt"/>
<polygon points="615.20,181.00 616.52,184.58 620.53,184.66 617.33,186.96 618.49,190.59 615.20,188.42 611.91,190.59 613.07,186.96 609.87,184.66 613.88,184.58" fill="#fcaa5c" stroke="#1a1a1a" stroke-width="0.80" stroke-linejoin="miter"/>
<path d="M656.00 114.00 C653.33 114.21 646.83 115.04 640.00 115.25 C633.17 115.46 622.50 115.04 615.00 115.25 C607.50 115.46 600.00 115.46 595.00 116.50 C590.00 117.54 590.00 120.67 585.00 121.50 C580.00 122.33 570.42 121.50 565.00 121.50 C559.58 121.50 556.75 120.92 552.50 121.50 C548.25 122.08 543.25 124.58 539.50 125.00 C535.75 125.42 533.58 124.40 530.00 124.00 C526.42 123.60 521.33 122.92 518.00 122.60 C514.67 122.28 512.87 122.25 510.00 122.10 C507.13 121.95 503.72 122.05 500.80 121.70 C497.88 121.35 494.75 120.80 492.50 120.00 C490.25 119.20 489.03 117.87 487.30 116.90 C485.57 115.93 483.83 114.55 482.10 114.20 C480.37 113.85 478.47 113.83 476.90 114.80 C475.33 115.77 474.10 118.78 472.70 120.00 C471.30 121.22 469.88 121.13 468.50 122.10 C467.12 123.07 466.30 125.38 464.40 125.80 C462.50 126.22 459.71 124.60 457.10 124.60 C454.49 124.60 451.18 126.22 448.75 125.80 C446.32 125.38 444.06 123.93 442.50 122.10 C440.94 120.27 440.10 117.58 439.40 114.80 C438.70 112.02 438.13 109.40 438.30 105.40 C438.47 101.40 439.53 94.42 440.40 90.80 C441.27 87.18 442.57 84.97 443.50 83.70 C444.43 82.43 445.12 83.12 446.00 83.20 C446.88 83.28 447.42 82.58 448.75 84.20 C450.08 85.82 452.26 89.72 454.00 92.90 C455.74 96.08 457.65 100.00 459.20 103.30 C460.75 106.60 461.92 109.75 463.30 112.70 C464.68 115.65 466.28 118.92 467.50 121.00 C468.72 123.08 469.38 123.63 470.60 125.20 C471.82 126.77 473.58 128.48 474.80 130.40 C476.02 132.32 477.03 134.02 477.90 136.70 C478.77 139.38 478.82 143.20 480.00 146.50 C481.18 149.80 482.92 153.58 485.00 156.50 C487.08 159.42 490.62 161.75 492.50 164.00 C494.38 166.25 494.93 167.27 496.25 170.00 C497.57 172.73 498.49 177.28 500.40 180.40 C502.31 183.53 505.78 186.83 507.70 188.75 C509.62 190.67 510.35 189.99 511.90 191.90 C513.45 193.81 515.10 198.30 517.00 200.20 C518.90 202.10 520.85 202.08 523.30 203.30 C525.75 204.52 529.08 205.58 531.70 207.50 C534.32 209.42 536.92 212.72 539.00 214.80 C541.08 216.88 541.95 218.62 544.20 220.00 C546.45 221.38 549.37 222.33 552.50 223.10 C555.63 223.87 559.25 224.25 563.00 224.60 C566.75 224.95 570.50 225.22 575.00 225.20 C579.50 225.18 584.17 224.95 590.00 224.50 C595.83 224.05 603.33 223.25 610.00 222.50 C616.67 221.75 624.17 221.08 630.00 220.00 C635.83 218.92 640.67 217.33 645.00 216.00 C649.33 214.67 654.17 212.67 656.00 212.00" fill="none" stroke="#a6d8ec" stroke-width="2.40" stroke-linejoin="round" stroke-linecap="butt"/>
<polygon points="591.30,170.70 592.62,174.28 596.63,174.36 593.43,176.66 594.59,180.29 591.30,178.12 588.01,180.29 589.17,176.66 585.97,174.36 589.98,174.28" fill="#a6d8ec" stroke="#1a1a1a" stroke-width="0.80" stroke-linejoin="miter"/>
<path d="M656.00 109.50 C654.83 109.59 643.01 110.55 640.00 110.75 C636.99 110.95 618.67 111.86 615.00 112.25 C611.33 112.64 593.67 115.60 590.00 116.00 C586.33 116.40 567.57 117.44 565.00 117.75 C562.43 118.06 556.28 119.70 555.00 120.25 C553.72 120.80 548.60 124.42 547.50 125.25 C546.40 126.08 541.06 130.46 540.00 131.50 C538.94 132.54 533.90 138.38 533.00 139.50 C532.10 140.62 528.47 146.19 527.70 146.80 C526.93 147.41 523.11 148.11 522.50 147.80 C521.89 147.49 520.09 143.08 519.40 142.60 C518.71 142.12 513.86 141.20 513.10 141.20 C512.34 141.20 509.38 142.12 509.00 142.60 C508.62 143.08 507.83 146.96 507.90 147.80 C507.97 148.64 509.77 153.26 510.00 154.10 C510.23 154.94 511.31 158.76 511.00 159.30 C510.69 159.84 506.25 161.02 505.80 161.40 C505.35 161.78 504.49 164.27 504.80 164.50 C505.11 164.73 509.31 164.12 510.00 164.50 C510.69 164.88 512.92 168.76 514.20 169.70 C515.48 170.64 525.99 175.98 527.50 177.30 C529.01 178.62 533.81 186.33 534.80 187.70 C535.79 189.07 540.47 194.70 541.00 196.00 C541.53 197.30 541.69 204.48 542.00 205.40 C542.31 206.32 544.43 208.50 545.20 208.50 C545.97 208.50 551.58 205.60 552.50 205.40 C553.42 205.20 556.86 205.19 557.70 205.80 C558.54 206.41 563.10 212.97 564.00 213.75 C564.90 214.53 569.01 216.37 570.00 216.50 C570.99 216.63 576.40 215.30 577.50 215.50 C578.60 215.70 583.53 218.79 585.00 219.25 C586.47 219.71 595.30 221.57 597.50 221.75 C599.70 221.93 612.80 221.88 615.00 221.75 C617.20 221.62 625.67 220.09 627.50 220.00 C629.33 219.91 638.53 220.72 640.00 220.50 C641.47 220.28 646.69 217.62 647.50 217.00 C648.31 216.38 650.52 212.15 651.00 212.00 C651.48 211.85 654.07 214.52 654.00 215.00 C653.93 215.48 650.44 217.99 650.00 218.50 C649.56 219.01 647.93 221.49 648.00 222.00 C648.07 222.51 650.41 225.10 651.00 225.50 C651.59 225.90 655.63 227.35 656.00 227.50" fill="none" stroke="#2575b7" stroke-width="2.40" stroke-linejoin="round" stroke-linecap="butt"/>
<path d="M568.50 239.30 C568.50 238.30 569.50 236.80 570.50 236.30 C571.50 235.80 573.42 235.85 574.50 236.30 C575.58 236.75 577.00 238.05 577.00 239.00 C577.00 239.95 575.58 241.45 574.50 242.00 C573.42 242.55 571.50 242.75 570.50 242.30 C569.50 241.85 568.50 240.30 568.50 239.30Z" fill="none" stroke="#2575b7" stroke-width="2.40" stroke-linejoin="round" stroke-linecap="butt"/>
<polygon points="609.60,156.30 610.92,159.88 614.93,159.96 611.73,162.26 612.89,165.89 609.60,163.72 606.31,165.89 607.47,162.26 604.27,159.96 608.28,159.88" fill="#2575b7" stroke="#1a1a1a" stroke-width="0.80" stroke-linejoin="miter"/>
</g>
<rect x="412.20" y="8.00" width="243.00" height="58.40" fill="none" stroke="#8c8c8c" stroke-width="1.00"/>
<rect x="655.20" y="66.40" width="61.20" height="237.00" fill="none" stroke="#8c8c8c" stroke-width="1.00"/>
<rect x="412.20" y="66.40" width="243.00" height="237.00" fill="none" stroke="#8c8c8c" stroke-width="1.00"/>
<g clip-path="url(#crt)">
<path d="M411.65 66.40 L411.65 66.40 L414.85 66.40 L414.85 63.00 L418.05 63.00 L418.05 61.00 L421.25 61.00 L421.25 25.40 L424.45 25.40 L424.45 -8.60 L427.65 -8.60 L427.65 42.90 L430.85 42.90 L430.85 61.80 L434.05 61.80 L434.05 64.40 L437.25 64.40 L437.25 63.33 L440.45 63.33 L440.45 62.08 L443.65 62.08 L443.65 60.84 L446.85 60.84 L446.85 60.07 L450.05 60.07 L450.05 59.49 L453.25 59.49 L453.25 60.16 L456.45 60.16 L456.45 61.42 L459.65 61.42 L459.65 63.01 L462.85 63.01 L462.85 64.45 L466.05 64.45 L466.05 65.65 L469.25 65.65 L469.25 65.89 L472.45 65.89 L472.45 66.13 L475.65 66.13 L475.65 66.20 L478.85 66.20 L478.85 66.20 L482.05 66.20 L482.05 66.20 L485.25 66.20 L485.25 66.20 L488.45 66.20 L488.45 66.20 L491.65 66.20 L491.65 65.98 L494.85 65.98 L494.85 65.77 L498.05 65.77 L498.05 65.56 L501.25 65.56 L501.25 65.10 L504.45 65.10 L504.45 63.98 L507.65 63.98 L507.65 62.86 L510.85 62.86 L510.85 62.27 L514.05 62.27 L514.05 61.85 L517.25 61.85 L517.25 61.42 L520.45 61.42 L520.45 61.00 L523.65 61.00 L523.65 60.97 L526.85 60.97 L526.85 60.95 L530.05 60.95 L530.05 60.92 L533.25 60.92 L533.25 60.92 L536.45 60.92 L536.45 61.01 L539.65 61.01 L539.65 61.10 L542.85 61.10 L542.85 61.18 L546.05 61.18 L546.05 61.33 L549.25 61.33 L549.25 61.48 L552.45 61.48 L552.45 61.64 L555.65 61.64 L555.65 61.80 L558.85 61.80 L558.85 61.95 L562.05 61.95 L562.05 62.12 L565.25 62.12 L565.25 62.48 L568.45 62.48 L568.45 62.84 L571.65 62.84 L571.65 63.20 L574.85 63.20 L574.85 63.56 L578.05 63.56 L578.05 63.92 L581.25 63.92 L581.25 64.28 L584.45 64.28 L584.45 64.39 L587.65 64.39 L587.65 64.49 L590.85 64.49 L590.85 64.58 L594.05 64.58 L594.05 64.68 L597.25 64.68 L597.25 64.78 L600.45 64.78 L600.45 64.87 L603.65 64.87 L603.65 64.93 L606.85 64.93 L606.85 64.96 L610.05 64.96 L610.05 65.00 L613.25 65.00 L613.25 65.04 L616.45 65.04 L616.45 65.08 L619.65 65.08 L619.65 65.10 L622.85 65.10 L622.85 65.10 L626.05 65.10 L626.05 65.10 L629.25 65.10 L629.25 65.10 L632.45 65.10 L632.45 65.10 L635.65 65.10 L635.65 65.10 L638.85 65.10 L638.85 65.10 L642.05 65.10 L642.05 65.10 L645.25 65.10 L645.25 65.10 L648.45 65.10 L648.45 65.10 L651.65 65.10 L651.65 65.10 L654.85 65.10 L654.85 66.40Z" fill="#d6121a" fill-opacity="0.18" stroke="none"/>
<path d="M470.00 66.40 L470.00 66.38 L471.62 66.38 L471.62 66.35 L473.24 66.35 L473.24 66.32 L474.86 66.32 L474.86 66.29 L476.48 66.29 L476.48 66.25 L478.10 66.25 L478.10 66.22 L479.72 66.22 L479.72 66.19 L481.34 66.19 L481.34 66.16 L482.96 66.16 L482.96 66.12 L484.58 66.12 L484.58 66.10 L486.20 66.10 L486.20 66.06 L487.82 66.06 L487.82 66.05 L489.44 66.05 L489.44 65.98 L491.06 65.98 L491.06 65.98 L492.68 65.98 L492.68 65.94 L494.30 65.94 L494.30 65.89 L495.92 65.89 L495.92 65.80 L497.54 65.80 L497.54 65.70 L499.16 65.70 L499.16 65.59 L500.78 65.59 L500.78 65.45 L502.40 65.45 L502.40 65.29 L504.02 65.29 L504.02 65.24 L505.64 65.24 L505.64 65.17 L507.26 65.17 L507.26 65.01 L508.88 65.01 L508.88 64.94 L510.50 64.94 L510.50 64.70 L512.12 64.70 L512.12 64.40 L513.74 64.40 L513.74 64.26 L515.36 64.26 L515.36 63.97 L516.98 63.97 L516.98 63.79 L518.60 63.79 L518.60 63.50 L520.22 63.50 L520.22 63.23 L521.84 63.23 L521.84 63.10 L523.46 63.10 L523.46 62.82 L525.08 62.82 L525.08 62.58 L526.70 62.58 L526.70 62.39 L528.32 62.39 L528.32 62.22 L529.94 62.22 L529.94 62.03 L531.56 62.03 L531.56 61.65 L533.18 61.65 L533.18 61.44 L534.80 61.44 L534.80 60.77 L536.42 60.77 L536.42 61.09 L538.04 61.09 L538.04 60.39 L539.66 60.39 L539.66 60.02 L541.28 60.02 L541.28 59.52 L542.90 59.52 L542.90 59.33 L544.52 59.33 L544.52 59.24 L546.14 59.24 L546.14 58.76 L547.76 58.76 L547.76 58.32 L549.38 58.32 L549.38 58.16 L551.00 58.16 L551.00 57.60 L552.62 57.60 L552.62 57.85 L554.24 57.85 L554.24 56.89 L555.86 56.89 L555.86 56.82 L557.48 56.82 L557.48 57.12 L559.10 57.12 L559.10 56.77 L560.72 56.77 L560.72 56.78 L562.34 56.78 L562.34 56.86 L563.96 56.86 L563.96 56.51 L565.58 56.51 L565.58 56.16 L567.20 56.16 L567.20 56.38 L568.82 56.38 L568.82 56.26 L570.44 56.26 L570.44 56.05 L572.06 56.05 L572.06 55.80 L573.68 55.80 L573.68 55.65 L575.30 55.65 L575.30 56.25 L576.92 56.25 L576.92 56.05 L578.54 56.05 L578.54 56.22 L580.16 56.22 L580.16 56.83 L581.78 56.83 L581.78 56.57 L583.40 56.57 L583.40 56.59 L585.02 56.59 L585.02 56.66 L586.64 56.66 L586.64 56.67 L588.26 56.67 L588.26 57.33 L589.88 57.33 L589.88 56.94 L591.50 56.94 L591.50 57.24 L593.12 57.24 L593.12 57.53 L594.74 57.53 L594.74 57.21 L596.36 57.21 L596.36 57.29 L597.98 57.29 L597.98 57.72 L599.60 57.72 L599.60 57.52 L601.22 57.52 L601.22 57.91 L602.84 57.91 L602.84 57.94 L604.46 57.94 L604.46 58.33 L606.08 58.33 L606.08 57.92 L607.70 57.92 L607.70 58.92 L609.32 58.92 L609.32 58.55 L610.94 58.55 L610.94 58.54 L612.56 58.54 L612.56 59.21 L614.18 59.21 L614.18 59.00 L615.80 59.00 L615.80 59.12 L617.42 59.12 L617.42 58.97 L619.04 58.97 L619.04 58.92 L620.66 58.92 L620.66 59.24 L622.28 59.24 L622.28 59.43 L623.90 59.43 L623.90 58.96 L625.52 58.96 L625.52 59.01 L627.14 59.01 L627.14 59.33 L628.76 59.33 L628.76 59.21 L630.38 59.21 L630.38 59.22 L632.00 59.22 L632.00 59.21 L633.62 59.21 L633.62 59.30 L635.24 59.30 L635.24 59.10 L636.86 59.10 L636.86 59.68 L638.48 59.68 L638.48 59.21 L640.10 59.21 L640.10 59.35 L641.72 59.35 L641.72 59.47 L643.34 59.47 L643.34 59.25 L644.96 59.25 L644.96 59.88 L646.58 59.88 L646.58 59.30 L648.20 59.30 L648.20 59.45 L649.82 59.45 L649.82 59.74 L651.44 59.74 L651.44 59.49 L653.06 59.49 L653.06 59.63 L654.68 59.63 L654.68 66.40Z" fill="#fcaa5c" fill-opacity="0.18" stroke="none"/>
<path d="M430.00 66.40 L430.00 66.30 L431.62 66.30 L431.62 66.11 L433.24 66.11 L433.24 65.89 L434.86 65.89 L434.86 65.73 L436.48 65.73 L436.48 65.54 L438.10 65.54 L438.10 65.36 L439.72 65.36 L439.72 65.18 L441.34 65.18 L441.34 65.28 L442.96 65.28 L442.96 65.17 L444.58 65.17 L444.58 65.26 L446.20 65.26 L446.20 65.24 L447.82 65.24 L447.82 65.26 L449.44 65.26 L449.44 65.23 L451.06 65.23 L451.06 65.34 L452.68 65.34 L452.68 65.30 L454.30 65.30 L454.30 65.31 L455.92 65.31 L455.92 65.28 L457.54 65.28 L457.54 65.35 L459.16 65.35 L459.16 65.34 L460.78 65.34 L460.78 65.37 L462.40 65.37 L462.40 65.35 L464.02 65.35 L464.02 65.35 L465.64 65.35 L465.64 65.40 L467.26 65.40 L467.26 65.36 L468.88 65.36 L468.88 65.38 L470.50 65.38 L470.50 65.39 L472.12 65.39 L472.12 65.38 L473.74 65.38 L473.74 65.42 L475.36 65.42 L475.36 65.40 L476.98 65.40 L476.98 65.42 L478.60 65.42 L478.60 65.41 L480.22 65.41 L480.22 65.39 L481.84 65.39 L481.84 65.42 L483.46 65.42 L483.46 65.41 L485.08 65.41 L485.08 65.42 L486.70 65.42 L486.70 65.42 L488.32 65.42 L488.32 65.42 L489.94 65.42 L489.94 65.40 L491.56 65.40 L491.56 65.43 L493.18 65.43 L493.18 65.39 L494.80 65.39 L494.80 65.36 L496.42 65.36 L496.42 65.38 L498.04 65.38 L498.04 65.40 L499.66 65.40 L499.66 65.40 L501.28 65.40 L501.28 65.32 L502.90 65.32 L502.90 65.16 L504.52 65.16 L504.52 65.13 L506.14 65.13 L506.14 65.07 L507.76 65.07 L507.76 64.96 L509.38 64.96 L509.38 64.81 L511.00 64.81 L511.00 64.80 L512.62 64.80 L512.62 64.70 L514.24 64.70 L514.24 64.63 L515.86 64.63 L515.86 64.58 L517.48 64.58 L517.48 64.54 L519.10 64.54 L519.10 64.42 L520.72 64.42 L520.72 64.25 L522.34 64.25 L522.34 64.03 L523.96 64.03 L523.96 63.84 L525.58 63.84 L525.58 63.65 L527.20 63.65 L527.20 63.52 L528.82 63.52 L528.82 63.30 L530.44 63.30 L530.44 63.26 L532.06 63.26 L532.06 62.92 L533.68 62.92 L533.68 62.79 L535.30 62.79 L535.30 62.66 L536.92 62.66 L536.92 62.38 L538.54 62.38 L538.54 62.23 L540.16 62.23 L540.16 61.89 L541.78 61.89 L541.78 61.63 L543.40 61.63 L543.40 61.34 L545.02 61.34 L545.02 61.57 L546.64 61.57 L546.64 61.37 L548.26 61.37 L548.26 61.05 L549.88 61.05 L549.88 60.75 L551.50 60.75 L551.50 60.44 L553.12 60.44 L553.12 60.30 L554.74 60.30 L554.74 60.44 L556.36 60.44 L556.36 59.94 L557.98 59.94 L557.98 59.51 L559.60 59.51 L559.60 59.38 L561.22 59.38 L561.22 59.05 L562.84 59.05 L562.84 59.00 L564.46 59.00 L564.46 58.76 L566.08 58.76 L566.08 58.45 L567.70 58.45 L567.70 58.17 L569.32 58.17 L569.32 57.98 L570.94 57.98 L570.94 57.90 L572.56 57.90 L572.56 58.13 L574.18 58.13 L574.18 57.96 L575.80 57.96 L575.80 58.08 L577.42 58.08 L577.42 57.93 L579.04 57.93 L579.04 57.97 L580.66 57.97 L580.66 58.24 L582.28 58.24 L582.28 58.41 L583.90 58.41 L583.90 58.52 L585.52 58.52 L585.52 58.33 L587.14 58.33 L587.14 58.42 L588.76 58.42 L588.76 58.53 L590.38 58.53 L590.38 58.47 L592.00 58.47 L592.00 58.63 L593.62 58.63 L593.62 58.39 L595.24 58.39 L595.24 58.64 L596.86 58.64 L596.86 58.33 L598.48 58.33 L598.48 58.51 L600.10 58.51 L600.10 58.49 L601.72 58.49 L601.72 58.82 L603.34 58.82 L603.34 58.58 L604.96 58.58 L604.96 58.48 L606.58 58.48 L606.58 58.81 L608.20 58.81 L608.20 58.68 L609.82 58.68 L609.82 58.63 L611.44 58.63 L611.44 58.91 L613.06 58.91 L613.06 58.59 L614.68 58.59 L614.68 58.49 L616.30 58.49 L616.30 58.83 L617.92 58.83 L617.92 58.60 L619.54 58.60 L619.54 58.93 L621.16 58.93 L621.16 58.69 L622.78 58.69 L622.78 59.00 L624.40 59.00 L624.40 58.48 L626.02 58.48 L626.02 58.62 L627.64 58.62 L627.64 58.71 L629.26 58.71 L629.26 58.86 L630.88 58.86 L630.88 58.47 L632.50 58.47 L632.50 58.34 L634.12 58.34 L634.12 59.08 L635.74 59.08 L635.74 58.50 L637.36 58.50 L637.36 58.43 L638.98 58.43 L638.98 58.68 L640.60 58.68 L640.60 58.98 L642.22 58.98 L642.22 58.59 L643.84 58.59 L643.84 58.80 L645.46 58.80 L645.46 58.88 L647.08 58.88 L647.08 59.01 L648.70 59.01 L648.70 58.67 L650.32 58.67 L650.32 58.63 L651.94 58.63 L651.94 58.91 L653.56 58.91 L653.56 58.70 L655.18 58.70 L655.18 66.40Z" fill="#a6d8ec" fill-opacity="0.18" stroke="none"/>
<path d="M436.00 66.40 L436.00 66.22 L437.62 66.22 L437.62 65.83 L439.24 65.83 L439.24 65.49 L440.86 65.49 L440.86 65.50 L442.48 65.50 L442.48 65.54 L444.10 65.54 L444.10 65.51 L445.72 65.51 L445.72 65.51 L447.34 65.51 L447.34 65.50 L448.96 65.50 L448.96 65.51 L450.58 65.51 L450.58 65.50 L452.20 65.50 L452.20 65.51 L453.82 65.51 L453.82 65.53 L455.44 65.53 L455.44 65.48 L457.06 65.48 L457.06 65.48 L458.68 65.48 L458.68 65.46 L460.30 65.46 L460.30 65.50 L461.92 65.50 L461.92 65.51 L463.54 65.51 L463.54 65.51 L465.16 65.51 L465.16 65.53 L466.78 65.53 L466.78 65.48 L468.40 65.48 L468.40 65.52 L470.02 65.52 L470.02 65.52 L471.64 65.52 L471.64 65.50 L473.26 65.50 L473.26 65.45 L474.88 65.45 L474.88 65.48 L476.50 65.48 L476.50 65.50 L478.12 65.50 L478.12 65.49 L479.74 65.49 L479.74 65.45 L481.36 65.45 L481.36 65.46 L482.98 65.46 L482.98 65.47 L484.60 65.47 L484.60 65.45 L486.22 65.45 L486.22 65.43 L487.84 65.43 L487.84 65.39 L489.46 65.39 L489.46 65.46 L491.08 65.46 L491.08 65.44 L492.70 65.44 L492.70 65.44 L494.32 65.44 L494.32 65.48 L495.94 65.48 L495.94 65.43 L497.56 65.43 L497.56 65.43 L499.18 65.43 L499.18 65.37 L500.80 65.37 L500.80 65.39 L502.42 65.39 L502.42 65.41 L504.04 65.41 L504.04 65.33 L505.66 65.33 L505.66 65.34 L507.28 65.34 L507.28 65.37 L508.90 65.37 L508.90 65.32 L510.52 65.32 L510.52 65.30 L512.14 65.30 L512.14 65.30 L513.76 65.30 L513.76 65.25 L515.38 65.25 L515.38 65.30 L517.00 65.30 L517.00 65.23 L518.62 65.23 L518.62 65.18 L520.24 65.18 L520.24 65.15 L521.86 65.15 L521.86 65.11 L523.48 65.11 L523.48 65.07 L525.10 65.07 L525.10 65.02 L526.72 65.02 L526.72 65.08 L528.34 65.08 L528.34 64.97 L529.96 64.97 L529.96 65.04 L531.58 65.04 L531.58 64.96 L533.20 64.96 L533.20 64.97 L534.82 64.97 L534.82 64.63 L536.44 64.63 L536.44 64.39 L538.06 64.39 L538.06 64.25 L539.68 64.25 L539.68 63.91 L541.30 63.91 L541.30 63.84 L542.92 63.84 L542.92 63.56 L544.54 63.56 L544.54 63.31 L546.16 63.31 L546.16 63.03 L547.78 63.03 L547.78 62.52 L549.40 62.52 L549.40 61.98 L551.02 61.98 L551.02 61.93 L552.64 61.93 L552.64 61.32 L554.26 61.32 L554.26 60.90 L555.88 60.90 L555.88 60.03 L557.50 60.03 L557.50 59.64 L559.12 59.64 L559.12 59.02 L560.74 59.02 L560.74 58.43 L562.36 58.43 L562.36 58.15 L563.98 58.15 L563.98 58.23 L565.60 58.23 L565.60 57.36 L567.22 57.36 L567.22 57.70 L568.84 57.70 L568.84 57.07 L570.46 57.07 L570.46 56.75 L572.08 56.75 L572.08 57.06 L573.70 57.06 L573.70 56.79 L575.32 56.79 L575.32 56.50 L576.94 56.50 L576.94 56.75 L578.56 56.75 L578.56 56.93 L580.18 56.93 L580.18 57.38 L581.80 57.38 L581.80 56.87 L583.42 56.87 L583.42 56.74 L585.04 56.74 L585.04 56.69 L586.66 56.69 L586.66 56.76 L588.28 56.76 L588.28 56.40 L589.90 56.40 L589.90 56.59 L591.52 56.59 L591.52 56.44 L593.14 56.44 L593.14 56.19 L594.76 56.19 L594.76 56.51 L596.38 56.51 L596.38 56.31 L598.00 56.31 L598.00 55.61 L599.62 55.61 L599.62 55.87 L601.24 55.87 L601.24 56.37 L602.86 56.37 L602.86 55.99 L604.48 55.99 L604.48 55.75 L606.10 55.75 L606.10 55.51 L607.72 55.51 L607.72 55.73 L609.34 55.73 L609.34 55.84 L610.96 55.84 L610.96 55.83 L612.58 55.83 L612.58 55.43 L614.20 55.43 L614.20 55.52 L615.82 55.52 L615.82 55.74 L617.44 55.74 L617.44 55.65 L619.06 55.65 L619.06 55.71 L620.68 55.71 L620.68 55.40 L622.30 55.40 L622.30 55.79 L623.92 55.79 L623.92 55.47 L625.54 55.47 L625.54 55.37 L627.16 55.37 L627.16 55.47 L628.78 55.47 L628.78 55.83 L630.40 55.83 L630.40 55.24 L632.02 55.24 L632.02 55.78 L633.64 55.78 L633.64 55.48 L635.26 55.48 L635.26 55.80 L636.88 55.80 L636.88 56.07 L638.50 56.07 L638.50 55.54 L640.12 55.54 L640.12 55.52 L641.74 55.52 L641.74 55.62 L643.36 55.62 L643.36 55.53 L644.98 55.53 L644.98 55.78 L646.60 55.78 L646.60 55.80 L648.22 55.80 L648.22 55.65 L649.84 55.65 L649.84 55.08 L651.46 55.08 L651.46 55.38 L653.08 55.38 L653.08 55.74 L654.70 55.74 L654.70 66.40Z" fill="#2575b7" fill-opacity="0.18" stroke="none"/>
<line x1="422.50" y1="8.00" x2="422.50" y2="66.40" stroke="#d6121a" stroke-width="0.90" stroke-dasharray="3.2 1.4"/>
<line x1="482.30" y1="8.00" x2="482.30" y2="66.40" stroke="#a6d8ec" stroke-width="0.90" stroke-dasharray="3.2 1.4"/>
<line x1="512.50" y1="8.00" x2="512.50" y2="66.40" stroke="#fcaa5c" stroke-width="0.90" stroke-dasharray="3.2 1.4"/>
<line x1="529.00" y1="8.00" x2="529.00" y2="66.40" stroke="#2575b7" stroke-width="0.90" stroke-dasharray="3.2 1.4"/>
<line x1="595.50" y1="8.00" x2="595.50" y2="66.40" stroke="#d6121a" stroke-width="0.90" stroke-dasharray="3.2 1.4"/>
<line x1="646.60" y1="8.00" x2="646.60" y2="66.40" stroke="#fcaa5c" stroke-width="0.90" stroke-dasharray="3.2 1.4"/>
<line x1="648.00" y1="8.00" x2="648.00" y2="66.40" stroke="#a6d8ec" stroke-width="0.90" stroke-dasharray="3.2 1.4"/>
<line x1="649.40" y1="8.00" x2="649.40" y2="66.40" stroke="#2575b7" stroke-width="0.90" stroke-dasharray="3.2 1.4"/>
<path d="M411.65 66.40 L411.65 66.40 L414.85 66.40 L414.85 63.00 L418.05 63.00 L418.05 61.00 L421.25 61.00 L421.25 25.40 L424.45 25.40 L424.45 -8.60 L427.65 -8.60 L427.65 42.90 L430.85 42.90 L430.85 61.80 L434.05 61.80 L434.05 64.40 L437.25 64.40 L437.25 63.33 L440.45 63.33 L440.45 62.08 L443.65 62.08 L443.65 60.84 L446.85 60.84 L446.85 60.07 L450.05 60.07 L450.05 59.49 L453.25 59.49 L453.25 60.16 L456.45 60.16 L456.45 61.42 L459.65 61.42 L459.65 63.01 L462.85 63.01 L462.85 64.45 L466.05 64.45 L466.05 65.65 L469.25 65.65 L469.25 65.89 L472.45 65.89 L472.45 66.13 L475.65 66.13 L475.65 66.20 L478.85 66.20 L478.85 66.20 L482.05 66.20 L482.05 66.20 L485.25 66.20 L485.25 66.20 L488.45 66.20 L488.45 66.20 L491.65 66.20 L491.65 65.98 L494.85 65.98 L494.85 65.77 L498.05 65.77 L498.05 65.56 L501.25 65.56 L501.25 65.10 L504.45 65.10 L504.45 63.98 L507.65 63.98 L507.65 62.86 L510.85 62.86 L510.85 62.27 L514.05 62.27 L514.05 61.85 L517.25 61.85 L517.25 61.42 L520.45 61.42 L520.45 61.00 L523.65 61.00 L523.65 60.97 L526.85 60.97 L526.85 60.95 L530.05 60.95 L530.05 60.92 L533.25 60.92 L533.25 60.92 L536.45 60.92 L536.45 61.01 L539.65 61.01 L539.65 61.10 L542.85 61.10 L542.85 61.18 L546.05 61.18 L546.05 61.33 L549.25 61.33 L549.25 61.48 L552.45 61.48 L552.45 61.64 L555.65 61.64 L555.65 61.80 L558.85 61.80 L558.85 61.95 L562.05 61.95 L562.05 62.12 L565.25 62.12 L565.25 62.48 L568.45 62.48 L568.45 62.84 L571.65 62.84 L571.65 63.20 L574.85 63.20 L574.85 63.56 L578.05 63.56 L578.05 63.92 L581.25 63.92 L581.25 64.28 L584.45 64.28 L584.45 64.39 L587.65 64.39 L587.65 64.49 L590.85 64.49 L590.85 64.58 L594.05 64.58 L594.05 64.68 L597.25 64.68 L597.25 64.78 L600.45 64.78 L600.45 64.87 L603.65 64.87 L603.65 64.93 L606.85 64.93 L606.85 64.96 L610.05 64.96 L610.05 65.00 L613.25 65.00 L613.25 65.04 L616.45 65.04 L616.45 65.08 L619.65 65.08 L619.65 65.10 L622.85 65.10 L622.85 65.10 L626.05 65.10 L626.05 65.10 L629.25 65.10 L629.25 65.10 L632.45 65.10 L632.45 65.10 L635.65 65.10 L635.65 65.10 L638.85 65.10 L638.85 65.10 L642.05 65.10 L642.05 65.10 L645.25 65.10 L645.25 65.10 L648.45 65.10 L648.45 65.10 L651.65 65.10 L651.65 65.10 L654.85 65.10 L654.85 66.40" fill="none" stroke="#d6121a" stroke-width="1.70" stroke-linejoin="miter"/>
<path d="M470.00 66.40 L470.00 66.38 L471.62 66.38 L471.62 66.35 L473.24 66.35 L473.24 66.32 L474.86 66.32 L474.86 66.29 L476.48 66.29 L476.48 66.25 L478.10 66.25 L478.10 66.22 L479.72 66.22 L479.72 66.19 L481.34 66.19 L481.34 66.16 L482.96 66.16 L482.96 66.12 L484.58 66.12 L484.58 66.10 L486.20 66.10 L486.20 66.06 L487.82 66.06 L487.82 66.05 L489.44 66.05 L489.44 65.98 L491.06 65.98 L491.06 65.98 L492.68 65.98 L492.68 65.94 L494.30 65.94 L494.30 65.89 L495.92 65.89 L495.92 65.80 L497.54 65.80 L497.54 65.70 L499.16 65.70 L499.16 65.59 L500.78 65.59 L500.78 65.45 L502.40 65.45 L502.40 65.29 L504.02 65.29 L504.02 65.24 L505.64 65.24 L505.64 65.17 L507.26 65.17 L507.26 65.01 L508.88 65.01 L508.88 64.94 L510.50 64.94 L510.50 64.70 L512.12 64.70 L512.12 64.40 L513.74 64.40 L513.74 64.26 L515.36 64.26 L515.36 63.97 L516.98 63.97 L516.98 63.79 L518.60 63.79 L518.60 63.50 L520.22 63.50 L520.22 63.23 L521.84 63.23 L521.84 63.10 L523.46 63.10 L523.46 62.82 L525.08 62.82 L525.08 62.58 L526.70 62.58 L526.70 62.39 L528.32 62.39 L528.32 62.22 L529.94 62.22 L529.94 62.03 L531.56 62.03 L531.56 61.65 L533.18 61.65 L533.18 61.44 L534.80 61.44 L534.80 60.77 L536.42 60.77 L536.42 61.09 L538.04 61.09 L538.04 60.39 L539.66 60.39 L539.66 60.02 L541.28 60.02 L541.28 59.52 L542.90 59.52 L542.90 59.33 L544.52 59.33 L544.52 59.24 L546.14 59.24 L546.14 58.76 L547.76 58.76 L547.76 58.32 L549.38 58.32 L549.38 58.16 L551.00 58.16 L551.00 57.60 L552.62 57.60 L552.62 57.85 L554.24 57.85 L554.24 56.89 L555.86 56.89 L555.86 56.82 L557.48 56.82 L557.48 57.12 L559.10 57.12 L559.10 56.77 L560.72 56.77 L560.72 56.78 L562.34 56.78 L562.34 56.86 L563.96 56.86 L563.96 56.51 L565.58 56.51 L565.58 56.16 L567.20 56.16 L567.20 56.38 L568.82 56.38 L568.82 56.26 L570.44 56.26 L570.44 56.05 L572.06 56.05 L572.06 55.80 L573.68 55.80 L573.68 55.65 L575.30 55.65 L575.30 56.25 L576.92 56.25 L576.92 56.05 L578.54 56.05 L578.54 56.22 L580.16 56.22 L580.16 56.83 L581.78 56.83 L581.78 56.57 L583.40 56.57 L583.40 56.59 L585.02 56.59 L585.02 56.66 L586.64 56.66 L586.64 56.67 L588.26 56.67 L588.26 57.33 L589.88 57.33 L589.88 56.94 L591.50 56.94 L591.50 57.24 L593.12 57.24 L593.12 57.53 L594.74 57.53 L594.74 57.21 L596.36 57.21 L596.36 57.29 L597.98 57.29 L597.98 57.72 L599.60 57.72 L599.60 57.52 L601.22 57.52 L601.22 57.91 L602.84 57.91 L602.84 57.94 L604.46 57.94 L604.46 58.33 L606.08 58.33 L606.08 57.92 L607.70 57.92 L607.70 58.92 L609.32 58.92 L609.32 58.55 L610.94 58.55 L610.94 58.54 L612.56 58.54 L612.56 59.21 L614.18 59.21 L614.18 59.00 L615.80 59.00 L615.80 59.12 L617.42 59.12 L617.42 58.97 L619.04 58.97 L619.04 58.92 L620.66 58.92 L620.66 59.24 L622.28 59.24 L622.28 59.43 L623.90 59.43 L623.90 58.96 L625.52 58.96 L625.52 59.01 L627.14 59.01 L627.14 59.33 L628.76 59.33 L628.76 59.21 L630.38 59.21 L630.38 59.22 L632.00 59.22 L632.00 59.21 L633.62 59.21 L633.62 59.30 L635.24 59.30 L635.24 59.10 L636.86 59.10 L636.86 59.68 L638.48 59.68 L638.48 59.21 L640.10 59.21 L640.10 59.35 L641.72 59.35 L641.72 59.47 L643.34 59.47 L643.34 59.25 L644.96 59.25 L644.96 59.88 L646.58 59.88 L646.58 59.30 L648.20 59.30 L648.20 59.45 L649.82 59.45 L649.82 59.74 L651.44 59.74 L651.44 59.49 L653.06 59.49 L653.06 59.63 L654.68 59.63 L654.68 66.40" fill="none" stroke="#fcaa5c" stroke-width="1.70" stroke-linejoin="miter"/>
<path d="M430.00 66.40 L430.00 66.30 L431.62 66.30 L431.62 66.11 L433.24 66.11 L433.24 65.89 L434.86 65.89 L434.86 65.73 L436.48 65.73 L436.48 65.54 L438.10 65.54 L438.10 65.36 L439.72 65.36 L439.72 65.18 L441.34 65.18 L441.34 65.28 L442.96 65.28 L442.96 65.17 L444.58 65.17 L444.58 65.26 L446.20 65.26 L446.20 65.24 L447.82 65.24 L447.82 65.26 L449.44 65.26 L449.44 65.23 L451.06 65.23 L451.06 65.34 L452.68 65.34 L452.68 65.30 L454.30 65.30 L454.30 65.31 L455.92 65.31 L455.92 65.28 L457.54 65.28 L457.54 65.35 L459.16 65.35 L459.16 65.34 L460.78 65.34 L460.78 65.37 L462.40 65.37 L462.40 65.35 L464.02 65.35 L464.02 65.35 L465.64 65.35 L465.64 65.40 L467.26 65.40 L467.26 65.36 L468.88 65.36 L468.88 65.38 L470.50 65.38 L470.50 65.39 L472.12 65.39 L472.12 65.38 L473.74 65.38 L473.74 65.42 L475.36 65.42 L475.36 65.40 L476.98 65.40 L476.98 65.42 L478.60 65.42 L478.60 65.41 L480.22 65.41 L480.22 65.39 L481.84 65.39 L481.84 65.42 L483.46 65.42 L483.46 65.41 L485.08 65.41 L485.08 65.42 L486.70 65.42 L486.70 65.42 L488.32 65.42 L488.32 65.42 L489.94 65.42 L489.94 65.40 L491.56 65.40 L491.56 65.43 L493.18 65.43 L493.18 65.39 L494.80 65.39 L494.80 65.36 L496.42 65.36 L496.42 65.38 L498.04 65.38 L498.04 65.40 L499.66 65.40 L499.66 65.40 L501.28 65.40 L501.28 65.32 L502.90 65.32 L502.90 65.16 L504.52 65.16 L504.52 65.13 L506.14 65.13 L506.14 65.07 L507.76 65.07 L507.76 64.96 L509.38 64.96 L509.38 64.81 L511.00 64.81 L511.00 64.80 L512.62 64.80 L512.62 64.70 L514.24 64.70 L514.24 64.63 L515.86 64.63 L515.86 64.58 L517.48 64.58 L517.48 64.54 L519.10 64.54 L519.10 64.42 L520.72 64.42 L520.72 64.25 L522.34 64.25 L522.34 64.03 L523.96 64.03 L523.96 63.84 L525.58 63.84 L525.58 63.65 L527.20 63.65 L527.20 63.52 L528.82 63.52 L528.82 63.30 L530.44 63.30 L530.44 63.26 L532.06 63.26 L532.06 62.92 L533.68 62.92 L533.68 62.79 L535.30 62.79 L535.30 62.66 L536.92 62.66 L536.92 62.38 L538.54 62.38 L538.54 62.23 L540.16 62.23 L540.16 61.89 L541.78 61.89 L541.78 61.63 L543.40 61.63 L543.40 61.34 L545.02 61.34 L545.02 61.57 L546.64 61.57 L546.64 61.37 L548.26 61.37 L548.26 61.05 L549.88 61.05 L549.88 60.75 L551.50 60.75 L551.50 60.44 L553.12 60.44 L553.12 60.30 L554.74 60.30 L554.74 60.44 L556.36 60.44 L556.36 59.94 L557.98 59.94 L557.98 59.51 L559.60 59.51 L559.60 59.38 L561.22 59.38 L561.22 59.05 L562.84 59.05 L562.84 59.00 L564.46 59.00 L564.46 58.76 L566.08 58.76 L566.08 58.45 L567.70 58.45 L567.70 58.17 L569.32 58.17 L569.32 57.98 L570.94 57.98 L570.94 57.90 L572.56 57.90 L572.56 58.13 L574.18 58.13 L574.18 57.96 L575.80 57.96 L575.80 58.08 L577.42 58.08 L577.42 57.93 L579.04 57.93 L579.04 57.97 L580.66 57.97 L580.66 58.24 L582.28 58.24 L582.28 58.41 L583.90 58.41 L583.90 58.52 L585.52 58.52 L585.52 58.33 L587.14 58.33 L587.14 58.42 L588.76 58.42 L588.76 58.53 L590.38 58.53 L590.38 58.47 L592.00 58.47 L592.00 58.63 L593.62 58.63 L593.62 58.39 L595.24 58.39 L595.24 58.64 L596.86 58.64 L596.86 58.33 L598.48 58.33 L598.48 58.51 L600.10 58.51 L600.10 58.49 L601.72 58.49 L601.72 58.82 L603.34 58.82 L603.34 58.58 L604.96 58.58 L604.96 58.48 L606.58 58.48 L606.58 58.81 L608.20 58.81 L608.20 58.68 L609.82 58.68 L609.82 58.63 L611.44 58.63 L611.44 58.91 L613.06 58.91 L613.06 58.59 L614.68 58.59 L614.68 58.49 L616.30 58.49 L616.30 58.83 L617.92 58.83 L617.92 58.60 L619.54 58.60 L619.54 58.93 L621.16 58.93 L621.16 58.69 L622.78 58.69 L622.78 59.00 L624.40 59.00 L624.40 58.48 L626.02 58.48 L626.02 58.62 L627.64 58.62 L627.64 58.71 L629.26 58.71 L629.26 58.86 L630.88 58.86 L630.88 58.47 L632.50 58.47 L632.50 58.34 L634.12 58.34 L634.12 59.08 L635.74 59.08 L635.74 58.50 L637.36 58.50 L637.36 58.43 L638.98 58.43 L638.98 58.68 L640.60 58.68 L640.60 58.98 L642.22 58.98 L642.22 58.59 L643.84 58.59 L643.84 58.80 L645.46 58.80 L645.46 58.88 L647.08 58.88 L647.08 59.01 L648.70 59.01 L648.70 58.67 L650.32 58.67 L650.32 58.63 L651.94 58.63 L651.94 58.91 L653.56 58.91 L653.56 58.70 L655.18 58.70 L655.18 66.40" fill="none" stroke="#a6d8ec" stroke-width="1.70" stroke-linejoin="miter"/>
<path d="M436.00 66.40 L436.00 66.22 L437.62 66.22 L437.62 65.83 L439.24 65.83 L439.24 65.49 L440.86 65.49 L440.86 65.50 L442.48 65.50 L442.48 65.54 L444.10 65.54 L444.10 65.51 L445.72 65.51 L445.72 65.51 L447.34 65.51 L447.34 65.50 L448.96 65.50 L448.96 65.51 L450.58 65.51 L450.58 65.50 L452.20 65.50 L452.20 65.51 L453.82 65.51 L453.82 65.53 L455.44 65.53 L455.44 65.48 L457.06 65.48 L457.06 65.48 L458.68 65.48 L458.68 65.46 L460.30 65.46 L460.30 65.50 L461.92 65.50 L461.92 65.51 L463.54 65.51 L463.54 65.51 L465.16 65.51 L465.16 65.53 L466.78 65.53 L466.78 65.48 L468.40 65.48 L468.40 65.52 L470.02 65.52 L470.02 65.52 L471.64 65.52 L471.64 65.50 L473.26 65.50 L473.26 65.45 L474.88 65.45 L474.88 65.48 L476.50 65.48 L476.50 65.50 L478.12 65.50 L478.12 65.49 L479.74 65.49 L479.74 65.45 L481.36 65.45 L481.36 65.46 L482.98 65.46 L482.98 65.47 L484.60 65.47 L484.60 65.45 L486.22 65.45 L486.22 65.43 L487.84 65.43 L487.84 65.39 L489.46 65.39 L489.46 65.46 L491.08 65.46 L491.08 65.44 L492.70 65.44 L492.70 65.44 L494.32 65.44 L494.32 65.48 L495.94 65.48 L495.94 65.43 L497.56 65.43 L497.56 65.43 L499.18 65.43 L499.18 65.37 L500.80 65.37 L500.80 65.39 L502.42 65.39 L502.42 65.41 L504.04 65.41 L504.04 65.33 L505.66 65.33 L505.66 65.34 L507.28 65.34 L507.28 65.37 L508.90 65.37 L508.90 65.32 L510.52 65.32 L510.52 65.30 L512.14 65.30 L512.14 65.30 L513.76 65.30 L513.76 65.25 L515.38 65.25 L515.38 65.30 L517.00 65.30 L517.00 65.23 L518.62 65.23 L518.62 65.18 L520.24 65.18 L520.24 65.15 L521.86 65.15 L521.86 65.11 L523.48 65.11 L523.48 65.07 L525.10 65.07 L525.10 65.02 L526.72 65.02 L526.72 65.08 L528.34 65.08 L528.34 64.97 L529.96 64.97 L529.96 65.04 L531.58 65.04 L531.58 64.96 L533.20 64.96 L533.20 64.97 L534.82 64.97 L534.82 64.63 L536.44 64.63 L536.44 64.39 L538.06 64.39 L538.06 64.25 L539.68 64.25 L539.68 63.91 L541.30 63.91 L541.30 63.84 L542.92 63.84 L542.92 63.56 L544.54 63.56 L544.54 63.31 L546.16 63.31 L546.16 63.03 L547.78 63.03 L547.78 62.52 L549.40 62.52 L549.40 61.98 L551.02 61.98 L551.02 61.93 L552.64 61.93 L552.64 61.32 L554.26 61.32 L554.26 60.90 L555.88 60.90 L555.88 60.03 L557.50 60.03 L557.50 59.64 L559.12 59.64 L559.12 59.02 L560.74 59.02 L560.74 58.43 L562.36 58.43 L562.36 58.15 L563.98 58.15 L563.98 58.23 L565.60 58.23 L565.60 57.36 L567.22 57.36 L567.22 57.70 L568.84 57.70 L568.84 57.07 L570.46 57.07 L570.46 56.75 L572.08 56.75 L572.08 57.06 L573.70 57.06 L573.70 56.79 L575.32 56.79 L575.32 56.50 L576.94 56.50 L576.94 56.75 L578.56 56.75 L578.56 56.93 L580.18 56.93 L580.18 57.38 L581.80 57.38 L581.80 56.87 L583.42 56.87 L583.42 56.74 L585.04 56.74 L585.04 56.69 L586.66 56.69 L586.66 56.76 L588.28 56.76 L588.28 56.40 L589.90 56.40 L589.90 56.59 L591.52 56.59 L591.52 56.44 L593.14 56.44 L593.14 56.19 L594.76 56.19 L594.76 56.51 L596.38 56.51 L596.38 56.31 L598.00 56.31 L598.00 55.61 L599.62 55.61 L599.62 55.87 L601.24 55.87 L601.24 56.37 L602.86 56.37 L602.86 55.99 L604.48 55.99 L604.48 55.75 L606.10 55.75 L606.10 55.51 L607.72 55.51 L607.72 55.73 L609.34 55.73 L609.34 55.84 L610.96 55.84 L610.96 55.83 L612.58 55.83 L612.58 55.43 L614.20 55.43 L614.20 55.52 L615.82 55.52 L615.82 55.74 L617.44 55.74 L617.44 55.65 L619.06 55.65 L619.06 55.71 L620.68 55.71 L620.68 55.40 L622.30 55.40 L622.30 55.79 L623.92 55.79 L623.92 55.47 L625.54 55.47 L625.54 55.37 L627.16 55.37 L627.16 55.47 L628.78 55.47 L628.78 55.83 L630.40 55.83 L630.40 55.24 L632.02 55.24 L632.02 55.78 L633.64 55.78 L633.64 55.48 L635.26 55.48 L635.26 55.80 L636.88 55.80 L636.88 56.07 L638.50 56.07 L638.50 55.54 L640.12 55.54 L640.12 55.52 L641.74 55.52 L641.74 55.62 L643.36 55.62 L643.36 55.53 L644.98 55.53 L644.98 55.78 L646.60 55.78 L646.60 55.80 L648.22 55.80 L648.22 55.65 L649.84 55.65 L649.84 55.08 L651.46 55.08 L651.46 55.38 L653.08 55.38 L653.08 55.74 L654.70 55.74 L654.70 66.40" fill="none" stroke="#2575b7" stroke-width="1.70" stroke-linejoin="miter"/>
</g>
<g clip-path="url(#crr)">
<path d="M655.20 66.40 L655.20 66.40 L655.20 69.56 L655.20 69.56 L655.20 72.72 L655.20 72.72 L655.20 75.88 L655.20 75.88 L655.20 79.04 L655.20 79.04 L655.20 82.20 L655.20 82.20 L655.20 85.36 L655.20 85.36 L655.20 88.52 L655.20 88.52 L655.20 91.68 L655.20 91.68 L655.20 94.84 L655.20 94.84 L655.20 98.00 L655.20 98.00 L655.20 101.16 L655.40 101.16 L655.40 104.32 L655.62 104.32 L655.62 107.48 L655.87 107.48 L655.87 110.64 L656.13 110.64 L656.13 113.80 L656.40 113.80 L656.40 116.96 L656.66 116.96 L656.66 120.12 L656.93 120.12 L656.93 123.28 L657.19 123.28 L657.19 126.44 L657.63 126.44 L657.63 129.60 L658.09 129.60 L658.09 132.76 L658.54 132.76 L658.54 135.92 L658.99 135.92 L658.99 139.08 L659.45 139.08 L659.45 142.24 L659.90 142.24 L659.90 145.40 L661.24 145.40 L661.24 148.56 L662.82 148.56 L662.82 151.72 L664.13 151.72 L664.13 154.88 L664.63 154.88 L664.63 158.04 L665.14 158.04 L665.14 161.20 L665.64 161.20 L665.64 164.36 L665.85 164.36 L665.85 167.52 L665.34 167.52 L665.34 170.68 L664.84 170.68 L664.84 173.84 L664.33 173.84 L664.33 177.00 L663.83 177.00 L663.83 180.16 L663.32 180.16 L663.32 183.32 L662.82 183.32 L662.82 186.48 L662.31 186.48 L662.31 189.64 L662.00 189.64 L662.00 192.80 L662.00 192.80 L662.00 195.96 L662.00 195.96 L662.00 199.12 L662.00 199.12 L662.00 202.28 L662.00 202.28 L662.00 205.44 L662.30 205.44 L662.30 208.60 L662.78 208.60 L662.78 211.76 L663.25 211.76 L663.25 214.92 L664.60 214.92 L664.60 218.08 L666.92 218.08 L666.92 221.24 L669.30 221.24 L669.30 224.40 L672.21 224.40 L672.21 227.56 L675.25 227.56 L675.25 230.72 L680.94 230.72 L680.94 233.88 L686.92 233.88 L686.92 237.04 L693.24 237.04 L693.24 240.20 L700.18 240.20 L700.18 243.36 L705.52 243.36 L705.52 246.52 L707.96 246.52 L707.96 249.68 L703.07 249.68 L703.07 252.84 L694.91 252.84 L694.91 256.00 L685.74 256.00 L685.74 259.16 L678.02 259.16 L678.02 262.32 L671.10 262.32 L671.10 265.48 L664.71 265.48 L664.71 268.64 L660.26 268.64 L660.26 271.80 L657.48 271.80 L657.48 274.96 L656.37 274.96 L656.37 278.12 L655.47 278.12 L655.47 281.28 L655.31 281.28 L655.31 284.44 L655.20 284.44 L655.20 287.60 L655.20 287.60 L655.20 290.76 L655.20 290.76 L655.20 293.92 L655.20 293.92 L655.20 297.08 L655.20 297.08 L655.20 300.24 L655.20 300.24 L655.20 303.40 L655.20 303.40Z" fill="#d6121a" fill-opacity="0.18" stroke="none"/>
<path d="M655.20 66.40 L655.20 66.40 L655.20 68.77 L655.20 68.77 L655.20 71.14 L655.20 71.14 L655.20 73.51 L655.20 73.51 L655.20 75.88 L655.20 75.88 L655.20 78.25 L655.20 78.25 L655.20 80.62 L655.20 80.62 L655.20 82.99 L655.20 82.99 L655.20 85.36 L655.20 85.36 L655.20 87.73 L655.20 87.73 L655.20 90.10 L655.20 90.10 L655.20 92.47 L655.49 92.47 L655.49 94.84 L655.90 94.84 L655.90 97.21 L656.32 97.21 L656.32 99.58 L656.67 99.58 L656.67 101.95 L657.21 101.95 L657.21 104.32 L657.48 104.32 L657.48 106.69 L657.93 106.69 L657.93 109.06 L658.42 109.06 L658.42 111.43 L658.82 111.43 L658.82 113.80 L659.65 113.80 L659.65 116.17 L660.48 116.17 L660.48 118.54 L661.47 118.54 L661.47 120.91 L662.58 120.91 L662.58 123.28 L663.69 123.28 L663.69 125.65 L664.88 125.65 L664.88 128.02 L666.65 128.02 L666.65 130.39 L668.48 130.39 L668.48 132.76 L670.84 132.76 L670.84 135.13 L673.48 135.13 L673.48 137.50 L675.42 137.50 L675.42 139.87 L678.57 139.87 L678.57 142.24 L680.95 142.24 L680.95 144.61 L683.23 144.61 L683.23 146.98 L684.60 146.98 L684.60 149.35 L684.97 149.35 L684.97 151.72 L686.49 151.72 L686.49 154.09 L687.61 154.09 L687.61 156.46 L687.88 156.46 L687.88 158.83 L688.05 158.83 L688.05 161.20 L688.42 161.20 L688.42 163.57 L689.43 163.57 L689.43 165.94 L688.98 165.94 L688.98 168.31 L690.28 168.31 L690.28 170.68 L685.79 170.68 L685.79 173.05 L685.72 173.05 L685.72 175.42 L684.16 175.42 L684.16 177.79 L682.97 177.79 L682.97 180.16 L680.79 180.16 L680.79 182.53 L678.49 182.53 L678.49 184.90 L677.31 184.90 L677.31 187.27 L675.95 187.27 L675.95 189.64 L673.98 189.64 L673.98 192.01 L672.62 192.01 L672.62 194.38 L670.04 194.38 L670.04 196.75 L669.47 196.75 L669.47 199.12 L668.26 199.12 L668.26 201.49 L666.71 201.49 L666.71 203.86 L665.81 203.86 L665.81 206.23 L664.74 206.23 L664.74 208.60 L663.64 208.60 L663.64 210.97 L662.85 210.97 L662.85 213.34 L662.02 213.34 L662.02 215.71 L660.90 215.71 L660.90 218.08 L659.96 218.08 L659.96 220.45 L659.35 220.45 L659.35 222.82 L658.90 222.82 L658.90 225.19 L658.45 225.19 L658.45 227.56 L657.84 227.56 L657.84 229.93 L657.41 229.93 L657.41 232.30 L657.11 232.30 L657.11 234.67 L656.88 234.67 L656.88 237.04 L656.77 237.04 L656.77 239.41 L656.62 239.41 L656.62 241.78 L656.47 241.78 L656.47 244.15 L656.32 244.15 L656.32 246.52 L656.11 246.52 L656.11 248.89 L656.00 248.89 L656.00 251.26 L655.95 251.26 L655.95 253.63 L655.91 253.63 L655.91 256.00 L655.90 256.00 L655.90 258.37 L655.87 258.37 L655.87 260.74 L655.81 260.74 L655.81 263.11 L655.79 263.11 L655.79 265.48 L655.74 265.48 L655.74 267.85 L655.71 267.85 L655.71 270.22 L655.67 270.22 L655.67 272.59 L655.66 272.59 L655.66 274.96 L655.58 274.96 L655.58 277.33 L655.57 277.33 L655.57 279.70 L655.54 279.70 L655.54 282.07 L655.50 282.07 L655.50 284.44 L655.46 284.44 L655.46 286.81 L655.43 286.81 L655.43 289.18 L655.39 289.18 L655.39 291.55 L655.35 291.55 L655.35 293.92 L655.32 293.92 L655.32 296.29 L655.28 296.29 L655.28 298.66 L655.25 298.66 L655.25 301.03 L655.21 301.03 L655.21 303.40 L655.20 303.40Z" fill="#fcaa5c" fill-opacity="0.18" stroke="none"/>
<path d="M655.20 66.40 L655.20 66.40 L655.20 68.77 L655.20 68.77 L655.20 71.14 L655.20 71.14 L655.20 73.51 L655.20 73.51 L655.20 75.88 L655.20 75.88 L655.20 78.25 L655.20 78.25 L655.20 80.62 L655.20 80.62 L655.20 82.99 L655.20 82.99 L655.20 85.36 L655.20 85.36 L655.20 87.73 L655.31 87.73 L655.31 90.10 L655.62 90.10 L655.62 92.47 L655.90 92.47 L655.90 94.84 L656.19 94.84 L656.19 97.21 L656.47 97.21 L656.47 99.58 L656.95 99.58 L656.95 101.95 L657.50 101.95 L657.50 104.32 L658.41 104.32 L658.41 106.69 L658.94 106.69 L658.94 109.06 L659.72 109.06 L659.72 111.43 L660.39 111.43 L660.39 113.80 L661.42 113.80 L661.42 116.17 L661.79 116.17 L661.79 118.54 L662.85 118.54 L662.85 120.91 L663.69 120.91 L663.69 123.28 L665.41 123.28 L665.41 125.65 L666.35 125.65 L666.35 128.02 L667.98 128.02 L667.98 130.39 L669.60 130.39 L669.60 132.76 L671.77 132.76 L671.77 135.13 L673.87 135.13 L673.87 137.50 L675.54 137.50 L675.54 139.87 L679.06 139.87 L679.06 142.24 L681.52 142.24 L681.52 144.61 L683.16 144.61 L683.16 146.98 L684.64 146.98 L684.64 149.35 L684.95 149.35 L684.95 151.72 L686.53 151.72 L686.53 154.09 L687.17 154.09 L687.17 156.46 L688.28 156.46 L688.28 158.83 L689.49 158.83 L689.49 161.20 L689.33 161.20 L689.33 163.57 L689.60 163.57 L689.60 165.94 L688.65 165.94 L688.65 168.31 L687.80 168.31 L687.80 170.68 L686.29 170.68 L686.29 173.05 L684.80 173.05 L684.80 175.42 L682.30 175.42 L682.30 177.79 L681.14 177.79 L681.14 180.16 L679.92 180.16 L679.92 182.53 L677.72 182.53 L677.72 184.90 L675.73 184.90 L675.73 187.27 L673.89 187.27 L673.89 189.64 L672.39 189.64 L672.39 192.01 L671.61 192.01 L671.61 194.38 L669.50 194.38 L669.50 196.75 L667.86 196.75 L667.86 199.12 L667.12 199.12 L667.12 201.49 L666.59 201.49 L666.59 203.86 L665.21 203.86 L665.21 206.23 L664.35 206.23 L664.35 208.60 L663.33 208.60 L663.33 210.97 L662.29 210.97 L662.29 213.34 L661.25 213.34 L661.25 215.71 L660.41 215.71 L660.41 218.08 L659.48 218.08 L659.48 220.45 L658.90 220.45 L658.90 222.82 L658.42 222.82 L658.42 225.19 L657.92 225.19 L657.92 227.56 L657.39 227.56 L657.39 229.93 L656.91 229.93 L656.91 232.30 L656.60 232.30 L656.60 234.67 L656.52 234.67 L656.52 237.04 L656.37 237.04 L656.37 239.41 L656.22 239.41 L656.22 241.78 L656.10 241.78 L656.10 244.15 L655.96 244.15 L655.96 246.52 L655.84 246.52 L655.84 248.89 L655.71 248.89 L655.71 251.26 L655.66 251.26 L655.66 253.63 L655.57 253.63 L655.57 256.00 L655.51 256.00 L655.51 258.37 L655.46 258.37 L655.46 260.74 L655.40 260.74 L655.40 263.11 L655.34 263.11 L655.34 265.48 L655.28 265.48 L655.28 267.85 L655.22 267.85 L655.22 270.22 L655.20 270.22 L655.20 272.59 L655.20 272.59 L655.20 274.96 L655.20 274.96 L655.20 277.33 L655.20 277.33 L655.20 279.70 L655.20 279.70 L655.20 282.07 L655.20 282.07 L655.20 284.44 L655.20 284.44 L655.20 286.81 L655.20 286.81 L655.20 289.18 L655.20 289.18 L655.20 291.55 L655.20 291.55 L655.20 293.92 L655.20 293.92 L655.20 296.29 L655.20 296.29 L655.20 298.66 L655.20 298.66 L655.20 301.03 L655.20 301.03 L655.20 303.40 L655.20 303.40Z" fill="#a6d8ec" fill-opacity="0.18" stroke="none"/>
<path d="M655.20 66.40 L655.20 66.40 L655.20 68.77 L655.20 68.77 L655.20 71.14 L655.20 71.14 L655.20 73.51 L655.20 73.51 L655.20 75.88 L655.20 75.88 L655.20 78.25 L655.20 78.25 L655.20 80.62 L655.20 80.62 L655.20 82.99 L655.20 82.99 L655.20 85.36 L655.20 85.36 L655.20 87.73 L655.20 87.73 L655.20 90.10 L655.34 90.10 L655.34 92.47 L655.62 92.47 L655.62 94.84 L655.99 94.84 L655.99 97.21 L656.44 97.21 L656.44 99.58 L656.82 99.58 L656.82 101.95 L657.32 101.95 L657.32 104.32 L657.76 104.32 L657.76 106.69 L658.22 106.69 L658.22 109.06 L658.63 109.06 L658.63 111.43 L659.22 111.43 L659.22 113.80 L660.06 113.80 L660.06 116.17 L660.83 116.17 L660.83 118.54 L661.98 118.54 L661.98 120.91 L662.90 120.91 L662.90 123.28 L664.66 123.28 L664.66 125.65 L665.93 125.65 L665.93 128.02 L667.40 128.02 L667.40 130.39 L669.62 130.39 L669.62 132.76 L671.62 132.76 L671.62 135.13 L674.89 135.13 L674.89 137.50 L676.96 137.50 L676.96 139.87 L680.00 139.87 L680.00 142.24 L683.65 142.24 L683.65 144.61 L687.20 144.61 L687.20 146.98 L688.08 146.98 L688.08 149.35 L688.03 149.35 L688.03 151.72 L689.01 151.72 L689.01 154.09 L690.68 154.09 L690.68 156.46 L690.48 156.46 L690.48 158.83 L690.40 158.83 L690.40 161.20 L691.13 161.20 L691.13 163.57 L691.63 163.57 L691.63 165.94 L691.53 165.94 L691.53 168.31 L688.36 168.31 L688.36 170.68 L686.72 170.68 L686.72 173.05 L684.26 173.05 L684.26 175.42 L681.10 175.42 L681.10 177.79 L680.05 177.79 L680.05 180.16 L678.14 180.16 L678.14 182.53 L677.38 182.53 L677.38 184.90 L675.26 184.90 L675.26 187.27 L673.13 187.27 L673.13 189.64 L672.37 189.64 L672.37 192.01 L670.46 192.01 L670.46 194.38 L668.51 194.38 L668.51 196.75 L667.41 196.75 L667.41 199.12 L666.63 199.12 L666.63 201.49 L665.79 201.49 L665.79 203.86 L665.19 203.86 L665.19 206.23 L663.77 206.23 L663.77 208.60 L663.12 208.60 L663.12 210.97 L662.29 210.97 L662.29 213.34 L661.29 213.34 L661.29 215.71 L660.35 215.71 L660.35 218.08 L659.39 218.08 L659.39 220.45 L658.79 220.45 L658.79 222.82 L658.16 222.82 L658.16 225.19 L657.82 225.19 L657.82 227.56 L657.24 227.56 L657.24 229.93 L656.85 229.93 L656.85 232.30 L656.57 232.30 L656.57 234.67 L656.53 234.67 L656.53 237.04 L656.42 237.04 L656.42 239.41 L656.27 239.41 L656.27 241.78 L656.19 241.78 L656.19 244.15 L656.02 244.15 L656.02 246.52 L655.92 246.52 L655.92 248.89 L655.80 248.89 L655.80 251.26 L655.74 251.26 L655.74 253.63 L655.70 253.63 L655.70 256.00 L655.66 256.00 L655.66 258.37 L655.59 258.37 L655.59 260.74 L655.55 260.74 L655.55 263.11 L655.49 263.11 L655.49 265.48 L655.44 265.48 L655.44 267.85 L655.39 267.85 L655.39 270.22 L655.34 270.22 L655.34 272.59 L655.29 272.59 L655.29 274.96 L655.24 274.96 L655.24 277.33 L655.20 277.33 L655.20 279.70 L655.20 279.70 L655.20 282.07 L655.20 282.07 L655.20 284.44 L655.20 284.44 L655.20 286.81 L655.20 286.81 L655.20 289.18 L655.20 289.18 L655.20 291.55 L655.20 291.55 L655.20 293.92 L655.20 293.92 L655.20 296.29 L655.20 296.29 L655.20 298.66 L655.20 298.66 L655.20 301.03 L655.20 301.03 L655.20 303.40 L655.20 303.40Z" fill="#2575b7" fill-opacity="0.18" stroke="none"/>
<line x1="655.20" y1="119.00" x2="716.40" y2="119.00" stroke="#a6d8ec" stroke-width="0.90" stroke-dasharray="3.2 1.4"/>
<line x1="655.20" y1="123.30" x2="716.40" y2="123.30" stroke="#fcaa5c" stroke-width="0.90" stroke-dasharray="3.2 1.4"/>
<line x1="655.20" y1="125.00" x2="716.40" y2="125.00" stroke="#2575b7" stroke-width="0.90" stroke-dasharray="3.2 1.4"/>
<line x1="655.20" y1="148.90" x2="716.40" y2="148.90" stroke="#d6121a" stroke-width="0.90" stroke-dasharray="3.2 1.4"/>
<line x1="655.20" y1="213.70" x2="716.40" y2="213.70" stroke="#2575b7" stroke-width="0.90" stroke-dasharray="3.2 1.4"/>
<line x1="655.20" y1="220.00" x2="716.40" y2="220.00" stroke="#fcaa5c" stroke-width="0.90" stroke-dasharray="3.2 1.4"/>
<line x1="655.20" y1="261.00" x2="716.40" y2="261.00" stroke="#d6121a" stroke-width="0.90" stroke-dasharray="3.2 1.4"/>
<path d="M655.20 66.40 L655.20 66.40 L655.20 69.56 L655.20 69.56 L655.20 72.72 L655.20 72.72 L655.20 75.88 L655.20 75.88 L655.20 79.04 L655.20 79.04 L655.20 82.20 L655.20 82.20 L655.20 85.36 L655.20 85.36 L655.20 88.52 L655.20 88.52 L655.20 91.68 L655.20 91.68 L655.20 94.84 L655.20 94.84 L655.20 98.00 L655.20 98.00 L655.20 101.16 L655.40 101.16 L655.40 104.32 L655.62 104.32 L655.62 107.48 L655.87 107.48 L655.87 110.64 L656.13 110.64 L656.13 113.80 L656.40 113.80 L656.40 116.96 L656.66 116.96 L656.66 120.12 L656.93 120.12 L656.93 123.28 L657.19 123.28 L657.19 126.44 L657.63 126.44 L657.63 129.60 L658.09 129.60 L658.09 132.76 L658.54 132.76 L658.54 135.92 L658.99 135.92 L658.99 139.08 L659.45 139.08 L659.45 142.24 L659.90 142.24 L659.90 145.40 L661.24 145.40 L661.24 148.56 L662.82 148.56 L662.82 151.72 L664.13 151.72 L664.13 154.88 L664.63 154.88 L664.63 158.04 L665.14 158.04 L665.14 161.20 L665.64 161.20 L665.64 164.36 L665.85 164.36 L665.85 167.52 L665.34 167.52 L665.34 170.68 L664.84 170.68 L664.84 173.84 L664.33 173.84 L664.33 177.00 L663.83 177.00 L663.83 180.16 L663.32 180.16 L663.32 183.32 L662.82 183.32 L662.82 186.48 L662.31 186.48 L662.31 189.64 L662.00 189.64 L662.00 192.80 L662.00 192.80 L662.00 195.96 L662.00 195.96 L662.00 199.12 L662.00 199.12 L662.00 202.28 L662.00 202.28 L662.00 205.44 L662.30 205.44 L662.30 208.60 L662.78 208.60 L662.78 211.76 L663.25 211.76 L663.25 214.92 L664.60 214.92 L664.60 218.08 L666.92 218.08 L666.92 221.24 L669.30 221.24 L669.30 224.40 L672.21 224.40 L672.21 227.56 L675.25 227.56 L675.25 230.72 L680.94 230.72 L680.94 233.88 L686.92 233.88 L686.92 237.04 L693.24 237.04 L693.24 240.20 L700.18 240.20 L700.18 243.36 L705.52 243.36 L705.52 246.52 L707.96 246.52 L707.96 249.68 L703.07 249.68 L703.07 252.84 L694.91 252.84 L694.91 256.00 L685.74 256.00 L685.74 259.16 L678.02 259.16 L678.02 262.32 L671.10 262.32 L671.10 265.48 L664.71 265.48 L664.71 268.64 L660.26 268.64 L660.26 271.80 L657.48 271.80 L657.48 274.96 L656.37 274.96 L656.37 278.12 L655.47 278.12 L655.47 281.28 L655.31 281.28 L655.31 284.44 L655.20 284.44 L655.20 287.60 L655.20 287.60 L655.20 290.76 L655.20 290.76 L655.20 293.92 L655.20 293.92 L655.20 297.08 L655.20 297.08 L655.20 300.24 L655.20 300.24 L655.20 303.40 L655.20 303.40" fill="none" stroke="#d6121a" stroke-width="1.70" stroke-linejoin="miter"/>
<path d="M655.20 66.40 L655.20 66.40 L655.20 68.77 L655.20 68.77 L655.20 71.14 L655.20 71.14 L655.20 73.51 L655.20 73.51 L655.20 75.88 L655.20 75.88 L655.20 78.25 L655.20 78.25 L655.20 80.62 L655.20 80.62 L655.20 82.99 L655.20 82.99 L655.20 85.36 L655.20 85.36 L655.20 87.73 L655.20 87.73 L655.20 90.10 L655.20 90.10 L655.20 92.47 L655.49 92.47 L655.49 94.84 L655.90 94.84 L655.90 97.21 L656.32 97.21 L656.32 99.58 L656.67 99.58 L656.67 101.95 L657.21 101.95 L657.21 104.32 L657.48 104.32 L657.48 106.69 L657.93 106.69 L657.93 109.06 L658.42 109.06 L658.42 111.43 L658.82 111.43 L658.82 113.80 L659.65 113.80 L659.65 116.17 L660.48 116.17 L660.48 118.54 L661.47 118.54 L661.47 120.91 L662.58 120.91 L662.58 123.28 L663.69 123.28 L663.69 125.65 L664.88 125.65 L664.88 128.02 L666.65 128.02 L666.65 130.39 L668.48 130.39 L668.48 132.76 L670.84 132.76 L670.84 135.13 L673.48 135.13 L673.48 137.50 L675.42 137.50 L675.42 139.87 L678.57 139.87 L678.57 142.24 L680.95 142.24 L680.95 144.61 L683.23 144.61 L683.23 146.98 L684.60 146.98 L684.60 149.35 L684.97 149.35 L684.97 151.72 L686.49 151.72 L686.49 154.09 L687.61 154.09 L687.61 156.46 L687.88 156.46 L687.88 158.83 L688.05 158.83 L688.05 161.20 L688.42 161.20 L688.42 163.57 L689.43 163.57 L689.43 165.94 L688.98 165.94 L688.98 168.31 L690.28 168.31 L690.28 170.68 L685.79 170.68 L685.79 173.05 L685.72 173.05 L685.72 175.42 L684.16 175.42 L684.16 177.79 L682.97 177.79 L682.97 180.16 L680.79 180.16 L680.79 182.53 L678.49 182.53 L678.49 184.90 L677.31 184.90 L677.31 187.27 L675.95 187.27 L675.95 189.64 L673.98 189.64 L673.98 192.01 L672.62 192.01 L672.62 194.38 L670.04 194.38 L670.04 196.75 L669.47 196.75 L669.47 199.12 L668.26 199.12 L668.26 201.49 L666.71 201.49 L666.71 203.86 L665.81 203.86 L665.81 206.23 L664.74 206.23 L664.74 208.60 L663.64 208.60 L663.64 210.97 L662.85 210.97 L662.85 213.34 L662.02 213.34 L662.02 215.71 L660.90 215.71 L660.90 218.08 L659.96 218.08 L659.96 220.45 L659.35 220.45 L659.35 222.82 L658.90 222.82 L658.90 225.19 L658.45 225.19 L658.45 227.56 L657.84 227.56 L657.84 229.93 L657.41 229.93 L657.41 232.30 L657.11 232.30 L657.11 234.67 L656.88 234.67 L656.88 237.04 L656.77 237.04 L656.77 239.41 L656.62 239.41 L656.62 241.78 L656.47 241.78 L656.47 244.15 L656.32 244.15 L656.32 246.52 L656.11 246.52 L656.11 248.89 L656.00 248.89 L656.00 251.26 L655.95 251.26 L655.95 253.63 L655.91 253.63 L655.91 256.00 L655.90 256.00 L655.90 258.37 L655.87 258.37 L655.87 260.74 L655.81 260.74 L655.81 263.11 L655.79 263.11 L655.79 265.48 L655.74 265.48 L655.74 267.85 L655.71 267.85 L655.71 270.22 L655.67 270.22 L655.67 272.59 L655.66 272.59 L655.66 274.96 L655.58 274.96 L655.58 277.33 L655.57 277.33 L655.57 279.70 L655.54 279.70 L655.54 282.07 L655.50 282.07 L655.50 284.44 L655.46 284.44 L655.46 286.81 L655.43 286.81 L655.43 289.18 L655.39 289.18 L655.39 291.55 L655.35 291.55 L655.35 293.92 L655.32 293.92 L655.32 296.29 L655.28 296.29 L655.28 298.66 L655.25 298.66 L655.25 301.03 L655.21 301.03 L655.21 303.40 L655.20 303.40" fill="none" stroke="#fcaa5c" stroke-width="1.70" stroke-linejoin="miter"/>
<path d="M655.20 66.40 L655.20 66.40 L655.20 68.77 L655.20 68.77 L655.20 71.14 L655.20 71.14 L655.20 73.51 L655.20 73.51 L655.20 75.88 L655.20 75.88 L655.20 78.25 L655.20 78.25 L655.20 80.62 L655.20 80.62 L655.20 82.99 L655.20 82.99 L655.20 85.36 L655.20 85.36 L655.20 87.73 L655.31 87.73 L655.31 90.10 L655.62 90.10 L655.62 92.47 L655.90 92.47 L655.90 94.84 L656.19 94.84 L656.19 97.21 L656.47 97.21 L656.47 99.58 L656.95 99.58 L656.95 101.95 L657.50 101.95 L657.50 104.32 L658.41 104.32 L658.41 106.69 L658.94 106.69 L658.94 109.06 L659.72 109.06 L659.72 111.43 L660.39 111.43 L660.39 113.80 L661.42 113.80 L661.42 116.17 L661.79 116.17 L661.79 118.54 L662.85 118.54 L662.85 120.91 L663.69 120.91 L663.69 123.28 L665.41 123.28 L665.41 125.65 L666.35 125.65 L666.35 128.02 L667.98 128.02 L667.98 130.39 L669.60 130.39 L669.60 132.76 L671.77 132.76 L671.77 135.13 L673.87 135.13 L673.87 137.50 L675.54 137.50 L675.54 139.87 L679.06 139.87 L679.06 142.24 L681.52 142.24 L681.52 144.61 L683.16 144.61 L683.16 146.98 L684.64 146.98 L684.64 149.35 L684.95 149.35 L684.95 151.72 L686.53 151.72 L686.53 154.09 L687.17 154.09 L687.17 156.46 L688.28 156.46 L688.28 158.83 L689.49 158.83 L689.49 161.20 L689.33 161.20 L689.33 163.57 L689.60 163.57 L689.60 165.94 L688.65 165.94 L688.65 168.31 L687.80 168.31 L687.80 170.68 L686.29 170.68 L686.29 173.05 L684.80 173.05 L684.80 175.42 L682.30 175.42 L682.30 177.79 L681.14 177.79 L681.14 180.16 L679.92 180.16 L679.92 182.53 L677.72 182.53 L677.72 184.90 L675.73 184.90 L675.73 187.27 L673.89 187.27 L673.89 189.64 L672.39 189.64 L672.39 192.01 L671.61 192.01 L671.61 194.38 L669.50 194.38 L669.50 196.75 L667.86 196.75 L667.86 199.12 L667.12 199.12 L667.12 201.49 L666.59 201.49 L666.59 203.86 L665.21 203.86 L665.21 206.23 L664.35 206.23 L664.35 208.60 L663.33 208.60 L663.33 210.97 L662.29 210.97 L662.29 213.34 L661.25 213.34 L661.25 215.71 L660.41 215.71 L660.41 218.08 L659.48 218.08 L659.48 220.45 L658.90 220.45 L658.90 222.82 L658.42 222.82 L658.42 225.19 L657.92 225.19 L657.92 227.56 L657.39 227.56 L657.39 229.93 L656.91 229.93 L656.91 232.30 L656.60 232.30 L656.60 234.67 L656.52 234.67 L656.52 237.04 L656.37 237.04 L656.37 239.41 L656.22 239.41 L656.22 241.78 L656.10 241.78 L656.10 244.15 L655.96 244.15 L655.96 246.52 L655.84 246.52 L655.84 248.89 L655.71 248.89 L655.71 251.26 L655.66 251.26 L655.66 253.63 L655.57 253.63 L655.57 256.00 L655.51 256.00 L655.51 258.37 L655.46 258.37 L655.46 260.74 L655.40 260.74 L655.40 263.11 L655.34 263.11 L655.34 265.48 L655.28 265.48 L655.28 267.85 L655.22 267.85 L655.22 270.22 L655.20 270.22 L655.20 272.59 L655.20 272.59 L655.20 274.96 L655.20 274.96 L655.20 277.33 L655.20 277.33 L655.20 279.70 L655.20 279.70 L655.20 282.07 L655.20 282.07 L655.20 284.44 L655.20 284.44 L655.20 286.81 L655.20 286.81 L655.20 289.18 L655.20 289.18 L655.20 291.55 L655.20 291.55 L655.20 293.92 L655.20 293.92 L655.20 296.29 L655.20 296.29 L655.20 298.66 L655.20 298.66 L655.20 301.03 L655.20 301.03 L655.20 303.40 L655.20 303.40" fill="none" stroke="#a6d8ec" stroke-width="1.70" stroke-linejoin="miter"/>
<path d="M655.20 66.40 L655.20 66.40 L655.20 68.77 L655.20 68.77 L655.20 71.14 L655.20 71.14 L655.20 73.51 L655.20 73.51 L655.20 75.88 L655.20 75.88 L655.20 78.25 L655.20 78.25 L655.20 80.62 L655.20 80.62 L655.20 82.99 L655.20 82.99 L655.20 85.36 L655.20 85.36 L655.20 87.73 L655.20 87.73 L655.20 90.10 L655.34 90.10 L655.34 92.47 L655.62 92.47 L655.62 94.84 L655.99 94.84 L655.99 97.21 L656.44 97.21 L656.44 99.58 L656.82 99.58 L656.82 101.95 L657.32 101.95 L657.32 104.32 L657.76 104.32 L657.76 106.69 L658.22 106.69 L658.22 109.06 L658.63 109.06 L658.63 111.43 L659.22 111.43 L659.22 113.80 L660.06 113.80 L660.06 116.17 L660.83 116.17 L660.83 118.54 L661.98 118.54 L661.98 120.91 L662.90 120.91 L662.90 123.28 L664.66 123.28 L664.66 125.65 L665.93 125.65 L665.93 128.02 L667.40 128.02 L667.40 130.39 L669.62 130.39 L669.62 132.76 L671.62 132.76 L671.62 135.13 L674.89 135.13 L674.89 137.50 L676.96 137.50 L676.96 139.87 L680.00 139.87 L680.00 142.24 L683.65 142.24 L683.65 144.61 L687.20 144.61 L687.20 146.98 L688.08 146.98 L688.08 149.35 L688.03 149.35 L688.03 151.72 L689.01 151.72 L689.01 154.09 L690.68 154.09 L690.68 156.46 L690.48 156.46 L690.48 158.83 L690.40 158.83 L690.40 161.20 L691.13 161.20 L691.13 163.57 L691.63 163.57 L691.63 165.94 L691.53 165.94 L691.53 168.31 L688.36 168.31 L688.36 170.68 L686.72 170.68 L686.72 173.05 L684.26 173.05 L684.26 175.42 L681.10 175.42 L681.10 177.79 L680.05 177.79 L680.05 180.16 L678.14 180.16 L678.14 182.53 L677.38 182.53 L677.38 184.90 L675.26 184.90 L675.26 187.27 L673.13 187.27 L673.13 189.64 L672.37 189.64 L672.37 192.01 L670.46 192.01 L670.46 194.38 L668.51 194.38 L668.51 196.75 L667.41 196.75 L667.41 199.12 L666.63 199.12 L666.63 201.49 L665.79 201.49 L665.79 203.86 L665.19 203.86 L665.19 206.23 L663.77 206.23 L663.77 208.60 L663.12 208.60 L663.12 210.97 L662.29 210.97 L662.29 213.34 L661.29 213.34 L661.29 215.71 L660.35 215.71 L660.35 218.08 L659.39 218.08 L659.39 220.45 L658.79 220.45 L658.79 222.82 L658.16 222.82 L658.16 225.19 L657.82 225.19 L657.82 227.56 L657.24 227.56 L657.24 229.93 L656.85 229.93 L656.85 232.30 L656.57 232.30 L656.57 234.67 L656.53 234.67 L656.53 237.04 L656.42 237.04 L656.42 239.41 L656.27 239.41 L656.27 241.78 L656.19 241.78 L656.19 244.15 L656.02 244.15 L656.02 246.52 L655.92 246.52 L655.92 248.89 L655.80 248.89 L655.80 251.26 L655.74 251.26 L655.74 253.63 L655.70 253.63 L655.70 256.00 L655.66 256.00 L655.66 258.37 L655.59 258.37 L655.59 260.74 L655.55 260.74 L655.55 263.11 L655.49 263.11 L655.49 265.48 L655.44 265.48 L655.44 267.85 L655.39 267.85 L655.39 270.22 L655.34 270.22 L655.34 272.59 L655.29 272.59 L655.29 274.96 L655.24 274.96 L655.24 277.33 L655.20 277.33 L655.20 279.70 L655.20 279.70 L655.20 282.07 L655.20 282.07 L655.20 284.44 L655.20 284.44 L655.20 286.81 L655.20 286.81 L655.20 289.18 L655.20 289.18 L655.20 291.55 L655.20 291.55 L655.20 293.92 L655.20 293.92 L655.20 296.29 L655.20 296.29 L655.20 298.66 L655.20 298.66 L655.20 301.03 L655.20 301.03 L655.20 303.40 L655.20 303.40" fill="none" stroke="#2575b7" stroke-width="1.70" stroke-linejoin="miter"/>
</g>
<line x1="655.50" y1="66.40" x2="655.50" y2="278.00" stroke="#2575b7" stroke-width="1.3"/>
<line x1="655.20" y1="278.00" x2="655.20" y2="303.40" stroke="#fcaa5c" stroke-width="1.3"/>
<path d="M412.20 298.32h-1.5M412.20 291.46h-1.5M412.20 284.59h-2.6M412.20 277.73h-1.5M412.20 270.86h-1.5M412.20 264.00h-1.5M412.20 257.13h-2.6M412.20 250.27h-1.5M412.20 243.40h-1.5M412.20 236.53h-1.5M412.20 229.67h-2.6M412.20 222.81h-1.5M412.20 215.94h-1.5M412.20 209.07h-1.5M412.20 202.21h-2.6M412.20 195.34h-1.5M412.20 188.48h-1.5M412.20 181.62h-1.5M412.20 174.75h-2.6M412.20 167.88h-1.5M412.20 161.02h-1.5M412.20 154.16h-1.5M412.20 147.29h-2.6M412.20 140.43h-1.5M412.20 133.56h-1.5M412.20 126.69h-1.5M412.20 119.83h-2.6M412.20 112.97h-1.5M412.20 106.10h-1.5M412.20 99.23h-1.5M412.20 92.37h-2.6M412.20 85.50h-1.5M412.20 78.64h-1.5M412.20 71.77h-1.5M414.79 303.40v1.5M427.43 303.40v1.5M440.06 303.40v1.5M452.70 303.40v2.6M465.33 303.40v1.5M477.97 303.40v1.5M490.61 303.40v1.5M503.24 303.40v2.6M515.88 303.40v1.5M528.51 303.40v1.5M541.14 303.40v1.5M553.78 303.40v2.6M566.41 303.40v1.5M579.05 303.40v1.5M591.68 303.40v1.5M604.32 303.40v2.6M616.96 303.40v1.5M629.59 303.40v1.5M642.22 303.40v1.5M412.20 24.50h-1.5M412.20 45.50h-1.5M687.75 303.40v2.0M711.50 303.40v2.0M664.00 303.40v1.3M675.90 303.40v1.3M699.60 303.40v1.3" stroke="#8c8c8c" stroke-width="0.7" fill="none"/>
<text class="t" transform="translate(408.00,96.12) scale(1.125,1)" text-anchor="end" font-size="10">0.6</text>
<text class="t" transform="translate(408.00,123.58) scale(1.125,1)" text-anchor="end" font-size="10">0.4</text>
<text class="t" transform="translate(408.00,151.04) scale(1.125,1)" text-anchor="end" font-size="10">0.2</text>
<text class="t" transform="translate(408.00,178.50) scale(1.125,1)" text-anchor="end" font-size="10">0.0</text>
<text class="t" transform="translate(408.00,205.96) scale(1.125,1)" text-anchor="end" font-size="10">−0.2</text>
<text class="t" transform="translate(408.00,233.42) scale(1.125,1)" text-anchor="end" font-size="10">−0.4</text>
<text class="t" transform="translate(408.00,260.88) scale(1.125,1)" text-anchor="end" font-size="10">−0.6</text>
<text class="t" transform="translate(408.00,288.34) scale(1.125,1)" text-anchor="end" font-size="10">−0.8</text>
<text class="t" transform="translate(452.70,316.30) scale(1.125,1)" text-anchor="middle" font-size="10">0.2</text>
<text class="t" transform="translate(503.24,316.30) scale(1.125,1)" text-anchor="middle" font-size="10">0.4</text>
<text class="t" transform="translate(553.78,316.30) scale(1.125,1)" text-anchor="middle" font-size="10">0.6</text>
<text class="t" transform="translate(604.32,316.30) scale(1.125,1)" text-anchor="middle" font-size="10">0.8</text>
<text class="t" transform="translate(533.90,329.60) scale(1.125,1)" text-anchor="middle" font-size="16">q</text>
<text class="m" transform="translate(372.50,186.50) rotate(-90) scale(1.100,1)" text-anchor="middle" font-size="15"><tspan font-style="italic">χ</tspan><tspan font-size="9.5" dy="3.5">eff</tspan></text>
</g>
</svg>
</body></html>
